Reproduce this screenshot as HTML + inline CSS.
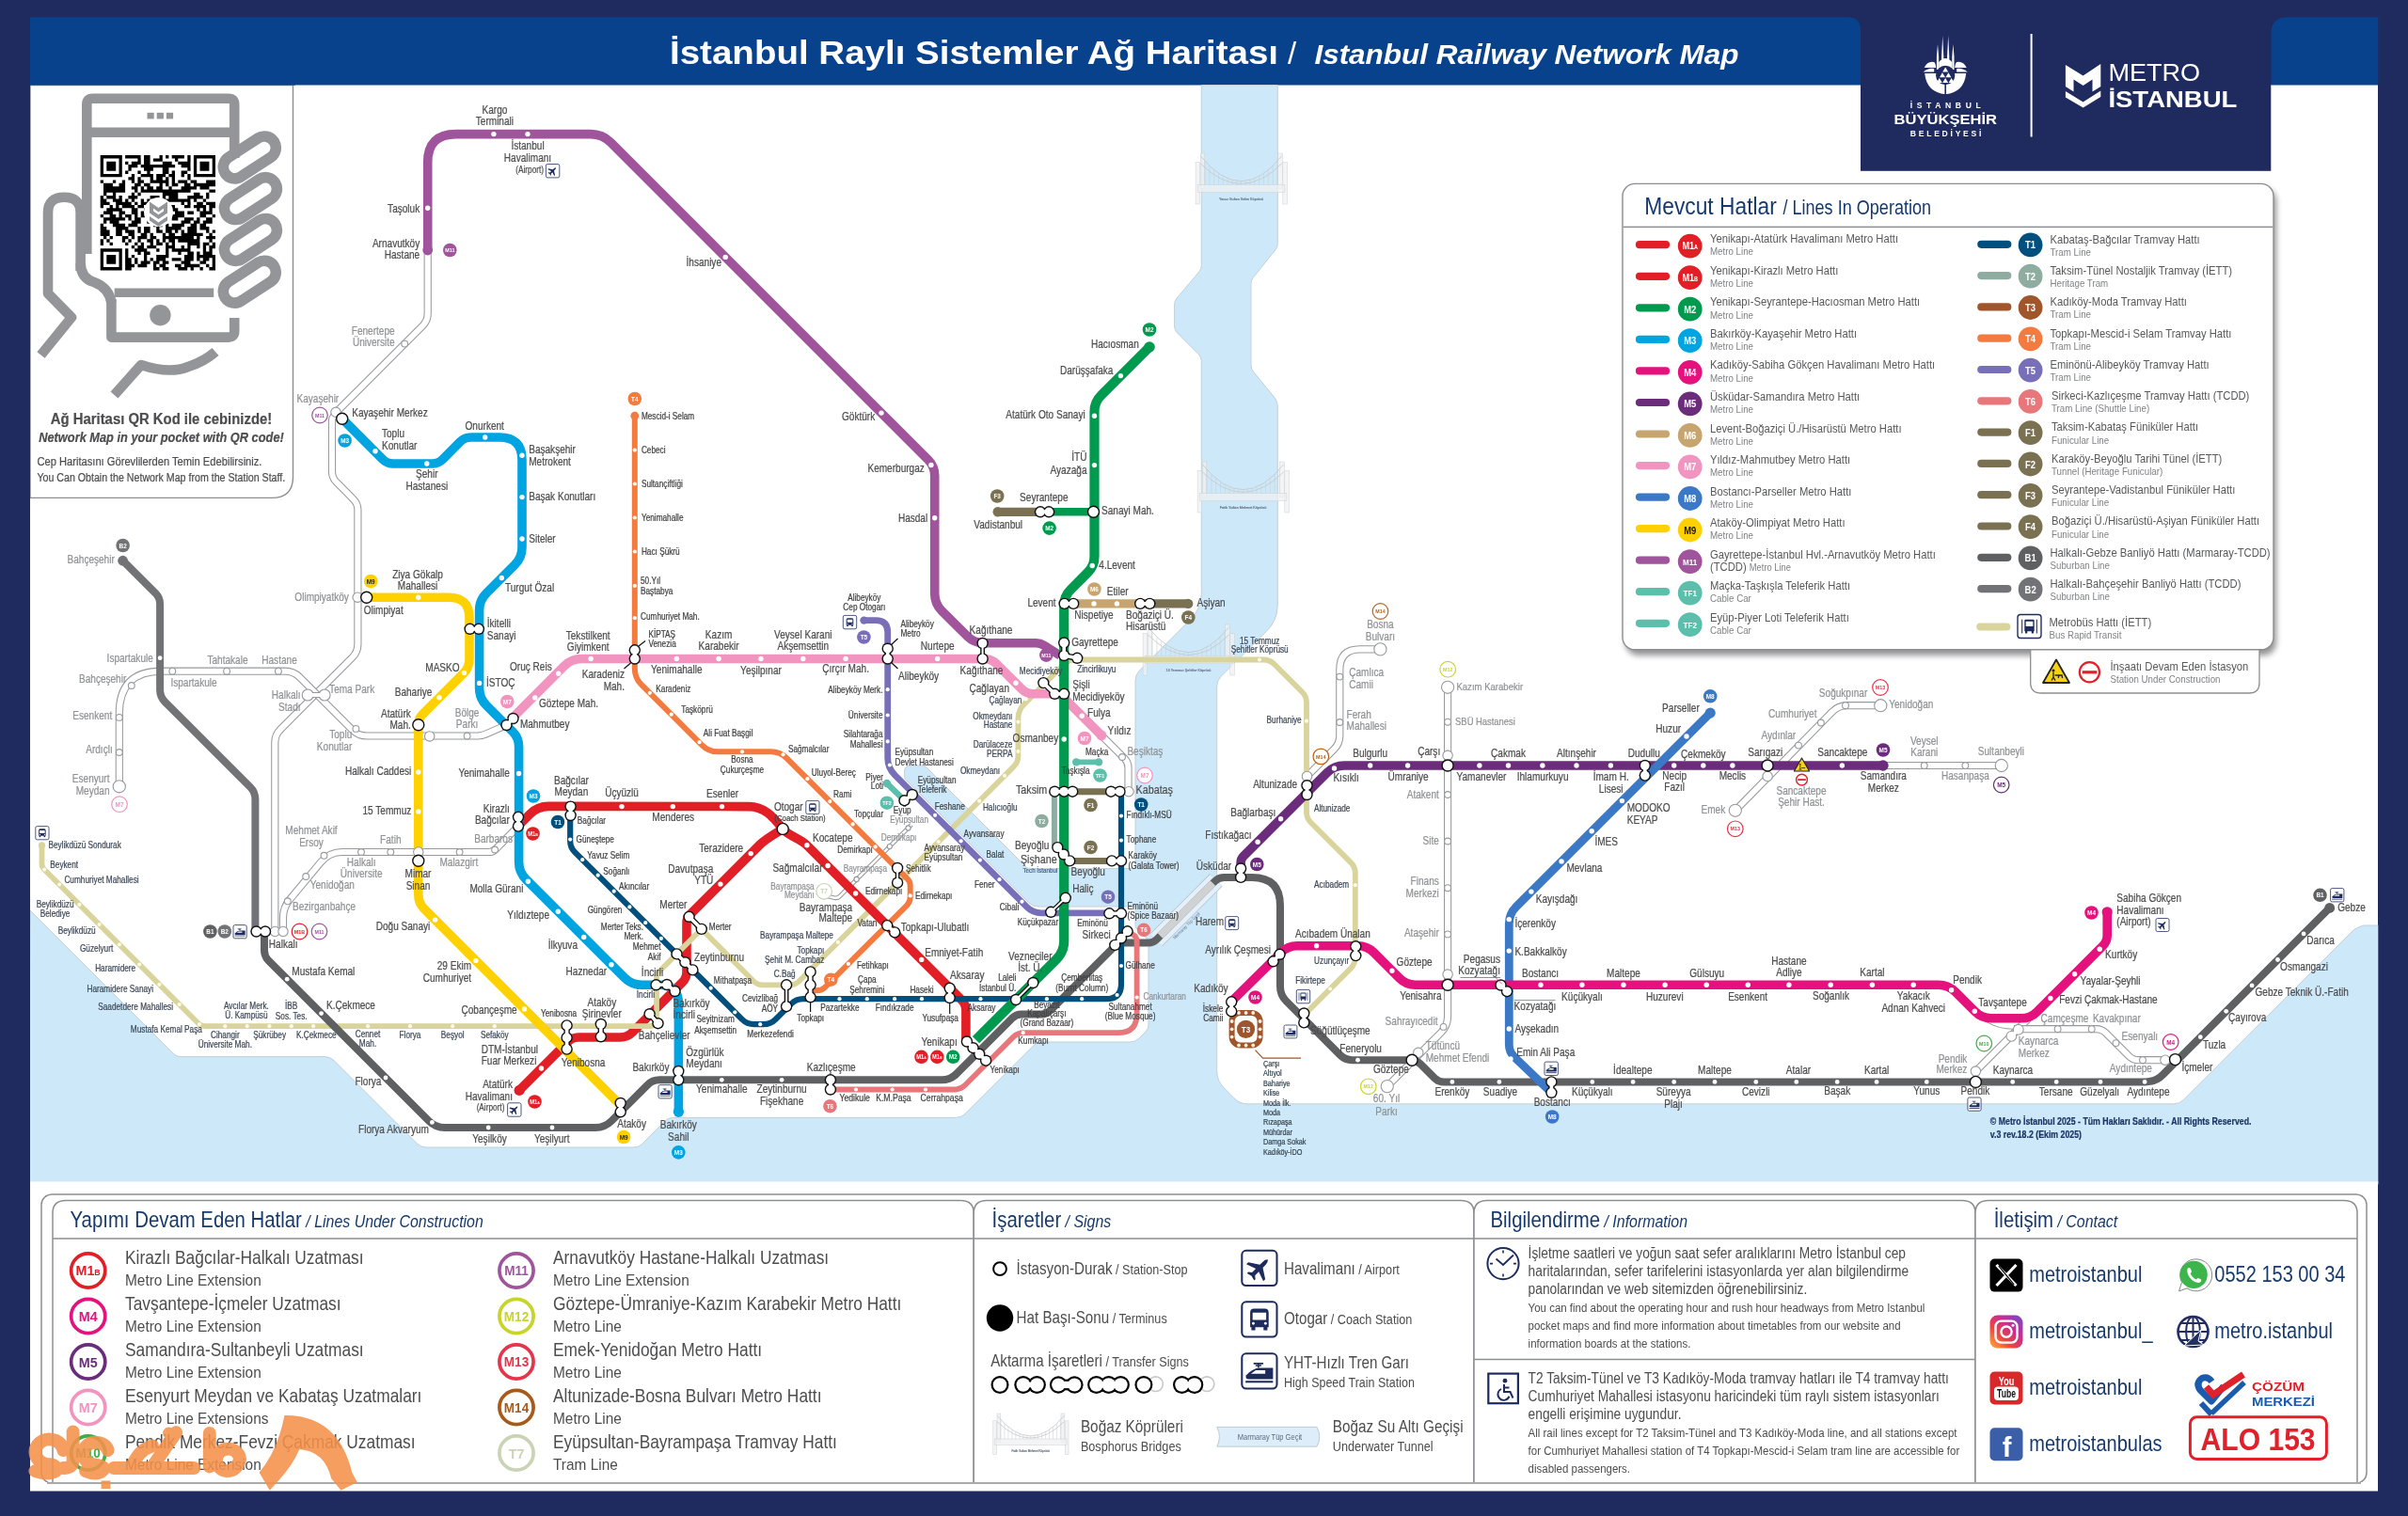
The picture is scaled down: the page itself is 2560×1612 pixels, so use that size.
<!DOCTYPE html>
<html><head><meta charset="utf-8"><title>Istanbul Railway Network Map</title>
<style>html,body{margin:0;padding:0;background:#1f2a5e}svg{display:block}text{font-family:"Liberation Sans",sans-serif}</style>
</head><body>
<svg width="2560" height="1612" viewBox="0 0 2560 1612" style="opacity:0.9999">
<rect x="0" y="0" width="2560" height="1612" fill="#1f2a5e"/>
<rect x="32" y="90" width="2496" height="1495.5" fill="#fff"/>
<path d="M32 18.3 H1964 Q1978 18.3 1978 32 V90.5 H32 Z" fill="#08428c"/>
<path d="M2528.3 18.3 H2432 Q2414.3 18.3 2414.3 36 V90.5 H2528.3 Z" fill="#08428c"/>
<rect x="1978" y="0" width="436.3" height="181.8" fill="#1f2a5e"/>
<path d="M32.0 968.0 L180.9 1116.9 Q181.0 1117.0 181.1 1117.1 L185.1 1120.9 Q188.0 1123.6 192.0 1123.6 L345.2 1123.6 Q351.0 1123.6 355.1 1127.7 L443.4 1215.9 Q447.5 1220.0 453.3 1220.0 L674.0 1220.0 Q679.0 1220.0 682.5 1216.5 L707.0 1191.9 Q710.5 1188.4 715.5 1188.4 L1016.2 1188.4 Q1022.0 1188.4 1026.1 1184.3 L1099.0 1111.5 Q1102.5 1108.0 1107.5 1108.0 L1201.2 1108.0 Q1207.0 1108.0 1211.1 1103.9 L1218.1 1096.9 Q1221.0 1094.0 1221.0 1089.9 L1221.0 1002.5 Q1221.0 1000.0 1219.2 998.2 L1208.2 987.2 Q1207.0 986.0 1207.0 984.3 L1207.0 964.0 L1103.8 964.0 Q1098.0 964.0 1093.9 959.9 L962.4 828.4 Q961.5 827.5 961.5 826.3 L961.5 820.8 Q961.5 814.0 968.2 814.0 L980.5 814.0 Q983.0 814.0 984.8 815.8 L1090.3 921.3 Q1092.6 923.6 1095.9 923.6 L1207.0 923.6 L1207.0 723.6 Q1207.0 717.4 1211.4 713.0 L1265.6 658.7 Q1277.3 647.0 1277.3 630.4 L1277.3 383.8 Q1277.3 379.7 1274.4 376.8 L1251.5 353.9 Q1248.6 351.0 1248.6 346.9 L1248.6 323.7 Q1248.6 320.0 1251.0 317.2 L1274.9 288.8 Q1277.3 286.0 1277.3 282.3 L1277.3 90.5 L1358.3 90.5 L1358.3 259.3 Q1358.3 262.8 1356.1 265.5 L1332.2 295.3 Q1330.0 298.0 1330.0 301.5 L1330.0 388.5 Q1330.0 392.0 1332.2 394.8 L1355.2 423.1 Q1358.3 427.0 1358.3 432.0 L1358.3 642.9 Q1358.3 659.6 1346.5 671.3 L1298.1 719.3 Q1293.7 723.7 1293.7 729.9 L1293.7 1138.8 Q1293.7 1149.0 1300.8 1156.3 L1312.1 1167.8 Q1318.0 1173.8 1326.4 1173.8 L2311.2 1173.8 Q2317.0 1173.8 2321.1 1169.7 L2501.2 989.8 Q2503.0 988.0 2505.4 986.9 L2510.4 984.7 Q2512.0 984.0 2513.7 984.0 L2530.0 984.0 L2530.0 1257.5 L30.0 1257.5 Z" fill="#cde9f9" stroke="#c3cfd8" stroke-width="1"/>
<rect x="0" y="900" width="32" height="400" fill="#1f2a5e"/>
<rect x="2528.3" y="900" width="32" height="400" fill="#1f2a5e"/>
<rect x="32" y="1256.5" width="2496.3" height="3" fill="#fff"/>
<g stroke="#cdd0d4" stroke-width="0.5" fill="#eef0f1" fill-opacity="0.75">
<rect x="1271.1" y="172.7" width="4.6" height="44.3"/>
<rect x="1276.2" y="163.0" width="4.6" height="37.8"/>
<rect x="1363.8" y="172.7" width="4.6" height="44.3"/>
<rect x="1358.7" y="163.0" width="4.6" height="37.8"/>
<rect x="1273.2" y="196.5" width="92.7" height="8.1"/>
</g>
<path d="M1276.2 165.7 Q1319.5 219.7 1362.8 165.7" fill="none" stroke="#c4c6c9" stroke-width="0.8"/>
<path d="M1276.2 173.8 Q1319.5 217.0 1362.8 173.8" fill="none" stroke="#c4c6c9" stroke-width="0.8"/>
<path d="M1281.0 171.4 V196.5 M1285.9 176.4 V196.5 M1290.7 180.7 V196.5 M1295.5 184.4 V196.5 M1300.3 187.4 V196.5 M1305.1 189.7 V196.5 M1309.9 191.4 V196.5 M1314.7 192.4 V196.5 M1319.5 192.7 V196.5 M1324.3 192.4 V196.5 M1329.1 191.4 V196.5 M1333.9 189.7 V196.5 M1338.7 187.4 V196.5 M1343.5 184.4 V196.5 M1348.3 180.7 V196.5 M1353.1 176.4 V196.5 M1358.0 171.4 V196.5" stroke="#c9cbce" stroke-width="0.5" fill="none"/>
<text transform="translate(1319.5 213.2) scale(0.850 1)" font-size="4.4" text-anchor="middle" fill="#6d7b8f" stroke="#6d7b8f" stroke-width="0.22" >Yavuz Sultan Selim Köprüsü</text>
<g stroke="#cdd0d4" stroke-width="0.5" fill="#eef0f1" fill-opacity="0.75">
<rect x="1273.1" y="500.7" width="4.6" height="44.3"/>
<rect x="1278.2" y="491.0" width="4.6" height="37.8"/>
<rect x="1365.8" y="500.7" width="4.6" height="44.3"/>
<rect x="1360.7" y="491.0" width="4.6" height="37.8"/>
<rect x="1275.2" y="524.5" width="92.7" height="8.1"/>
</g>
<path d="M1278.2 493.7 Q1321.5 547.7 1364.8 493.7" fill="none" stroke="#c4c6c9" stroke-width="0.8"/>
<path d="M1278.2 501.8 Q1321.5 545.0 1364.8 501.8" fill="none" stroke="#c4c6c9" stroke-width="0.8"/>
<path d="M1283.0 499.4 V524.5 M1287.9 504.4 V524.5 M1292.7 508.7 V524.5 M1297.5 512.4 V524.5 M1302.3 515.4 V524.5 M1307.1 517.7 V524.5 M1311.9 519.4 V524.5 M1316.7 520.4 V524.5 M1321.5 520.7 V524.5 M1326.3 520.4 V524.5 M1331.1 519.4 V524.5 M1335.9 517.7 V524.5 M1340.7 515.4 V524.5 M1345.5 512.4 V524.5 M1350.3 508.7 V524.5 M1355.1 504.4 V524.5 M1360.0 499.4 V524.5" stroke="#c9cbce" stroke-width="0.5" fill="none"/>
<text transform="translate(1321.5 541.2) scale(0.850 1)" font-size="4.4" text-anchor="middle" fill="#6d7b8f" stroke="#6d7b8f" stroke-width="0.22" >Fatih Sultan Mehmet Köprüsü</text>
<path d="M454.7 266.0 L454.7 333.6 Q454.7 341.1 449.4 346.4 L360.3 435.5 Q360.0 435.8 359.8 436.1 L354.2 443.4 Q353.0 445.0 353.0 447.0 L353.0 501.4 Q353.0 508.0 357.7 512.7 L375.7 530.8 Q380.4 535.5 380.4 542.1 L380.4 685.0 Q380.4 693.3 374.5 699.2 L298.2 775.5 Q292.3 781.4 292.3 789.7 L292.3 990.5" fill="none" stroke="#97999c" stroke-width="8.2" stroke-linecap="butt" stroke-linejoin="round"/>
<path d="M454.7 266.0 L454.7 333.6 Q454.7 341.1 449.4 346.4 L360.3 435.5 Q360.0 435.8 359.8 436.1 L354.2 443.4 Q353.0 445.0 353.0 447.0 L353.0 501.4 Q353.0 508.0 357.7 512.7 L375.7 530.8 Q380.4 535.5 380.4 542.1 L380.4 685.0 Q380.4 693.3 374.5 699.2 L298.2 775.5 Q292.3 781.4 292.3 789.7 L292.3 990.5" fill="none" stroke="#fff" stroke-width="6.1" stroke-linecap="butt" stroke-linejoin="round"/>
<path d="M126.8 836.3 L126.8 758.7 Q126.8 713.7 171.8 713.7 L303.1 713.7 Q312.2 713.7 318.6 720.1 L374.6 776.1 Q381.0 782.5 390.1 782.5 L506.8 782.5 Q512.0 782.5 516.8 780.4 L538.5 770.9" fill="none" stroke="#97999c" stroke-width="8.2" stroke-linecap="butt" stroke-linejoin="round"/>
<path d="M126.8 836.3 L126.8 758.7 Q126.8 713.7 171.8 713.7 L303.1 713.7 Q312.2 713.7 318.6 720.1 L374.6 776.1 Q381.0 782.5 390.1 782.5 L506.8 782.5 Q512.0 782.5 516.8 780.4 L538.5 770.9" fill="none" stroke="#fff" stroke-width="6.1" stroke-linecap="butt" stroke-linejoin="round"/>
<path d="M551.0 878.6 L526.9 903.0 Q524.0 906.0 519.8 906.0 L364.1 906.0 Q350.0 906.0 341.0 916.8 L307.9 956.7 Q301.0 965.0 301.0 975.8 L301.0 990.5" fill="none" stroke="#97999c" stroke-width="8.2" stroke-linecap="butt" stroke-linejoin="round"/>
<path d="M551.0 878.6 L526.9 903.0 Q524.0 906.0 519.8 906.0 L364.1 906.0 Q350.0 906.0 341.0 916.8 L307.9 956.7 Q301.0 965.0 301.0 975.8 L301.0 990.5" fill="none" stroke="#fff" stroke-width="6.1" stroke-linecap="butt" stroke-linejoin="round"/>
<path d="M1171.0 782.0 L1195.4 806.4 Q1199.5 810.5 1199.5 816.3 L1199.5 841.7" fill="none" stroke="#97999c" stroke-width="8.2" stroke-linecap="butt" stroke-linejoin="round"/>
<path d="M1171.0 782.0 L1195.4 806.4 Q1199.5 810.5 1199.5 816.3 L1199.5 841.7" fill="none" stroke="#fff" stroke-width="6.1" stroke-linecap="butt" stroke-linejoin="round"/>
<path d="M1467.4 690.4 L1445.8 690.4 Q1424.3 690.4 1424.3 712.0 L1424.3 782.3 Q1424.3 790.6 1418.4 796.5 L1389.5 825.4" fill="none" stroke="#97999c" stroke-width="8.2" stroke-linecap="butt" stroke-linejoin="round"/>
<path d="M1467.4 690.4 L1445.8 690.4 Q1424.3 690.4 1424.3 712.0 L1424.3 782.3 Q1424.3 790.6 1418.4 796.5 L1389.5 825.4" fill="none" stroke="#fff" stroke-width="6.1" stroke-linecap="butt" stroke-linejoin="round"/>
<path d="M1539.1 730.8 L1539.1 1080.4 Q1539.1 1090.8 1531.8 1098.1 L1474.8 1155.1" fill="none" stroke="#97999c" stroke-width="8.2" stroke-linecap="butt" stroke-linejoin="round"/>
<path d="M1539.1 730.8 L1539.1 1080.4 Q1539.1 1090.8 1531.8 1098.1 L1474.8 1155.1" fill="none" stroke="#fff" stroke-width="6.1" stroke-linecap="butt" stroke-linejoin="round"/>
<path d="M1844.8 861.8 L1947.9 756.8 Q1954.4 750.2 1963.6 750.2 L1999.3 750.2" fill="none" stroke="#97999c" stroke-width="8.2" stroke-linecap="butt" stroke-linejoin="round"/>
<path d="M1844.8 861.8 L1947.9 756.8 Q1954.4 750.2 1963.6 750.2 L1999.3 750.2" fill="none" stroke="#fff" stroke-width="6.1" stroke-linecap="butt" stroke-linejoin="round"/>
<path d="M2002.0 814.0 L2127.8 814.0" fill="none" stroke="#97999c" stroke-width="8.2" stroke-linecap="butt" stroke-linejoin="round"/>
<path d="M2002.0 814.0 L2127.8 814.0" fill="none" stroke="#fff" stroke-width="6.1" stroke-linecap="butt" stroke-linejoin="round"/>
<path d="M2100.4 1139.1 L2156.0 1083.5" fill="none" stroke="#97999c" stroke-width="8.2" stroke-linecap="butt" stroke-linejoin="round"/>
<path d="M2100.4 1139.1 L2156.0 1083.5" fill="none" stroke="#fff" stroke-width="6.1" stroke-linecap="butt" stroke-linejoin="round"/>
<path d="M2093 1069 Q2112 1094.2 2140 1094.2" fill="none" stroke="#97999c" stroke-width="1.1"/>
<path d="M2141.0 1094.2 L2228.4 1094.2 Q2234.6 1094.2 2239.0 1098.6 L2263.2 1122.8 Q2267.6 1127.2 2273.8 1127.2 L2301.9 1127.2" fill="none" stroke="#97999c" stroke-width="8.2" stroke-linecap="butt" stroke-linejoin="round"/>
<path d="M2141.0 1094.2 L2228.4 1094.2 Q2234.6 1094.2 2239.0 1098.6 L2263.2 1122.8 Q2267.6 1127.2 2273.8 1127.2 L2301.9 1127.2" fill="none" stroke="#fff" stroke-width="6.1" stroke-linecap="butt" stroke-linejoin="round"/>
<path d="M880.0 953.0 L887.2 954.7 Q890.4 955.4 892.8 953.0 L969.0 876.8" fill="none" stroke="#97999c" stroke-width="4.6" stroke-linecap="butt" stroke-linejoin="round"/>
<path d="M880.0 953.0 L887.2 954.7 Q890.4 955.4 892.8 953.0 L969.0 876.8" fill="none" stroke="#fff" stroke-width="2.5" stroke-linecap="butt" stroke-linejoin="round"/>
<path d="M832.2 881.4 C822 887.6 813.7 892.3 808 898  L733.5 972.5 Q730.0 976.0 730.0 981.0 L730.0 1033.4 Q730.0 1040.0 725.3 1044.7 L672.3 1097.7 Q667.0 1103.0 659.5 1103.0 L615.1 1103.0 Q608.5 1103.0 603.8 1107.7 L552.1 1159.4" fill="none" stroke="#e21f26" stroke-width="9.6" stroke-linejoin="round"/>
<g stroke="#cdd0d4" stroke-width="0.5" fill="#eef0f1" fill-opacity="0.75">
<rect x="1215.1" y="673.7" width="4.6" height="44.3"/>
<rect x="1220.2" y="664.0" width="4.6" height="37.8"/>
<rect x="1307.8" y="673.7" width="4.6" height="44.3"/>
<rect x="1302.7" y="664.0" width="4.6" height="37.8"/>
<rect x="1217.2" y="697.5" width="92.7" height="8.1"/>
</g>
<path d="M1220.2 666.7 Q1263.5 720.7 1306.8 666.7" fill="none" stroke="#c4c6c9" stroke-width="0.8"/>
<path d="M1220.2 674.8 Q1263.5 718.0 1306.8 674.8" fill="none" stroke="#c4c6c9" stroke-width="0.8"/>
<path d="M1225.0 672.4 V697.5 M1229.9 677.4 V697.5 M1234.7 681.7 V697.5 M1239.5 685.4 V697.5 M1244.3 688.4 V697.5 M1249.1 690.7 V697.5 M1253.9 692.4 V697.5 M1258.7 693.4 V697.5 M1263.5 693.7 V697.5 M1268.3 693.4 V697.5 M1273.1 692.4 V697.5 M1277.9 690.7 V697.5 M1282.7 688.4 V697.5 M1287.5 685.4 V697.5 M1292.3 681.7 V697.5 M1297.1 677.4 V697.5 M1302.0 672.4 V697.5" stroke="#c9cbce" stroke-width="0.5" fill="none"/>
<text transform="translate(1263.5 714.2) scale(0.850 1)" font-size="4.4" text-anchor="middle" fill="#6d7b8f" stroke="#6d7b8f" stroke-width="0.22" >15 Temmuz Şehitler Köprüsü</text>
<path d="M44.5 898.8 L44.5 918.6 Q44.5 921.9 46.8 924.2 L210.9 1088.3 Q213.8 1091.2 217.9 1091.2 L690.0 1091.2 Q698.0 1091.2 698.0 1083.2 L698.0 1038.3 Q698.0 1035.8 699.8 1034.0 L745.7 988.0 Q745.8 987.9 745.9 988.0 L801.1 1043.2 Q805.2 1047.3 811.0 1047.3 L839.7 1047.3 Q845.5 1047.3 849.6 1043.2 L1077.7 815.1 Q1082.4 810.4 1082.4 803.8 L1082.4 764.1 Q1082.4 755.0 1088.9 748.6 L1132.5 705.0 Q1136.0 701.5 1141.0 701.5 L1343.4 701.5 Q1350.0 701.5 1354.7 706.2 L1384.3 735.8 Q1389.0 740.5 1389.0 747.1 L1389.0 863.4 Q1389.0 870.0 1393.7 874.7 L1436.1 917.1 Q1440.8 921.8 1440.8 928.4 L1440.8 1018.3 Q1440.8 1024.9 1436.1 1029.6 L1386.3 1079.4" fill="none" stroke="#d8d49c" stroke-width="5.8" stroke-linecap="round" stroke-linejoin="round" />
<path d="M1229 999.6 L1292.8 935.8" stroke="#b4c0c9" stroke-width="19" fill="none"/>
<path d="M1229 999.6 L1292.8 935.8" stroke="#e3f0f9" stroke-width="17.4" fill="none"/>
<path d="M130.6 596.2 L165.4 630.9 Q170.1 635.6 170.1 642.2 L170.1 733.5 Q170.1 741.0 175.4 746.3 L266.1 837.0 Q271.4 842.3 271.4 849.8 L271.4 990.5" fill="none" stroke="#727376" stroke-width="8.0" stroke-linecap="butt" stroke-linejoin="round" />
<path d="M281.0 990.5 L281.0 1010.4 Q281.0 1017.0 285.7 1021.7 L456.0 1192.0 Q463.0 1199.0 472.9 1199.0 L633.1 1199.0 Q643.0 1199.0 650.0 1192.0 L688.4 1153.6 Q693.7 1148.3 701.2 1148.3 L1001.3 1148.3 Q1010.4 1148.3 1016.8 1141.9 L1076.1 1082.6 Q1080.2 1078.5 1086.0 1078.5 L1106.9 1078.5 Q1112.7 1078.5 1116.8 1074.4 L1186.4 1004.8 Q1188.7 1002.5 1192.0 1002.5 L1221.1 1002.5 Q1226.1 1002.5 1229.6 999.0 L1291.6 937.0 Q1295.7 932.9 1301.5 932.9 L1331.0 932.9 Q1361.0 932.9 1361.0 962.9 L1361.0 1049.0 Q1361.0 1058.1 1367.4 1064.5 L1424.8 1121.9 Q1430.1 1127.2 1437.6 1127.2 L1500.2 1127.2 Q1506.0 1127.2 1510.1 1131.3 L1525.1 1146.3 Q1529.2 1150.4 1535.0 1150.4 L2280.9 1150.4 Q2291.7 1150.4 2299.3 1142.8 L2476.7 965.4" fill="none" stroke="#5e6062" stroke-width="8.0" stroke-linecap="butt" stroke-linejoin="round" />
<path d="M1233.5 995.1 L1289.5 939.1" stroke="#cfd1d3" stroke-width="8.2" fill="none"/>
<text transform="translate(1262.5 985.5) rotate(-45) scale(0.85 1)" font-size="5" fill="#6d7b8f" text-anchor="middle">Marmaray Tüp Geçit</text>
<path d="M882.9 1158.5 L1014.8 1158.5 Q1021.4 1158.5 1026.1 1153.8 L1077.0 1102.9 Q1081.7 1098.2 1088.3 1098.2 L1188.6 1098.2 Q1208.6 1098.2 1208.6 1078.2 L1208.6 1000.6 Q1208.6 996.0 1204.6 993.7 L1198.6 990.3" fill="none" stroke="#e8777c" stroke-width="5.8" stroke-linecap="butt" stroke-linejoin="round" />
<path d="M549.0 880.0 L563.4 865.6 Q571.6 857.4 583.2 857.4 L796.0 857.6 C814 857.6 823.2 870.6 832.2 881.4 C838.6 889.1 850.8 891.7 857.9 898.8  L1022.2 1063.1 Q1026.9 1067.8 1026.9 1074.4 L1026.9 1107.5" fill="none" stroke="#e21f26" stroke-width="9.6" stroke-linejoin="round"/>
<path d="M389.7 635.2 L477.0 635.2 Q499.0 635.2 499.0 657.2 L499.0 700.7 Q499.0 709.8 492.6 716.2 L448.9 759.9 Q444.8 764.0 444.8 769.8 L444.8 951.2 Q444.8 960.3 451.2 966.7 L659.7 1175.2" fill="none" stroke="#ffd100" stroke-width="9.6" stroke-linecap="butt" stroke-linejoin="round" />
<path d="M363.7 445.2 L406.8 488.3 Q411.5 493.0 418.1 493.0 L459.4 493.0 Q466.0 493.0 470.7 488.3 L489.3 469.7 Q494.0 465.0 500.6 465.0 L531.0 465.0 Q555.0 465.0 555.0 489.0 L555.0 582.0 Q555.0 592.8 547.4 600.4 L517.2 630.6 Q509.6 638.2 509.6 649.0 L509.6 731.8 Q509.6 742.6 517.2 750.2 L545.2 778.2 Q551.6 784.6 551.6 793.7 L551.6 916.6 Q551.6 927.4 559.2 935.0 L663.9 1039.7 Q671.5 1047.3 682.3 1047.3 L701.4 1047.3 Q721.4 1047.3 721.4 1067.3 L721.4 1182.3" fill="none" stroke="#00a4e0" stroke-width="9.6" stroke-linecap="butt" stroke-linejoin="round" />
<path d="M544.3 763.9 L599.9 708.1 Q607.5 700.5 618.3 700.5 L1046.5 700.5 Q1054.0 700.5 1059.3 705.8 L1086.0 732.5 Q1091.3 737.8 1098.8 737.8 L1120.1 737.8 Q1126.7 737.8 1131.4 742.5 L1171.0 782.0" fill="none" stroke="#f294c0" stroke-width="9.6" stroke-linecap="butt" stroke-linejoin="round" />
<path d="M674.8 442.2 L674.8 710.9 Q674.8 720.8 681.8 727.8 L746.3 792.3 Q753.3 799.3 763.2 799.3 L819.6 799.3 Q829.5 799.3 836.5 806.3 L964.8 934.6 Q967.7 937.5 967.7 941.6 L967.7 954.1 Q967.7 959.1 964.2 962.6 L877.0 1049.8 Q873.5 1053.3 868.5 1053.3 L862.0 1053.3" fill="none" stroke="#f47b3f" stroke-width="6.0" stroke-linecap="butt" stroke-linejoin="round" />
<path d="M918.5 659.6 L931.1 659.6 Q943.7 659.6 943.7 672.2 L943.7 805.8 Q943.7 816.6 951.3 824.2 L1091.6 964.4 Q1098.0 970.8 1107.1 970.8 L1179.4 970.8" fill="none" stroke="#776fb7" stroke-width="6.8" stroke-linecap="butt" stroke-linejoin="round" />
<path d="M606.2 867.0 L606.2 894.6 Q606.2 901.2 610.9 905.9 L788.9 1083.9 Q794.2 1089.2 801.7 1089.2 L811.7 1089.2 Q819.1 1089.2 824.4 1084.0 L841.1 1067.4 Q846.4 1062.2 853.8 1062.2 L1176.0 1062.2 Q1192.0 1062.2 1192.0 1046.2 L1192.0 841.7" fill="none" stroke="#00507f" stroke-width="6.2" stroke-linecap="butt" stroke-linejoin="round" />
<path d="M1120.9 841.7 L1120.9 899.0" fill="none" stroke="#8eaca0" stroke-width="6.0" stroke-linecap="butt" stroke-linejoin="round" />
<path d="M454.7 266.0 L454.7 172.6 Q454.7 142.6 484.7 142.6 L628.0 142.6 Q640.4 142.6 649.2 151.4 L986.7 488.8 Q993.7 495.8 993.7 505.7 L993.7 631.2 Q993.7 642.0 1001.3 649.6 L1028.5 676.7 Q1035.5 683.7 1045.4 683.7 L1101.4 683.7 Q1106.0 683.7 1109.9 686.2 L1127.0 697.0" fill="none" stroke="#a0549c" stroke-width="9.6" stroke-linecap="butt" stroke-linejoin="round" />
<path d="M1163.5 544.3 L1115.0 544.3" fill="none" stroke="#009a4e" stroke-width="8.6" stroke-linecap="butt" stroke-linejoin="round" />
<path d="M1222.0 369.0 L1170.5 420.5 Q1163.5 427.5 1163.5 437.4 L1163.5 591.7 Q1163.5 601.6 1156.5 608.6 L1138.2 627.0 Q1131.2 634.0 1131.2 643.9 L1131.2 1000.4 Q1131.2 1012.0 1123.0 1020.2 L1037.5 1105.7" fill="none" stroke="#009a4e" stroke-width="10.2" stroke-linecap="butt" stroke-linejoin="round" />
<path d="M1141.0 641.9 L1222.0 641.9" fill="none" stroke="#c7a571" stroke-width="9.3" stroke-linecap="butt" stroke-linejoin="round" />
<path d="M1222.0 641.9 L1263.2 641.9" fill="none" stroke="#7a7052" stroke-width="9.3" stroke-linecap="butt" stroke-linejoin="round" />
<path d="M1060.7 544.3 L1106.0 544.3" fill="none" stroke="#7a7052" stroke-width="9.3" stroke-linecap="butt" stroke-linejoin="round" />
<path d="M1140.0 841.7 L1181.0 841.7" fill="none" stroke="#7a7052" stroke-width="7.0" stroke-linecap="butt" stroke-linejoin="round" />
<path d="M1137.0 915.4 L1182.0 915.4" fill="none" stroke="#7a7052" stroke-width="7.0" stroke-linecap="butt" stroke-linejoin="round" />
<path d="M1144.2 810.4 L1168.1 810.4" fill="none" stroke="#5cbfab" stroke-width="5.6" stroke-linecap="round" stroke-linejoin="round" />
<circle cx="1144.2" cy="810.4" r="4.2" fill="#5cbfab"/>
<circle cx="1168.1" cy="810.4" r="4.2" fill="#5cbfab"/>
<path d="M942.9 833.0 L961.8 851.3" fill="none" stroke="#5cbfab" stroke-width="6.4" stroke-linecap="round" stroke-linejoin="round" />
<circle cx="942.9" cy="833.0" r="4.2" fill="#5cbfab"/>
<path d="M1319.1 926.0 L1319.1 917.4 Q1319.1 913.3 1322.0 910.4 L1410.8 821.6 Q1418.4 814.0 1429.2 814.0 L2001.9 814.0" fill="none" stroke="#6b2c7b" stroke-width="9.6" stroke-linecap="butt" stroke-linejoin="round" />
<path d="M1818.2 758.1 L1611.9 964.1 Q1604.3 971.7 1604.3 982.5 L1604.3 1110.8 Q1604.3 1118.5 1609.8 1123.8 L1649.4 1161.8" fill="none" stroke="#3b79c7" stroke-width="8.8" stroke-linecap="butt" stroke-linejoin="round" />
<path d="M1309.2 1064.8 L1362.2 1012.7 Q1369.2 1005.8 1379.0 1005.8 L1443.6 1005.8 Q1453.6 1005.8 1460.6 1012.9 L1487.8 1040.1 Q1494.8 1047.2 1504.8 1047.2 L2060.6 1047.2 Q2071.4 1047.2 2079.0 1054.9 L2099.8 1075.7 Q2106.8 1082.8 2116.8 1082.8 L2148.7 1082.8 Q2158.6 1082.8 2165.6 1075.8 L2235.5 1005.9 Q2240.2 1001.2 2240.2 994.6 L2240.2 969.8" fill="none" stroke="#e5127d" stroke-width="9.6" stroke-linecap="butt" stroke-linejoin="round" />
<rect x="1309.6" y="1077" width="30" height="34.5" rx="9" fill="none" stroke="#a0562a" stroke-width="6"/>
<path d="M1334.5 1116.6 L1342.5 1125.1 H1383.1" fill="none" stroke="#a0562a" stroke-width="1.2"/>
<circle cx="454.7" cy="266.0" r="5.4" fill="#a0549c"/>
<circle cx="130.6" cy="596.2" r="5.4" fill="#727376"/>
<circle cx="1222.0" cy="369.0" r="5.8" fill="#009a4e"/>
<circle cx="1060.7" cy="544.3" r="5.2" fill="#7a7052"/>
<circle cx="1263.2" cy="641.9" r="5.2" fill="#7a7052"/>
<circle cx="918.5" cy="659.6" r="4.2" fill="#776fb7"/>
<circle cx="674.8" cy="442.2" r="4.4" fill="#f47b3f"/>
<circle cx="552.1" cy="1159.4" r="5.6" fill="#e21f26"/>
<circle cx="721.4" cy="1182.3" r="5.6" fill="#00a4e0"/>
<circle cx="1171.0" cy="782.0" r="5.4" fill="#f294c0"/>
<circle cx="1818.2" cy="758.1" r="5.6" fill="#3b79c7"/>
<circle cx="2001.9" cy="814.0" r="5.8" fill="#6b2c7b"/>
<circle cx="2240.2" cy="969.8" r="5.6" fill="#e5127d"/>
<circle cx="2476.7" cy="965.4" r="5.4" fill="#5e6062"/>
<circle cx="44.5" cy="898.8" r="3.6" fill="#d8d49c"/>
<circle cx="430.2" cy="365.6" r="3.4" fill="#fff" stroke="#97999c" stroke-width="1.1"/>
<circle cx="139.8" cy="729.0" r="3.4" fill="#fff" stroke="#97999c" stroke-width="1.1"/>
<circle cx="126.8" cy="762.9" r="3.4" fill="#fff" stroke="#97999c" stroke-width="1.1"/>
<circle cx="126.8" cy="800.0" r="3.4" fill="#fff" stroke="#97999c" stroke-width="1.1"/>
<circle cx="183.3" cy="713.7" r="3.4" fill="#fff" stroke="#97999c" stroke-width="1.1"/>
<circle cx="241.1" cy="713.7" r="3.4" fill="#fff" stroke="#97999c" stroke-width="1.1"/>
<circle cx="295.9" cy="713.7" r="3.4" fill="#fff" stroke="#97999c" stroke-width="1.1"/>
<circle cx="378.4" cy="774.9" r="3.4" fill="#fff" stroke="#97999c" stroke-width="1.1"/>
<circle cx="496.6" cy="782.5" r="3.4" fill="#fff" stroke="#97999c" stroke-width="1.1"/>
<circle cx="526.1" cy="903.5" r="3.4" fill="#fff" stroke="#97999c" stroke-width="1.1"/>
<circle cx="488.6" cy="906.0" r="3.4" fill="#fff" stroke="#97999c" stroke-width="1.1"/>
<circle cx="415.3" cy="906.0" r="3.4" fill="#fff" stroke="#97999c" stroke-width="1.1"/>
<circle cx="384.0" cy="906.0" r="3.4" fill="#fff" stroke="#97999c" stroke-width="1.1"/>
<circle cx="344.5" cy="909.8" r="3.4" fill="#fff" stroke="#97999c" stroke-width="1.1"/>
<circle cx="325.2" cy="932.0" r="3.4" fill="#fff" stroke="#97999c" stroke-width="1.1"/>
<circle cx="305.8" cy="958.3" r="3.4" fill="#fff" stroke="#97999c" stroke-width="1.1"/>
<circle cx="1193.0" cy="805.0" r="3.4" fill="#fff" stroke="#97999c" stroke-width="1.1"/>
<circle cx="1424.3" cy="719.6" r="3.4" fill="#fff" stroke="#97999c" stroke-width="1.1"/>
<circle cx="1424.3" cy="768.0" r="3.4" fill="#fff" stroke="#97999c" stroke-width="1.1"/>
<circle cx="1539.1" cy="767.7" r="3.4" fill="#fff" stroke="#97999c" stroke-width="1.1"/>
<circle cx="1539.1" cy="845.0" r="3.4" fill="#fff" stroke="#97999c" stroke-width="1.1"/>
<circle cx="1539.1" cy="894.5" r="3.4" fill="#fff" stroke="#97999c" stroke-width="1.1"/>
<circle cx="1539.1" cy="944.2" r="3.4" fill="#fff" stroke="#97999c" stroke-width="1.1"/>
<circle cx="1539.1" cy="993.4" r="3.4" fill="#fff" stroke="#97999c" stroke-width="1.1"/>
<circle cx="1534.6" cy="1091.9" r="3.4" fill="#fff" stroke="#97999c" stroke-width="1.1"/>
<circle cx="1912.0" cy="792.6" r="3.4" fill="#fff" stroke="#97999c" stroke-width="1.1"/>
<circle cx="1935.9" cy="768.5" r="3.4" fill="#fff" stroke="#97999c" stroke-width="1.1"/>
<circle cx="1962.0" cy="750.2" r="3.4" fill="#fff" stroke="#97999c" stroke-width="1.1"/>
<circle cx="2045.7" cy="814.0" r="3.4" fill="#fff" stroke="#97999c" stroke-width="1.1"/>
<circle cx="2089.4" cy="814.0" r="3.4" fill="#fff" stroke="#97999c" stroke-width="1.1"/>
<circle cx="2187.6" cy="1094.2" r="3.4" fill="#fff" stroke="#97999c" stroke-width="1.1"/>
<circle cx="2223.7" cy="1094.2" r="3.4" fill="#fff" stroke="#97999c" stroke-width="1.1"/>
<circle cx="2249.5" cy="1109.1" r="3.4" fill="#fff" stroke="#97999c" stroke-width="1.1"/>
<circle cx="2278.0" cy="1127.2" r="3.4" fill="#fff" stroke="#97999c" stroke-width="1.1"/>
<circle cx="910.6" cy="935.0" r="2.6" fill="#fff" stroke="#97999c" stroke-width="1.1"/>
<circle cx="945.8" cy="900.1" r="2.6" fill="#fff" stroke="#97999c" stroke-width="1.1"/>
<circle cx="965.5" cy="880.5" r="2.6" fill="#fff" stroke="#97999c" stroke-width="1.1"/>
<circle cx="126.8" cy="836.3" r="6.6" fill="#fff" stroke="#97999c" stroke-width="1.1"/>
<circle cx="1467.4" cy="690.4" r="6.6" fill="#fff" stroke="#97999c" stroke-width="1.1"/>
<circle cx="1539.1" cy="730.8" r="6.6" fill="#fff" stroke="#97999c" stroke-width="1.1"/>
<circle cx="1474.8" cy="1155.1" r="6.6" fill="#fff" stroke="#97999c" stroke-width="1.1"/>
<circle cx="1844.8" cy="861.8" r="6.6" fill="#fff" stroke="#97999c" stroke-width="1.1"/>
<circle cx="1999.3" cy="750.2" r="6.6" fill="#fff" stroke="#97999c" stroke-width="1.1"/>
<circle cx="2127.8" cy="814.0" r="6.6" fill="#fff" stroke="#97999c" stroke-width="1.1"/>
<circle cx="357.0" cy="438.3" r="5.2" fill="#fff" stroke="#97999c" stroke-width="1.1"/>
<circle cx="380.2" cy="635.2" r="5.2" fill="#fff" stroke="#97999c" stroke-width="1.1"/>
<circle cx="456.7" cy="782.9" r="5.2" fill="#fff" stroke="#97999c" stroke-width="1.1"/>
<circle cx="444.8" cy="906.0" r="5.2" fill="#fff" stroke="#97999c" stroke-width="1.1"/>
<circle cx="292.3" cy="990.5" r="5.2" fill="#fff" stroke="#97999c" stroke-width="1.1"/>
<circle cx="301.0" cy="990.5" r="5.2" fill="#fff" stroke="#97999c" stroke-width="1.1"/>
<circle cx="1200.0" cy="841.7" r="5.2" fill="#fff" stroke="#97999c" stroke-width="1.1"/>
<circle cx="1389.5" cy="825.4" r="5.2" fill="#fff" stroke="#97999c" stroke-width="1.1"/>
<circle cx="1539.1" cy="803.3" r="5.2" fill="#fff" stroke="#97999c" stroke-width="1.1"/>
<circle cx="1879.1" cy="825.5" r="5.2" fill="#fff" stroke="#97999c" stroke-width="1.1"/>
<circle cx="1539.1" cy="1036.1" r="5.2" fill="#fff" stroke="#97999c" stroke-width="1.1"/>
<circle cx="1507.8" cy="1119.3" r="5.2" fill="#fff" stroke="#97999c" stroke-width="1.1"/>
<circle cx="2100.4" cy="1139.1" r="5.2" fill="#fff" stroke="#97999c" stroke-width="1.1"/>
<circle cx="2301.9" cy="1127.2" r="5.2" fill="#fff" stroke="#97999c" stroke-width="1.1"/>
<line x1="327.2" y1="739" x2="345.1" y2="739" stroke="#97999c" stroke-width="6.2"/>
<circle cx="327.2" cy="739.0" r="6.0" fill="#fff" stroke="#97999c" stroke-width="1.1"/>
<circle cx="345.1" cy="739.0" r="6.0" fill="#fff" stroke="#97999c" stroke-width="1.1"/>
<line x1="327.2" y1="739" x2="345.1" y2="739" stroke="#fff" stroke-width="4"/>
<line x1="2145.8" y1="1094.8" x2="2138.4" y2="1101.9" stroke="#97999c" stroke-width="6.2"/>
<circle cx="2145.8" cy="1094.8" r="5.4" fill="#fff" stroke="#97999c" stroke-width="1.1"/>
<circle cx="2138.4" cy="1101.9" r="5.4" fill="#fff" stroke="#97999c" stroke-width="1.1"/>
<line x1="2145.8" y1="1094.8" x2="2138.4" y2="1101.9" stroke="#fff" stroke-width="4"/>
<circle cx="524.9" cy="142.6" r="2.7" fill="#fff"/>
<circle cx="561.0" cy="142.6" r="2.7" fill="#fff"/>
<circle cx="454.7" cy="221.3" r="2.7" fill="#fff"/>
<circle cx="771.2" cy="273.4" r="2.7" fill="#fff"/>
<circle cx="937.0" cy="439.1" r="2.7" fill="#fff"/>
<circle cx="989.9" cy="494.5" r="2.7" fill="#fff"/>
<circle cx="993.7" cy="550.7" r="2.7" fill="#fff"/>
<circle cx="399.0" cy="479.8" r="2.7" fill="#fff"/>
<circle cx="453.8" cy="493.0" r="2.7" fill="#fff"/>
<circle cx="515.7" cy="465.0" r="2.7" fill="#fff"/>
<circle cx="555.0" cy="484.3" r="2.7" fill="#fff"/>
<circle cx="555.0" cy="528.6" r="2.7" fill="#fff"/>
<circle cx="555.0" cy="573.0" r="2.7" fill="#fff"/>
<circle cx="533.3" cy="614.5" r="2.7" fill="#fff"/>
<circle cx="509.6" cy="726.4" r="2.7" fill="#fff"/>
<circle cx="551.6" cy="822.5" r="2.7" fill="#fff"/>
<circle cx="561.4" cy="937.2" r="2.7" fill="#fff"/>
<circle cx="593.3" cy="969.3" r="2.7" fill="#fff"/>
<circle cx="620.7" cy="996.5" r="2.7" fill="#fff"/>
<circle cx="650.0" cy="1025.8" r="2.7" fill="#fff"/>
<circle cx="444.8" cy="635.2" r="2.7" fill="#fff"/>
<circle cx="493.4" cy="715.5" r="2.7" fill="#fff"/>
<circle cx="467.0" cy="741.8" r="2.7" fill="#fff"/>
<circle cx="444.8" cy="821.0" r="2.7" fill="#fff"/>
<circle cx="444.8" cy="863.0" r="2.7" fill="#fff"/>
<circle cx="462.6" cy="978.1" r="2.7" fill="#fff"/>
<circle cx="505.9" cy="1021.4" r="2.7" fill="#fff"/>
<circle cx="557.5" cy="1073.0" r="2.7" fill="#fff"/>
<circle cx="568.8" cy="741.9" r="2.7" fill="#fff"/>
<circle cx="593.7" cy="716.2" r="2.7" fill="#fff"/>
<circle cx="628.2" cy="700.5" r="2.7" fill="#fff"/>
<circle cx="719.3" cy="700.5" r="2.7" fill="#fff"/>
<circle cx="764.1" cy="700.5" r="2.7" fill="#fff"/>
<circle cx="809.0" cy="700.5" r="2.7" fill="#fff"/>
<circle cx="853.8" cy="700.5" r="2.7" fill="#fff"/>
<circle cx="899.1" cy="700.5" r="2.7" fill="#fff"/>
<circle cx="996.7" cy="700.5" r="2.7" fill="#fff"/>
<circle cx="1080.0" cy="726.3" r="2.7" fill="#fff"/>
<circle cx="1150.2" cy="761.2" r="2.7" fill="#fff"/>
<circle cx="1191.4" cy="399.6" r="2.7" fill="#fff"/>
<circle cx="1163.5" cy="442.2" r="2.7" fill="#fff"/>
<circle cx="1163.5" cy="494.6" r="2.7" fill="#fff"/>
<circle cx="1161.2" cy="601.5" r="2.7" fill="#fff"/>
<circle cx="1131.2" cy="786.0" r="2.7" fill="#fff"/>
<circle cx="1163.0" cy="641.9" r="2.7" fill="#fff"/>
<circle cx="1187.4" cy="641.9" r="2.7" fill="#fff"/>
<circle cx="661.0" cy="857.6" r="2.7" fill="#fff"/>
<circle cx="715.3" cy="857.6" r="2.7" fill="#fff"/>
<circle cx="767.5" cy="857.6" r="2.7" fill="#fff"/>
<circle cx="857.9" cy="898.8" r="2.7" fill="#fff"/>
<circle cx="880.1" cy="920.5" r="2.7" fill="#fff"/>
<circle cx="909.6" cy="950.0" r="2.7" fill="#fff"/>
<circle cx="979.7" cy="1020.4" r="2.7" fill="#fff"/>
<circle cx="798.2" cy="907.6" r="2.7" fill="#fff"/>
<circle cx="765.9" cy="940.1" r="2.7" fill="#fff"/>
<circle cx="575.5" cy="1136.0" r="2.7" fill="#fff"/>
<circle cx="1337.1" cy="895.3" r="2.7" fill="#fff"/>
<circle cx="1361.6" cy="870.8" r="2.7" fill="#fff"/>
<circle cx="1418.5" cy="817.0" r="2.7" fill="#fff"/>
<circle cx="1456.7" cy="814.0" r="2.7" fill="#fff"/>
<circle cx="1496.6" cy="814.0" r="2.7" fill="#fff"/>
<circle cx="1572.9" cy="814.0" r="2.7" fill="#fff"/>
<circle cx="1603.5" cy="814.0" r="2.7" fill="#fff"/>
<circle cx="1639.9" cy="814.0" r="2.7" fill="#fff"/>
<circle cx="1676.0" cy="814.0" r="2.7" fill="#fff"/>
<circle cx="1712.4" cy="814.0" r="2.7" fill="#fff"/>
<circle cx="1779.7" cy="814.0" r="2.7" fill="#fff"/>
<circle cx="1810.8" cy="814.0" r="2.7" fill="#fff"/>
<circle cx="1841.9" cy="814.0" r="2.7" fill="#fff"/>
<circle cx="1958.4" cy="814.0" r="2.7" fill="#fff"/>
<circle cx="1793.0" cy="783.0" r="2.7" fill="#fff"/>
<circle cx="1724.4" cy="851.6" r="2.7" fill="#fff"/>
<circle cx="1692.2" cy="883.8" r="2.7" fill="#fff"/>
<circle cx="1660.1" cy="915.9" r="2.7" fill="#fff"/>
<circle cx="1627.9" cy="948.1" r="2.7" fill="#fff"/>
<circle cx="1604.3" cy="977.6" r="2.7" fill="#fff"/>
<circle cx="1604.3" cy="1011.1" r="2.7" fill="#fff"/>
<circle cx="1604.3" cy="1094.0" r="2.7" fill="#fff"/>
<circle cx="1606.0" cy="1125.9" r="2.7" fill="#fff"/>
<circle cx="1399.6" cy="1005.8" r="2.7" fill="#fff"/>
<circle cx="1479.9" cy="1032.2" r="2.7" fill="#fff"/>
<circle cx="1638.0" cy="1047.2" r="2.7" fill="#fff"/>
<circle cx="1681.9" cy="1047.2" r="2.7" fill="#fff"/>
<circle cx="1726.0" cy="1047.2" r="2.7" fill="#fff"/>
<circle cx="1770.1" cy="1047.2" r="2.7" fill="#fff"/>
<circle cx="1814.2" cy="1047.2" r="2.7" fill="#fff"/>
<circle cx="1858.3" cy="1047.2" r="2.7" fill="#fff"/>
<circle cx="1901.9" cy="1047.2" r="2.7" fill="#fff"/>
<circle cx="1946.2" cy="1047.2" r="2.7" fill="#fff"/>
<circle cx="1990.4" cy="1047.2" r="2.7" fill="#fff"/>
<circle cx="2034.2" cy="1047.2" r="2.7" fill="#fff"/>
<circle cx="2074.6" cy="1052.8" r="2.7" fill="#fff"/>
<circle cx="2099.3" cy="1075.3" r="2.7" fill="#fff"/>
<circle cx="2179.9" cy="1061.5" r="2.7" fill="#fff"/>
<circle cx="2205.6" cy="1035.8" r="2.7" fill="#fff"/>
<circle cx="2232.2" cy="1009.2" r="2.7" fill="#fff"/>
<circle cx="170.1" cy="699.7" r="2.4" fill="#fff"/>
<circle cx="305.2" cy="1041.2" r="2.4" fill="#fff"/>
<circle cx="341.6" cy="1077.6" r="2.4" fill="#fff"/>
<circle cx="410.0" cy="1146.0" r="2.4" fill="#fff"/>
<circle cx="459.4" cy="1193.4" r="2.4" fill="#fff"/>
<circle cx="519.2" cy="1199.0" r="2.4" fill="#fff"/>
<circle cx="587.0" cy="1199.0" r="2.4" fill="#fff"/>
<circle cx="767.3" cy="1148.3" r="2.4" fill="#fff"/>
<circle cx="831.1" cy="1148.3" r="2.4" fill="#fff"/>
<circle cx="1443.5" cy="1127.2" r="2.4" fill="#fff"/>
<circle cx="1543.9" cy="1150.4" r="2.4" fill="#fff"/>
<circle cx="1593.9" cy="1150.4" r="2.4" fill="#fff"/>
<circle cx="1692.8" cy="1150.4" r="2.4" fill="#fff"/>
<circle cx="1736.1" cy="1150.4" r="2.4" fill="#fff"/>
<circle cx="1779.7" cy="1150.4" r="2.4" fill="#fff"/>
<circle cx="1823.0" cy="1150.4" r="2.4" fill="#fff"/>
<circle cx="1866.8" cy="1150.4" r="2.4" fill="#fff"/>
<circle cx="1909.8" cy="1150.4" r="2.4" fill="#fff"/>
<circle cx="1953.2" cy="1150.4" r="2.4" fill="#fff"/>
<circle cx="1995.1" cy="1150.4" r="2.4" fill="#fff"/>
<circle cx="2048.3" cy="1150.4" r="2.4" fill="#fff"/>
<circle cx="2139.7" cy="1150.4" r="2.4" fill="#fff"/>
<circle cx="2186.2" cy="1150.4" r="2.4" fill="#fff"/>
<circle cx="2233.0" cy="1150.4" r="2.4" fill="#fff"/>
<circle cx="2280.1" cy="1150.4" r="2.4" fill="#fff"/>
<circle cx="2339.3" cy="1102.7" r="2.4" fill="#fff"/>
<circle cx="2366.7" cy="1075.3" r="2.4" fill="#fff"/>
<circle cx="2394.1" cy="1047.9" r="2.4" fill="#fff"/>
<circle cx="2421.5" cy="1020.5" r="2.4" fill="#fff"/>
<circle cx="2449.1" cy="992.9" r="2.4" fill="#fff"/>
<circle cx="674.8" cy="478.6" r="2.1" fill="#fff"/>
<circle cx="674.8" cy="514.5" r="2.1" fill="#fff"/>
<circle cx="674.8" cy="550.5" r="2.1" fill="#fff"/>
<circle cx="674.8" cy="586.5" r="2.1" fill="#fff"/>
<circle cx="674.8" cy="622.9" r="2.1" fill="#fff"/>
<circle cx="674.8" cy="657.2" r="2.1" fill="#fff"/>
<circle cx="690.8" cy="736.8" r="2.1" fill="#fff"/>
<circle cx="713.7" cy="759.7" r="2.1" fill="#fff"/>
<circle cx="743.6" cy="789.2" r="2.1" fill="#fff"/>
<circle cx="789.0" cy="799.3" r="2.1" fill="#fff"/>
<circle cx="832.5" cy="802.3" r="2.1" fill="#fff"/>
<circle cx="858.4" cy="828.2" r="2.1" fill="#fff"/>
<circle cx="882.3" cy="852.1" r="2.1" fill="#fff"/>
<circle cx="906.6" cy="876.4" r="2.1" fill="#fff"/>
<circle cx="930.6" cy="900.4" r="2.1" fill="#fff"/>
<circle cx="967.7" cy="952.4" r="2.1" fill="#fff"/>
<circle cx="901.9" cy="1024.9" r="2.1" fill="#fff"/>
<circle cx="606.2" cy="892.6" r="2.1" fill="#fff"/>
<circle cx="619.2" cy="914.2" r="2.1" fill="#fff"/>
<circle cx="635.7" cy="930.7" r="2.1" fill="#fff"/>
<circle cx="652.7" cy="947.7" r="2.1" fill="#fff"/>
<circle cx="669.4" cy="964.4" r="2.1" fill="#fff"/>
<circle cx="686.2" cy="981.2" r="2.1" fill="#fff"/>
<circle cx="702.9" cy="997.9" r="2.1" fill="#fff"/>
<circle cx="755.7" cy="1050.7" r="2.1" fill="#fff"/>
<circle cx="781.3" cy="1076.3" r="2.1" fill="#fff"/>
<circle cx="808.2" cy="1089.2" r="2.1" fill="#fff"/>
<circle cx="892.5" cy="1062.2" r="2.1" fill="#fff"/>
<circle cx="921.8" cy="1062.2" r="2.1" fill="#fff"/>
<circle cx="951.1" cy="1062.2" r="2.1" fill="#fff"/>
<circle cx="980.0" cy="1062.2" r="2.1" fill="#fff"/>
<circle cx="1042.5" cy="1062.2" r="2.1" fill="#fff"/>
<circle cx="1112.9" cy="1062.2" r="2.1" fill="#fff"/>
<circle cx="1150.2" cy="1062.2" r="2.1" fill="#fff"/>
<circle cx="1187.6" cy="1058.0" r="2.1" fill="#fff"/>
<circle cx="1192.0" cy="1027.0" r="2.1" fill="#fff"/>
<circle cx="1192.0" cy="893.6" r="2.1" fill="#fff"/>
<circle cx="1192.0" cy="867.6" r="2.1" fill="#fff"/>
<circle cx="943.7" cy="733.2" r="2.1" fill="#fff"/>
<circle cx="943.7" cy="760.5" r="2.1" fill="#fff"/>
<circle cx="943.7" cy="788.4" r="2.1" fill="#fff"/>
<circle cx="945.9" cy="813.5" r="2.1" fill="#fff"/>
<circle cx="994.1" cy="866.8" r="2.1" fill="#fff"/>
<circle cx="1021.6" cy="894.3" r="2.1" fill="#fff"/>
<circle cx="1041.9" cy="914.6" r="2.1" fill="#fff"/>
<circle cx="1062.5" cy="935.2" r="2.1" fill="#fff"/>
<circle cx="1086.5" cy="958.7" r="2.1" fill="#fff"/>
<circle cx="910.0" cy="1158.5" r="2.1" fill="#fff"/>
<circle cx="948.6" cy="1158.5" r="2.1" fill="#fff"/>
<circle cx="984.0" cy="1158.5" r="2.1" fill="#fff"/>
<circle cx="1087.7" cy="1098.2" r="2.1" fill="#fff"/>
<circle cx="1208.6" cy="1060.5" r="2.1" fill="#fff"/>
<circle cx="47.2" cy="924.6" r="2.1" fill="#fbfae9"/>
<circle cx="63.1" cy="940.5" r="2.1" fill="#fbfae9"/>
<circle cx="84.4" cy="961.8" r="2.1" fill="#fbfae9"/>
<circle cx="105.6" cy="983.0" r="2.1" fill="#fbfae9"/>
<circle cx="126.9" cy="1004.3" r="2.1" fill="#fbfae9"/>
<circle cx="148.1" cy="1025.5" r="2.1" fill="#fbfae9"/>
<circle cx="169.4" cy="1046.8" r="2.1" fill="#fbfae9"/>
<circle cx="190.7" cy="1068.1" r="2.1" fill="#fbfae9"/>
<circle cx="212.0" cy="1089.2" r="2.1" fill="#fbfae9"/>
<circle cx="239.3" cy="1091.2" r="2.1" fill="#fbfae9"/>
<circle cx="262.7" cy="1091.2" r="2.1" fill="#fbfae9"/>
<circle cx="286.4" cy="1091.2" r="2.1" fill="#fbfae9"/>
<circle cx="309.8" cy="1091.2" r="2.1" fill="#fbfae9"/>
<circle cx="333.1" cy="1091.2" r="2.1" fill="#fbfae9"/>
<circle cx="391.1" cy="1091.2" r="2.1" fill="#fbfae9"/>
<circle cx="436.0" cy="1091.2" r="2.1" fill="#fbfae9"/>
<circle cx="481.2" cy="1091.2" r="2.1" fill="#fbfae9"/>
<circle cx="525.8" cy="1091.2" r="2.1" fill="#fbfae9"/>
<circle cx="890.9" cy="1001.9" r="2.1" fill="#fbfae9"/>
<circle cx="997.7" cy="895.1" r="2.1" fill="#fbfae9"/>
<circle cx="1041.1" cy="851.7" r="2.1" fill="#fbfae9"/>
<circle cx="1068.0" cy="824.8" r="2.1" fill="#fbfae9"/>
<circle cx="1082.4" cy="798.9" r="2.1" fill="#fbfae9"/>
<circle cx="1082.4" cy="767.6" r="2.1" fill="#fbfae9"/>
<circle cx="1090.8" cy="743.5" r="2.1" fill="#fbfae9"/>
<circle cx="1339.0" cy="701.5" r="2.1" fill="#fbfae9"/>
<circle cx="1389.0" cy="766.7" r="2.1" fill="#fbfae9"/>
<circle cx="1440.8" cy="941.2" r="2.1" fill="#fbfae9"/>
<circle cx="1414.2" cy="1051.5" r="2.1" fill="#fbfae9"/>
<circle cx="1317.0" cy="1077.0" r="1.9" fill="#fbeee0"/>
<circle cx="1324.6" cy="1077.0" r="1.9" fill="#fbeee0"/>
<circle cx="1332.2" cy="1077.0" r="1.9" fill="#fbeee0"/>
<circle cx="1339.6" cy="1086.0" r="1.9" fill="#fbeee0"/>
<circle cx="1339.6" cy="1094.3" r="1.9" fill="#fbeee0"/>
<circle cx="1339.6" cy="1102.6" r="1.9" fill="#fbeee0"/>
<circle cx="1332.2" cy="1111.5" r="1.9" fill="#fbeee0"/>
<circle cx="1324.6" cy="1111.5" r="1.9" fill="#fbeee0"/>
<circle cx="1317.0" cy="1111.5" r="1.9" fill="#fbeee0"/>
<circle cx="1309.6" cy="1102.6" r="1.9" fill="#fbeee0"/>
<circle cx="1309.6" cy="1094.3" r="1.9" fill="#fbeee0"/>
<circle cx="1309.6" cy="1086.0" r="1.9" fill="#fbeee0"/>
<circle cx="363.7" cy="445.2" r="6.0" fill="#fff" stroke="#111" stroke-width="1.4"/>
<circle cx="389.7" cy="635.2" r="6.0" fill="#fff" stroke="#111" stroke-width="1.4"/>
<circle cx="444.8" cy="770.8" r="6.0" fill="#fff" stroke="#111" stroke-width="1.4"/>
<circle cx="444.8" cy="915.3" r="6.0" fill="#fff" stroke="#111" stroke-width="1.4"/>
<circle cx="832.2" cy="881.4" r="6.0" fill="#fff" stroke="#111" stroke-width="1.4"/>
<circle cx="1162.5" cy="544.3" r="6.0" fill="#fff" stroke="#111" stroke-width="1.4"/>
<circle cx="1539.1" cy="814.0" r="6.0" fill="#fff" stroke="#111" stroke-width="1.4"/>
<circle cx="1879.1" cy="814.0" r="6.0" fill="#fff" stroke="#111" stroke-width="1.4"/>
<circle cx="1539.1" cy="1047.2" r="6.0" fill="#fff" stroke="#111" stroke-width="1.4"/>
<circle cx="1501.1" cy="1127.2" r="6.0" fill="#fff" stroke="#111" stroke-width="1.4"/>
<circle cx="2100.4" cy="1150.4" r="6.0" fill="#fff" stroke="#111" stroke-width="1.4"/>
<circle cx="2312.5" cy="1126.6" r="6.0" fill="#fff" stroke="#111" stroke-width="1.4"/>
<circle cx="499.6" cy="668.8" r="6.2" fill="#111"/>
<circle cx="508.9" cy="668.8" r="6.2" fill="#111"/>
<line x1="499.6" y1="668.8" x2="508.9" y2="668.8" stroke="#111" stroke-width="6.3"/>
<circle cx="499.6" cy="668.8" r="4.8" fill="#fff"/>
<circle cx="508.9" cy="668.8" r="4.8" fill="#fff"/>
<line x1="499.6" y1="668.8" x2="508.9" y2="668.8" stroke="#fff" stroke-width="3.6"/>
<circle cx="538.5" cy="771.0" r="6.2" fill="#111"/>
<circle cx="545.5" cy="764.0" r="6.2" fill="#111"/>
<line x1="538.5" y1="771.0" x2="545.5" y2="764.0" stroke="#111" stroke-width="6.3"/>
<circle cx="538.5" cy="771.0" r="4.8" fill="#fff"/>
<circle cx="545.5" cy="764.0" r="4.8" fill="#fff"/>
<line x1="538.5" y1="771.0" x2="545.5" y2="764.0" stroke="#fff" stroke-width="3.6"/>
<circle cx="551.0" cy="868.8" r="6.2" fill="#111"/>
<circle cx="551.0" cy="878.6" r="6.2" fill="#111"/>
<line x1="551.0" y1="868.8" x2="551.0" y2="878.6" stroke="#111" stroke-width="6.3"/>
<circle cx="551.0" cy="868.8" r="4.8" fill="#fff"/>
<circle cx="551.0" cy="878.6" r="4.8" fill="#fff"/>
<line x1="551.0" y1="868.8" x2="551.0" y2="878.6" stroke="#fff" stroke-width="3.6"/>
<circle cx="606.6" cy="857.6" r="6.2" fill="#111"/>
<circle cx="606.6" cy="867.0" r="6.2" fill="#111"/>
<line x1="606.6" y1="857.6" x2="606.6" y2="867.0" stroke="#111" stroke-width="6.3"/>
<circle cx="606.6" cy="857.6" r="4.8" fill="#fff"/>
<circle cx="606.6" cy="867.0" r="4.8" fill="#fff"/>
<line x1="606.6" y1="857.6" x2="606.6" y2="867.0" stroke="#fff" stroke-width="3.6"/>
<circle cx="272.5" cy="990.5" r="6.2" fill="#111"/>
<circle cx="282.0" cy="990.5" r="6.2" fill="#111"/>
<line x1="272.5" y1="990.5" x2="282.0" y2="990.5" stroke="#111" stroke-width="6.3"/>
<circle cx="272.5" cy="990.5" r="4.8" fill="#fff"/>
<circle cx="282.0" cy="990.5" r="4.8" fill="#fff"/>
<line x1="272.5" y1="990.5" x2="282.0" y2="990.5" stroke="#fff" stroke-width="3.6"/>
<circle cx="602.6" cy="1090.4" r="6.2" fill="#111"/>
<circle cx="602.6" cy="1103.4" r="6.2" fill="#111"/>
<circle cx="602.6" cy="1115.6" r="6.2" fill="#111"/>
<line x1="602.6" y1="1090.4" x2="602.6" y2="1103.4" stroke="#111" stroke-width="6.3"/>
<line x1="602.6" y1="1103.4" x2="602.6" y2="1115.6" stroke="#111" stroke-width="6.3"/>
<circle cx="602.6" cy="1090.4" r="4.8" fill="#fff"/>
<circle cx="602.6" cy="1103.4" r="4.8" fill="#fff"/>
<circle cx="602.6" cy="1115.6" r="4.8" fill="#fff"/>
<line x1="602.6" y1="1090.4" x2="602.6" y2="1103.4" stroke="#fff" stroke-width="3.6"/>
<line x1="602.6" y1="1103.4" x2="602.6" y2="1115.6" stroke="#fff" stroke-width="3.6"/>
<circle cx="638.8" cy="1089.0" r="6.2" fill="#111"/>
<circle cx="638.8" cy="1102.3" r="6.2" fill="#111"/>
<line x1="638.8" y1="1089.0" x2="638.8" y2="1102.3" stroke="#111" stroke-width="6.3"/>
<circle cx="638.8" cy="1089.0" r="4.8" fill="#fff"/>
<circle cx="638.8" cy="1102.3" r="4.8" fill="#fff"/>
<line x1="638.8" y1="1089.0" x2="638.8" y2="1102.3" stroke="#fff" stroke-width="3.6"/>
<circle cx="659.7" cy="1173.0" r="6.2" fill="#111"/>
<circle cx="659.7" cy="1182.3" r="6.2" fill="#111"/>
<line x1="659.7" y1="1173.0" x2="659.7" y2="1182.3" stroke="#111" stroke-width="6.3"/>
<circle cx="659.7" cy="1173.0" r="4.8" fill="#fff"/>
<circle cx="659.7" cy="1182.3" r="4.8" fill="#fff"/>
<line x1="659.7" y1="1173.0" x2="659.7" y2="1182.3" stroke="#fff" stroke-width="3.6"/>
<circle cx="721.3" cy="1139.0" r="6.2" fill="#111"/>
<circle cx="721.3" cy="1148.3" r="6.2" fill="#111"/>
<line x1="721.3" y1="1139.0" x2="721.3" y2="1148.3" stroke="#111" stroke-width="6.3"/>
<circle cx="721.3" cy="1139.0" r="4.8" fill="#fff"/>
<circle cx="721.3" cy="1148.3" r="4.8" fill="#fff"/>
<line x1="721.3" y1="1139.0" x2="721.3" y2="1148.3" stroke="#fff" stroke-width="3.6"/>
<circle cx="882.9" cy="1148.3" r="6.2" fill="#111"/>
<circle cx="882.9" cy="1158.5" r="6.2" fill="#111"/>
<line x1="882.9" y1="1148.3" x2="882.9" y2="1158.5" stroke="#111" stroke-width="6.3"/>
<circle cx="882.9" cy="1148.3" r="4.8" fill="#fff"/>
<circle cx="882.9" cy="1158.5" r="4.8" fill="#fff"/>
<line x1="882.9" y1="1148.3" x2="882.9" y2="1158.5" stroke="#fff" stroke-width="3.6"/>
<circle cx="697.5" cy="1047.3" r="6.2" fill="#111"/>
<circle cx="709.0" cy="1047.0" r="6.2" fill="#111"/>
<circle cx="717.5" cy="1054.0" r="6.2" fill="#111"/>
<line x1="697.5" y1="1047.3" x2="709.0" y2="1047.0" stroke="#111" stroke-width="6.3"/>
<line x1="709.0" y1="1047.0" x2="717.5" y2="1054.0" stroke="#111" stroke-width="6.3"/>
<circle cx="697.5" cy="1047.3" r="4.8" fill="#fff"/>
<circle cx="709.0" cy="1047.0" r="4.8" fill="#fff"/>
<circle cx="717.5" cy="1054.0" r="4.8" fill="#fff"/>
<line x1="697.5" y1="1047.3" x2="709.0" y2="1047.0" stroke="#fff" stroke-width="3.6"/>
<line x1="709.0" y1="1047.0" x2="717.5" y2="1054.0" stroke="#fff" stroke-width="3.6"/>
<circle cx="690.6" cy="1078.2" r="6.2" fill="#111"/>
<circle cx="699.5" cy="1088.2" r="6.2" fill="#111"/>
<line x1="690.6" y1="1078.2" x2="699.5" y2="1088.2" stroke="#111" stroke-width="6.3"/>
<circle cx="690.6" cy="1078.2" r="4.8" fill="#fff"/>
<circle cx="699.5" cy="1088.2" r="4.8" fill="#fff"/>
<line x1="690.6" y1="1078.2" x2="699.5" y2="1088.2" stroke="#fff" stroke-width="3.6"/>
<circle cx="719.5" cy="1014.4" r="6.2" fill="#111"/>
<circle cx="728.4" cy="1023.2" r="6.2" fill="#111"/>
<circle cx="736.4" cy="1031.4" r="6.2" fill="#111"/>
<line x1="719.5" y1="1014.4" x2="728.4" y2="1023.2" stroke="#111" stroke-width="6.3"/>
<line x1="728.4" y1="1023.2" x2="736.4" y2="1031.4" stroke="#111" stroke-width="6.3"/>
<circle cx="719.5" cy="1014.4" r="4.8" fill="#fff"/>
<circle cx="728.4" cy="1023.2" r="4.8" fill="#fff"/>
<circle cx="736.4" cy="1031.4" r="4.8" fill="#fff"/>
<line x1="719.5" y1="1014.4" x2="728.4" y2="1023.2" stroke="#fff" stroke-width="3.6"/>
<line x1="728.4" y1="1023.2" x2="736.4" y2="1031.4" stroke="#fff" stroke-width="3.6"/>
<circle cx="732.6" cy="974.8" r="6.2" fill="#111"/>
<circle cx="745.8" cy="987.9" r="6.2" fill="#111"/>
<line x1="732.6" y1="974.8" x2="745.8" y2="987.9" stroke="#111" stroke-width="6.3"/>
<circle cx="732.6" cy="974.8" r="4.8" fill="#fff"/>
<circle cx="745.8" cy="987.9" r="4.8" fill="#fff"/>
<line x1="732.6" y1="974.8" x2="745.8" y2="987.9" stroke="#fff" stroke-width="3.6"/>
<circle cx="674.8" cy="691.3" r="6.2" fill="#111"/>
<circle cx="674.8" cy="700.5" r="6.2" fill="#111"/>
<line x1="674.8" y1="691.3" x2="674.8" y2="700.5" stroke="#111" stroke-width="6.3"/>
<circle cx="674.8" cy="691.3" r="4.8" fill="#fff"/>
<circle cx="674.8" cy="700.5" r="4.8" fill="#fff"/>
<line x1="674.8" y1="691.3" x2="674.8" y2="700.5" stroke="#fff" stroke-width="3.6"/>
<circle cx="943.7" cy="689.7" r="6.2" fill="#111"/>
<circle cx="943.7" cy="700.5" r="6.2" fill="#111"/>
<line x1="943.7" y1="689.7" x2="943.7" y2="700.5" stroke="#111" stroke-width="6.3"/>
<circle cx="943.7" cy="689.7" r="4.8" fill="#fff"/>
<circle cx="943.7" cy="700.5" r="4.8" fill="#fff"/>
<line x1="943.7" y1="689.7" x2="943.7" y2="700.5" stroke="#fff" stroke-width="3.6"/>
<circle cx="1044.6" cy="684.0" r="6.2" fill="#111"/>
<circle cx="1044.6" cy="700.5" r="6.2" fill="#111"/>
<line x1="1044.6" y1="684.0" x2="1044.6" y2="700.5" stroke="#111" stroke-width="4.8"/>
<circle cx="1044.6" cy="684.0" r="4.8" fill="#fff"/>
<circle cx="1044.6" cy="700.5" r="4.8" fill="#fff"/>
<line x1="1044.6" y1="684.0" x2="1044.6" y2="700.5" stroke="#fff" stroke-width="2.0"/>
<circle cx="1131.2" cy="683.5" r="6.2" fill="#111"/>
<circle cx="1131.2" cy="697.0" r="6.2" fill="#111"/>
<circle cx="1145.2" cy="699.8" r="6.2" fill="#111"/>
<line x1="1131.2" y1="683.5" x2="1131.2" y2="697.0" stroke="#111" stroke-width="6.3"/>
<line x1="1131.2" y1="697.0" x2="1145.2" y2="699.8" stroke="#111" stroke-width="6.3"/>
<circle cx="1131.2" cy="683.5" r="4.8" fill="#fff"/>
<circle cx="1131.2" cy="697.0" r="4.8" fill="#fff"/>
<circle cx="1145.2" cy="699.8" r="4.8" fill="#fff"/>
<line x1="1131.2" y1="683.5" x2="1131.2" y2="697.0" stroke="#fff" stroke-width="3.6"/>
<line x1="1131.2" y1="697.0" x2="1145.2" y2="699.8" stroke="#fff" stroke-width="3.6"/>
<circle cx="1109.3" cy="726.1" r="6.2" fill="#111"/>
<circle cx="1121.3" cy="737.8" r="6.2" fill="#111"/>
<circle cx="1131.2" cy="737.8" r="6.2" fill="#111"/>
<line x1="1109.3" y1="726.1" x2="1121.3" y2="737.8" stroke="#111" stroke-width="6.3"/>
<line x1="1121.3" y1="737.8" x2="1131.2" y2="737.8" stroke="#111" stroke-width="6.3"/>
<circle cx="1109.3" cy="726.1" r="4.8" fill="#fff"/>
<circle cx="1121.3" cy="737.8" r="4.8" fill="#fff"/>
<circle cx="1131.2" cy="737.8" r="4.8" fill="#fff"/>
<line x1="1109.3" y1="726.1" x2="1121.3" y2="737.8" stroke="#fff" stroke-width="3.6"/>
<line x1="1121.3" y1="737.8" x2="1131.2" y2="737.8" stroke="#fff" stroke-width="3.6"/>
<circle cx="1106.0" cy="544.3" r="6.2" fill="#111"/>
<circle cx="1115.1" cy="544.3" r="6.2" fill="#111"/>
<line x1="1106.0" y1="544.3" x2="1115.1" y2="544.3" stroke="#111" stroke-width="6.3"/>
<circle cx="1106.0" cy="544.3" r="4.8" fill="#fff"/>
<circle cx="1115.1" cy="544.3" r="4.8" fill="#fff"/>
<line x1="1106.0" y1="544.3" x2="1115.1" y2="544.3" stroke="#fff" stroke-width="3.6"/>
<circle cx="1131.6" cy="641.9" r="6.2" fill="#111"/>
<circle cx="1141.2" cy="641.9" r="6.2" fill="#111"/>
<line x1="1131.6" y1="641.9" x2="1141.2" y2="641.9" stroke="#111" stroke-width="6.3"/>
<circle cx="1131.6" cy="641.9" r="4.8" fill="#fff"/>
<circle cx="1141.2" cy="641.9" r="4.8" fill="#fff"/>
<line x1="1131.6" y1="641.9" x2="1141.2" y2="641.9" stroke="#fff" stroke-width="3.6"/>
<circle cx="1212.2" cy="641.9" r="6.2" fill="#111"/>
<circle cx="1222.3" cy="641.9" r="6.2" fill="#111"/>
<line x1="1212.2" y1="641.9" x2="1222.3" y2="641.9" stroke="#111" stroke-width="6.3"/>
<circle cx="1212.2" cy="641.9" r="4.8" fill="#fff"/>
<circle cx="1222.3" cy="641.9" r="4.8" fill="#fff"/>
<line x1="1212.2" y1="641.9" x2="1222.3" y2="641.9" stroke="#fff" stroke-width="3.6"/>
<circle cx="1121.3" cy="841.7" r="6.2" fill="#111"/>
<circle cx="1131.2" cy="841.7" r="6.2" fill="#111"/>
<circle cx="1140.2" cy="841.7" r="6.2" fill="#111"/>
<line x1="1121.3" y1="841.7" x2="1131.2" y2="841.7" stroke="#111" stroke-width="6.3"/>
<line x1="1131.2" y1="841.7" x2="1140.2" y2="841.7" stroke="#111" stroke-width="6.3"/>
<circle cx="1121.3" cy="841.7" r="4.8" fill="#fff"/>
<circle cx="1131.2" cy="841.7" r="4.8" fill="#fff"/>
<circle cx="1140.2" cy="841.7" r="4.8" fill="#fff"/>
<line x1="1121.3" y1="841.7" x2="1131.2" y2="841.7" stroke="#fff" stroke-width="3.6"/>
<line x1="1131.2" y1="841.7" x2="1140.2" y2="841.7" stroke="#fff" stroke-width="3.6"/>
<circle cx="1181.1" cy="841.7" r="6.2" fill="#111"/>
<circle cx="1190.5" cy="841.7" r="6.2" fill="#111"/>
<line x1="1181.1" y1="841.7" x2="1190.5" y2="841.7" stroke="#111" stroke-width="6.3"/>
<circle cx="1181.1" cy="841.7" r="4.8" fill="#fff"/>
<circle cx="1190.5" cy="841.7" r="4.8" fill="#fff"/>
<line x1="1181.1" y1="841.7" x2="1190.5" y2="841.7" stroke="#fff" stroke-width="3.6"/>
<circle cx="1124.3" cy="901.1" r="6.2" fill="#111"/>
<circle cx="1130.8" cy="908.5" r="6.2" fill="#111"/>
<circle cx="1137.2" cy="915.4" r="6.2" fill="#111"/>
<line x1="1124.3" y1="901.1" x2="1130.8" y2="908.5" stroke="#111" stroke-width="6.3"/>
<line x1="1130.8" y1="908.5" x2="1137.2" y2="915.4" stroke="#111" stroke-width="6.3"/>
<circle cx="1124.3" cy="901.1" r="4.8" fill="#fff"/>
<circle cx="1130.8" cy="908.5" r="4.8" fill="#fff"/>
<circle cx="1137.2" cy="915.4" r="4.8" fill="#fff"/>
<line x1="1124.3" y1="901.1" x2="1130.8" y2="908.5" stroke="#fff" stroke-width="3.6"/>
<line x1="1130.8" y1="908.5" x2="1137.2" y2="915.4" stroke="#fff" stroke-width="3.6"/>
<circle cx="1182.0" cy="915.4" r="6.2" fill="#111"/>
<circle cx="1192.0" cy="915.4" r="6.2" fill="#111"/>
<line x1="1182.0" y1="915.4" x2="1192.0" y2="915.4" stroke="#111" stroke-width="6.3"/>
<circle cx="1182.0" cy="915.4" r="4.8" fill="#fff"/>
<circle cx="1192.0" cy="915.4" r="4.8" fill="#fff"/>
<line x1="1182.0" y1="915.4" x2="1192.0" y2="915.4" stroke="#fff" stroke-width="3.6"/>
<circle cx="1132.8" cy="954.8" r="6.2" fill="#111"/>
<circle cx="1117.2" cy="969.8" r="6.2" fill="#111"/>
<line x1="1132.8" y1="954.8" x2="1117.2" y2="969.8" stroke="#111" stroke-width="4.6"/>
<circle cx="1132.8" cy="954.8" r="4.8" fill="#fff"/>
<circle cx="1117.2" cy="969.8" r="4.8" fill="#fff"/>
<line x1="1132.8" y1="954.8" x2="1117.2" y2="969.8" stroke="#fff" stroke-width="1.9"/>
<circle cx="1179.4" cy="971.3" r="6.2" fill="#111"/>
<circle cx="1192.0" cy="971.3" r="6.2" fill="#111"/>
<line x1="1179.4" y1="971.3" x2="1192.0" y2="971.3" stroke="#111" stroke-width="6.3"/>
<circle cx="1179.4" cy="971.3" r="4.8" fill="#fff"/>
<circle cx="1192.0" cy="971.3" r="4.8" fill="#fff"/>
<line x1="1179.4" y1="971.3" x2="1192.0" y2="971.3" stroke="#fff" stroke-width="3.6"/>
<circle cx="1198.6" cy="990.3" r="6.2" fill="#111"/>
<circle cx="1192.0" cy="997.5" r="6.2" fill="#111"/>
<circle cx="1185.3" cy="1004.9" r="6.2" fill="#111"/>
<line x1="1198.6" y1="990.3" x2="1192.0" y2="997.5" stroke="#111" stroke-width="6.3"/>
<line x1="1192.0" y1="997.5" x2="1185.3" y2="1004.9" stroke="#111" stroke-width="6.3"/>
<circle cx="1198.6" cy="990.3" r="4.8" fill="#fff"/>
<circle cx="1192.0" cy="997.5" r="4.8" fill="#fff"/>
<circle cx="1185.3" cy="1004.9" r="4.8" fill="#fff"/>
<line x1="1198.6" y1="990.3" x2="1192.0" y2="997.5" stroke="#fff" stroke-width="3.6"/>
<line x1="1192.0" y1="997.5" x2="1185.3" y2="1004.9" stroke="#fff" stroke-width="3.6"/>
<circle cx="1098.3" cy="1045.0" r="6.2" fill="#111"/>
<circle cx="1080.1" cy="1063.0" r="6.2" fill="#111"/>
<line x1="1098.3" y1="1045.0" x2="1080.1" y2="1063.0" stroke="#111" stroke-width="4.6"/>
<circle cx="1098.3" cy="1045.0" r="4.8" fill="#fff"/>
<circle cx="1080.1" cy="1063.0" r="4.8" fill="#fff"/>
<line x1="1098.3" y1="1045.0" x2="1080.1" y2="1063.0" stroke="#fff" stroke-width="1.9"/>
<line x1="1009.7" y1="1061" x2="1009.7" y2="1078" stroke="#111" stroke-width="1.2"/>
<circle cx="1009.7" cy="1050.8" r="6.2" fill="#111"/>
<circle cx="1009.7" cy="1061.0" r="6.2" fill="#111"/>
<line x1="1009.7" y1="1050.8" x2="1009.7" y2="1061.0" stroke="#111" stroke-width="6.3"/>
<circle cx="1009.7" cy="1050.8" r="4.8" fill="#fff"/>
<circle cx="1009.7" cy="1061.0" r="4.8" fill="#fff"/>
<line x1="1009.7" y1="1050.8" x2="1009.7" y2="1061.0" stroke="#fff" stroke-width="3.6"/>
<circle cx="1027.9" cy="1107.5" r="6.2" fill="#111"/>
<circle cx="1034.5" cy="1114.2" r="6.2" fill="#111"/>
<circle cx="1041.2" cy="1120.8" r="6.2" fill="#111"/>
<circle cx="1048.1" cy="1127.7" r="6.2" fill="#111"/>
<line x1="1027.9" y1="1107.5" x2="1034.5" y2="1114.2" stroke="#111" stroke-width="6.3"/>
<line x1="1034.5" y1="1114.2" x2="1041.2" y2="1120.8" stroke="#111" stroke-width="6.3"/>
<line x1="1041.2" y1="1120.8" x2="1048.1" y2="1127.7" stroke="#111" stroke-width="6.3"/>
<circle cx="1027.9" cy="1107.5" r="4.8" fill="#fff"/>
<circle cx="1034.5" cy="1114.2" r="4.8" fill="#fff"/>
<circle cx="1041.2" cy="1120.8" r="4.8" fill="#fff"/>
<circle cx="1048.1" cy="1127.7" r="4.8" fill="#fff"/>
<line x1="1027.9" y1="1107.5" x2="1034.5" y2="1114.2" stroke="#fff" stroke-width="3.6"/>
<line x1="1034.5" y1="1114.2" x2="1041.2" y2="1120.8" stroke="#fff" stroke-width="3.6"/>
<line x1="1041.2" y1="1120.8" x2="1048.1" y2="1127.7" stroke="#fff" stroke-width="3.6"/>
<circle cx="943.2" cy="984.1" r="6.2" fill="#111"/>
<circle cx="951.2" cy="991.4" r="6.2" fill="#111"/>
<line x1="943.2" y1="984.1" x2="951.2" y2="991.4" stroke="#111" stroke-width="6.3"/>
<circle cx="943.2" cy="984.1" r="4.8" fill="#fff"/>
<circle cx="951.2" cy="991.4" r="4.8" fill="#fff"/>
<line x1="943.2" y1="984.1" x2="951.2" y2="991.4" stroke="#fff" stroke-width="3.6"/>
<circle cx="954.1" cy="923.0" r="6.2" fill="#111"/>
<circle cx="954.1" cy="938.7" r="6.2" fill="#111"/>
<line x1="954.1" y1="923.0" x2="954.1" y2="938.7" stroke="#111" stroke-width="4.8"/>
<circle cx="954.1" cy="923.0" r="4.8" fill="#fff"/>
<circle cx="954.1" cy="938.7" r="4.8" fill="#fff"/>
<line x1="954.1" y1="923.0" x2="954.1" y2="938.7" stroke="#fff" stroke-width="2.0"/>
<circle cx="961.5" cy="851.2" r="6.2" fill="#111"/>
<circle cx="969.8" cy="845.0" r="6.2" fill="#111"/>
<line x1="961.5" y1="851.2" x2="969.8" y2="845.0" stroke="#111" stroke-width="6.3"/>
<circle cx="961.5" cy="851.2" r="4.8" fill="#fff"/>
<circle cx="969.8" cy="845.0" r="4.8" fill="#fff"/>
<line x1="961.5" y1="851.2" x2="969.8" y2="845.0" stroke="#fff" stroke-width="3.6"/>
<line x1="861.6" y1="1060" x2="861.6" y2="1076" stroke="#111" stroke-width="1.2"/>
<circle cx="861.6" cy="1033.4" r="6.2" fill="#111"/>
<circle cx="861.6" cy="1047.3" r="6.2" fill="#111"/>
<circle cx="861.6" cy="1060.3" r="6.2" fill="#111"/>
<line x1="861.6" y1="1033.4" x2="861.6" y2="1047.3" stroke="#111" stroke-width="6.3"/>
<line x1="861.6" y1="1047.3" x2="861.6" y2="1060.3" stroke="#111" stroke-width="6.3"/>
<circle cx="861.6" cy="1033.4" r="4.8" fill="#fff"/>
<circle cx="861.6" cy="1047.3" r="4.8" fill="#fff"/>
<circle cx="861.6" cy="1060.3" r="4.8" fill="#fff"/>
<line x1="861.6" y1="1033.4" x2="861.6" y2="1047.3" stroke="#fff" stroke-width="3.6"/>
<line x1="861.6" y1="1047.3" x2="861.6" y2="1060.3" stroke="#fff" stroke-width="3.6"/>
<circle cx="836.1" cy="1047.3" r="6.2" fill="#111"/>
<circle cx="836.1" cy="1070.2" r="6.2" fill="#111"/>
<line x1="836.1" y1="1047.3" x2="836.1" y2="1070.2" stroke="#111" stroke-width="4.8"/>
<circle cx="836.1" cy="1047.3" r="4.8" fill="#fff"/>
<circle cx="836.1" cy="1070.2" r="4.8" fill="#fff"/>
<line x1="836.1" y1="1047.3" x2="836.1" y2="1070.2" stroke="#fff" stroke-width="2.0"/>
<circle cx="1319.1" cy="923.5" r="6.2" fill="#111"/>
<circle cx="1319.1" cy="932.9" r="6.2" fill="#111"/>
<line x1="1319.1" y1="923.5" x2="1319.1" y2="932.9" stroke="#111" stroke-width="6.3"/>
<circle cx="1319.1" cy="923.5" r="4.8" fill="#fff"/>
<circle cx="1319.1" cy="932.9" r="4.8" fill="#fff"/>
<line x1="1319.1" y1="923.5" x2="1319.1" y2="932.9" stroke="#fff" stroke-width="3.6"/>
<circle cx="1389.5" cy="835.2" r="6.2" fill="#111"/>
<circle cx="1389.5" cy="845.0" r="6.2" fill="#111"/>
<line x1="1389.5" y1="835.2" x2="1389.5" y2="845.0" stroke="#111" stroke-width="6.3"/>
<circle cx="1389.5" cy="835.2" r="4.8" fill="#fff"/>
<circle cx="1389.5" cy="845.0" r="4.8" fill="#fff"/>
<line x1="1389.5" y1="835.2" x2="1389.5" y2="845.0" stroke="#fff" stroke-width="3.6"/>
<circle cx="1748.8" cy="814.0" r="6.2" fill="#111"/>
<circle cx="1748.8" cy="824.6" r="6.2" fill="#111"/>
<line x1="1748.8" y1="814.0" x2="1748.8" y2="824.6" stroke="#111" stroke-width="6.3"/>
<circle cx="1748.8" cy="814.0" r="4.8" fill="#fff"/>
<circle cx="1748.8" cy="824.6" r="4.8" fill="#fff"/>
<line x1="1748.8" y1="814.0" x2="1748.8" y2="824.6" stroke="#fff" stroke-width="3.6"/>
<circle cx="1360.5" cy="1014.8" r="6.2" fill="#111"/>
<circle cx="1353.6" cy="1022.3" r="6.2" fill="#111"/>
<line x1="1360.5" y1="1014.8" x2="1353.6" y2="1022.3" stroke="#111" stroke-width="6.3"/>
<circle cx="1360.5" cy="1014.8" r="4.8" fill="#fff"/>
<circle cx="1353.6" cy="1022.3" r="4.8" fill="#fff"/>
<line x1="1360.5" y1="1014.8" x2="1353.6" y2="1022.3" stroke="#fff" stroke-width="3.6"/>
<circle cx="1309.2" cy="1065.3" r="6.2" fill="#111"/>
<circle cx="1309.2" cy="1075.4" r="6.2" fill="#111"/>
<line x1="1309.2" y1="1065.3" x2="1309.2" y2="1075.4" stroke="#111" stroke-width="6.3"/>
<circle cx="1309.2" cy="1065.3" r="4.8" fill="#fff"/>
<circle cx="1309.2" cy="1075.4" r="4.8" fill="#fff"/>
<line x1="1309.2" y1="1065.3" x2="1309.2" y2="1075.4" stroke="#fff" stroke-width="3.6"/>
<circle cx="1441.3" cy="1006.3" r="6.2" fill="#111"/>
<circle cx="1441.3" cy="1016.1" r="6.2" fill="#111"/>
<line x1="1441.3" y1="1006.3" x2="1441.3" y2="1016.1" stroke="#111" stroke-width="6.3"/>
<circle cx="1441.3" cy="1006.3" r="4.8" fill="#fff"/>
<circle cx="1441.3" cy="1016.1" r="4.8" fill="#fff"/>
<line x1="1441.3" y1="1006.3" x2="1441.3" y2="1016.1" stroke="#fff" stroke-width="3.6"/>
<circle cx="1386.3" cy="1077.5" r="6.2" fill="#111"/>
<circle cx="1386.3" cy="1087.4" r="6.2" fill="#111"/>
<line x1="1386.3" y1="1077.5" x2="1386.3" y2="1087.4" stroke="#111" stroke-width="6.3"/>
<circle cx="1386.3" cy="1077.5" r="4.8" fill="#fff"/>
<circle cx="1386.3" cy="1087.4" r="4.8" fill="#fff"/>
<line x1="1386.3" y1="1077.5" x2="1386.3" y2="1087.4" stroke="#fff" stroke-width="3.6"/>
<circle cx="1595.5" cy="1047.5" r="6.2" fill="#111"/>
<circle cx="1602.1" cy="1054.2" r="6.2" fill="#111"/>
<line x1="1595.5" y1="1047.5" x2="1602.1" y2="1054.2" stroke="#111" stroke-width="6.3"/>
<circle cx="1595.5" cy="1047.5" r="4.8" fill="#fff"/>
<circle cx="1602.1" cy="1054.2" r="4.8" fill="#fff"/>
<line x1="1595.5" y1="1047.5" x2="1602.1" y2="1054.2" stroke="#fff" stroke-width="3.6"/>
<circle cx="1649.4" cy="1150.4" r="6.2" fill="#111"/>
<circle cx="1649.4" cy="1161.8" r="6.2" fill="#111"/>
<line x1="1649.4" y1="1150.4" x2="1649.4" y2="1161.8" stroke="#111" stroke-width="6.3"/>
<circle cx="1649.4" cy="1150.4" r="4.8" fill="#fff"/>
<circle cx="1649.4" cy="1161.8" r="4.8" fill="#fff"/>
<line x1="1649.4" y1="1150.4" x2="1649.4" y2="1161.8" stroke="#fff" stroke-width="3.6"/>
<line x1="679.0" y1="687.0" x2="686.0" y2="681.5" stroke="#111" stroke-width="1.2"/>
<line x1="670.5" y1="705.0" x2="663.5" y2="711.0" stroke="#111" stroke-width="1.2"/>
<line x1="947.5" y1="685.5" x2="954.5" y2="679.0" stroke="#111" stroke-width="1.2"/>
<line x1="947.5" y1="704.5" x2="954.5" y2="711.0" stroke="#111" stroke-width="1.2"/>
<circle cx="478.3" cy="266.0" r="7.3" fill="#a0549c"/>
<text transform="translate(478.3 268.1) scale(0.92 1)" font-size="5.8" text-anchor="middle" fill="#fff" font-weight="bold">M11</text>
<circle cx="130.6" cy="580.0" r="7.3" fill="#727376"/>
<text transform="translate(130.6 582.5) scale(0.92 1)" font-size="7.0" text-anchor="middle" fill="#fff" font-weight="bold">B2</text>
<circle cx="1222.0" cy="350.5" r="7.3" fill="#009a4e"/>
<text transform="translate(1222.0 353.0) scale(0.92 1)" font-size="7.0" text-anchor="middle" fill="#fff" font-weight="bold">M2</text>
<circle cx="1115.6" cy="561.6" r="7.3" fill="#009a4e"/>
<text transform="translate(1115.6 564.1) scale(0.92 1)" font-size="7.0" text-anchor="middle" fill="#fff" font-weight="bold">M2</text>
<circle cx="1060.2" cy="527.5" r="7.3" fill="#7a7052"/>
<text transform="translate(1060.2 530.0) scale(0.92 1)" font-size="7.0" text-anchor="middle" fill="#fff" font-weight="bold">F3</text>
<circle cx="1263.3" cy="656.5" r="7.3" fill="#7a7052"/>
<text transform="translate(1263.3 659.0) scale(0.92 1)" font-size="7.0" text-anchor="middle" fill="#fff" font-weight="bold">F4</text>
<circle cx="1163.4" cy="626.5" r="7.3" fill="#c7a571"/>
<text transform="translate(1163.4 629.0) scale(0.92 1)" font-size="7.0" text-anchor="middle" fill="#fff" font-weight="bold">M6</text>
<circle cx="366.6" cy="468.5" r="7.3" fill="#00a4e0"/>
<text transform="translate(366.6 471.0) scale(0.92 1)" font-size="7.0" text-anchor="middle" fill="#fff" font-weight="bold">M3</text>
<circle cx="394.2" cy="618.0" r="7.3" fill="#ffd100"/>
<text transform="translate(394.2 620.5) scale(0.92 1)" font-size="7.0" text-anchor="middle" fill="#222" font-weight="bold">M9</text>
<circle cx="674.8" cy="424.0" r="7.3" fill="#f47b3f"/>
<text transform="translate(674.8 426.5) scale(0.92 1)" font-size="7.0" text-anchor="middle" fill="#fff" font-weight="bold">T4</text>
<circle cx="918.4" cy="677.5" r="7.3" fill="#776fb7"/>
<text transform="translate(918.4 680.0) scale(0.92 1)" font-size="7.0" text-anchor="middle" fill="#fff" font-weight="bold">T5</text>
<circle cx="539.3" cy="746.0" r="7.3" fill="#f294c0"/>
<text transform="translate(539.3 748.5) scale(0.92 1)" font-size="7.0" text-anchor="middle" fill="#fff" font-weight="bold">M7</text>
<circle cx="1112.3" cy="696.6" r="7.3" fill="#a0549c"/>
<text transform="translate(1112.3 698.7) scale(0.92 1)" font-size="5.8" text-anchor="middle" fill="#fff" font-weight="bold">M11</text>
<circle cx="1153.0" cy="785.0" r="7.3" fill="#f294c0"/>
<text transform="translate(1153.0 787.5) scale(0.92 1)" font-size="7.0" text-anchor="middle" fill="#fff" font-weight="bold">M7</text>
<circle cx="567.0" cy="846.5" r="7.3" fill="#00a4e0"/>
<text transform="translate(567.0 849.0) scale(0.92 1)" font-size="7.0" text-anchor="middle" fill="#fff" font-weight="bold">M3</text>
<circle cx="593.0" cy="874.0" r="7.3" fill="#00507f"/>
<text transform="translate(593.0 876.5) scale(0.92 1)" font-size="7.0" text-anchor="middle" fill="#fff" font-weight="bold">T1</text>
<circle cx="566.5" cy="886.5" r="7.3" fill="#e21f26"/>
<text transform="translate(566.5 888.8) scale(0.9 1)" font-size="6.4" text-anchor="middle" fill="#fff" font-weight="bold">M1<tspan font-size="4">B</tspan></text>
<circle cx="223.4" cy="990.5" r="7.3" fill="#5e6062"/>
<text transform="translate(223.4 993.0) scale(0.92 1)" font-size="7.0" text-anchor="middle" fill="#fff" font-weight="bold">B1</text>
<circle cx="238.8" cy="990.5" r="7.3" fill="#727376"/>
<text transform="translate(238.8 993.0) scale(0.92 1)" font-size="7.0" text-anchor="middle" fill="#fff" font-weight="bold">B2</text>
<circle cx="568.5" cy="1171.5" r="7.3" fill="#e21f26"/>
<text transform="translate(568.5 1173.8) scale(0.9 1)" font-size="6.4" text-anchor="middle" fill="#fff" font-weight="bold">M1<tspan font-size="4">A</tspan></text>
<circle cx="663.1" cy="1209.0" r="7.3" fill="#ffd100"/>
<text transform="translate(663.1 1211.5) scale(0.92 1)" font-size="7.0" text-anchor="middle" fill="#222" font-weight="bold">M9</text>
<circle cx="721.3" cy="1225.4" r="7.3" fill="#00a4e0"/>
<text transform="translate(721.3 1227.9) scale(0.92 1)" font-size="7.0" text-anchor="middle" fill="#fff" font-weight="bold">M3</text>
<circle cx="882.4" cy="1176.2" r="7.3" fill="#e8777c"/>
<text transform="translate(882.4 1178.7) scale(0.92 1)" font-size="7.0" text-anchor="middle" fill="#fff" font-weight="bold">T6</text>
<circle cx="979.5" cy="1123.8" r="7.3" fill="#e21f26"/>
<text transform="translate(979.5 1126.1) scale(0.9 1)" font-size="6.4" text-anchor="middle" fill="#fff" font-weight="bold">M1<tspan font-size="4">A</tspan></text>
<circle cx="996.3" cy="1123.8" r="7.3" fill="#e21f26"/>
<text transform="translate(996.3 1126.1) scale(0.9 1)" font-size="6.4" text-anchor="middle" fill="#fff" font-weight="bold">M1<tspan font-size="4">B</tspan></text>
<circle cx="1013.2" cy="1123.8" r="7.3" fill="#009a4e"/>
<text transform="translate(1013.2 1126.3) scale(0.92 1)" font-size="7.0" text-anchor="middle" fill="#fff" font-weight="bold">M2</text>
<circle cx="883.3" cy="1041.7" r="7.3" fill="#f47b3f"/>
<text transform="translate(883.3 1044.2) scale(0.92 1)" font-size="7.0" text-anchor="middle" fill="#fff" font-weight="bold">T4</text>
<circle cx="942.9" cy="853.7" r="7.3" fill="#5cbfab"/>
<text transform="translate(942.9 855.8) scale(0.92 1)" font-size="5.8" text-anchor="middle" fill="#fff" font-weight="bold">TF2</text>
<circle cx="1169.5" cy="824.5" r="7.3" fill="#5cbfab"/>
<text transform="translate(1169.5 826.6) scale(0.92 1)" font-size="5.8" text-anchor="middle" fill="#fff" font-weight="bold">TF1</text>
<circle cx="1107.5" cy="873.0" r="7.3" fill="#8eaca0"/>
<text transform="translate(1107.5 875.5) scale(0.92 1)" font-size="7.0" text-anchor="middle" fill="#fff" font-weight="bold">T2</text>
<circle cx="1159.5" cy="856.0" r="7.3" fill="#7a7052"/>
<text transform="translate(1159.5 858.5) scale(0.92 1)" font-size="7.0" text-anchor="middle" fill="#fff" font-weight="bold">F1</text>
<circle cx="1159.5" cy="901.0" r="7.3" fill="#7a7052"/>
<text transform="translate(1159.5 903.5) scale(0.92 1)" font-size="7.0" text-anchor="middle" fill="#fff" font-weight="bold">F2</text>
<circle cx="1213.2" cy="855.5" r="7.3" fill="#00507f"/>
<text transform="translate(1213.2 858.0) scale(0.92 1)" font-size="7.0" text-anchor="middle" fill="#fff" font-weight="bold">T1</text>
<circle cx="1178.0" cy="953.7" r="7.3" fill="#776fb7"/>
<text transform="translate(1178.0 956.2) scale(0.92 1)" font-size="7.0" text-anchor="middle" fill="#fff" font-weight="bold">T5</text>
<circle cx="1216.0" cy="988.8" r="7.3" fill="#e8777c"/>
<text transform="translate(1216.0 991.3) scale(0.92 1)" font-size="7.0" text-anchor="middle" fill="#fff" font-weight="bold">T6</text>
<circle cx="1336.3" cy="919.0" r="7.3" fill="#6b2c7b"/>
<text transform="translate(1336.3 921.5) scale(0.92 1)" font-size="7.0" text-anchor="middle" fill="#fff" font-weight="bold">M5</text>
<circle cx="1334.5" cy="1060.5" r="7.3" fill="#e5127d"/>
<text transform="translate(1334.5 1063.0) scale(0.92 1)" font-size="7.0" text-anchor="middle" fill="#fff" font-weight="bold">M4</text>
<circle cx="1818.2" cy="740.3" r="7.3" fill="#3b79c7"/>
<text transform="translate(1818.2 742.8) scale(0.92 1)" font-size="7.0" text-anchor="middle" fill="#fff" font-weight="bold">M8</text>
<circle cx="2002.0" cy="797.5" r="7.3" fill="#6b2c7b"/>
<text transform="translate(2002.0 800.0) scale(0.92 1)" font-size="7.0" text-anchor="middle" fill="#fff" font-weight="bold">M5</text>
<circle cx="1650.2" cy="1187.5" r="7.3" fill="#3b79c7"/>
<text transform="translate(1650.2 1190.0) scale(0.92 1)" font-size="7.0" text-anchor="middle" fill="#fff" font-weight="bold">M8</text>
<circle cx="2223.5" cy="970.5" r="7.3" fill="#e5127d"/>
<text transform="translate(2223.5 973.0) scale(0.92 1)" font-size="7.0" text-anchor="middle" fill="#fff" font-weight="bold">M4</text>
<circle cx="2466.5" cy="951.8" r="7.3" fill="#5e6062"/>
<text transform="translate(2466.5 954.3) scale(0.92 1)" font-size="7.0" text-anchor="middle" fill="#fff" font-weight="bold">B1</text>
<circle cx="340.0" cy="441.5" r="8.3" fill="#fff" stroke="#a0549c" stroke-width="1.2"/>
<text transform="translate(340.0 443.6) scale(0.92 1)" font-size="5.8" text-anchor="middle" fill="#a0549c" font-weight="bold">M11</text>
<circle cx="127.0" cy="855.2" r="8.3" fill="#fff" stroke="#f294c0" stroke-width="1.2"/>
<text transform="translate(127.0 857.7) scale(0.92 1)" font-size="7.0" text-anchor="middle" fill="#f294c0" font-weight="bold">M7</text>
<circle cx="318.5" cy="990.5" r="8.3" fill="#fff" stroke="#e21f26" stroke-width="1.2"/>
<text transform="translate(318.5 992.6) scale(0.92 1)" font-size="5.8" text-anchor="middle" fill="#e21f26" font-weight="bold">M1B</text>
<circle cx="339.5" cy="990.5" r="8.3" fill="#fff" stroke="#a0549c" stroke-width="1.2"/>
<text transform="translate(339.5 992.6) scale(0.92 1)" font-size="5.8" text-anchor="middle" fill="#a0549c" font-weight="bold">M11</text>
<circle cx="1217.0" cy="824.5" r="8.3" fill="#fff" stroke="#f294c0" stroke-width="1.2"/>
<text transform="translate(1217.0 827.0) scale(0.92 1)" font-size="7.0" text-anchor="middle" fill="#f294c0" font-weight="bold">M7</text>
<circle cx="1467.5" cy="650.0" r="8.3" fill="#fff" stroke="#b5651d" stroke-width="1.2"/>
<text transform="translate(1467.5 652.1) scale(0.92 1)" font-size="5.8" text-anchor="middle" fill="#b5651d" font-weight="bold">M14</text>
<circle cx="1404.3" cy="804.4" r="8.3" fill="#fff" stroke="#b5651d" stroke-width="1.2"/>
<text transform="translate(1404.3 806.5) scale(0.92 1)" font-size="5.8" text-anchor="middle" fill="#b5651d" font-weight="bold">M14</text>
<circle cx="1539.2" cy="711.7" r="8.3" fill="#fff" stroke="#c8d42a" stroke-width="1.2"/>
<text transform="translate(1539.2 713.8) scale(0.92 1)" font-size="5.8" text-anchor="middle" fill="#c8d42a" font-weight="bold">M12</text>
<circle cx="1454.8" cy="1155.3" r="8.3" fill="#fff" stroke="#c8d42a" stroke-width="1.2"/>
<text transform="translate(1454.8 1157.4) scale(0.92 1)" font-size="5.8" text-anchor="middle" fill="#c8d42a" font-weight="bold">M12</text>
<circle cx="1999.0" cy="731.0" r="8.3" fill="#fff" stroke="#e5344c" stroke-width="1.2"/>
<text transform="translate(1999.0 733.1) scale(0.92 1)" font-size="5.8" text-anchor="middle" fill="#e5344c" font-weight="bold">M13</text>
<circle cx="1844.8" cy="881.3" r="8.3" fill="#fff" stroke="#e5344c" stroke-width="1.2"/>
<text transform="translate(1844.8 883.4) scale(0.92 1)" font-size="5.8" text-anchor="middle" fill="#e5344c" font-weight="bold">M13</text>
<circle cx="2127.7" cy="834.5" r="8.3" fill="#fff" stroke="#6b2c7b" stroke-width="1.2"/>
<text transform="translate(2127.7 837.0) scale(0.92 1)" font-size="7.0" text-anchor="middle" fill="#6b2c7b" font-weight="bold">M5</text>
<circle cx="2109.3" cy="1109.5" r="8.3" fill="#fff" stroke="#3fae49" stroke-width="1.2"/>
<text transform="translate(2109.3 1111.6) scale(0.92 1)" font-size="5.8" text-anchor="middle" fill="#3fae49" font-weight="bold">M10</text>
<circle cx="2307.7" cy="1108.0" r="8.3" fill="#fff" stroke="#e5127d" stroke-width="1.2"/>
<text transform="translate(2307.7 1110.5) scale(0.92 1)" font-size="7.0" text-anchor="middle" fill="#e5127d" font-weight="bold">M4</text>
<circle cx="876.1" cy="947.8" r="8.3" fill="#fff" stroke="#c5d1b0" stroke-width="1.2"/>
<text transform="translate(876.1 950.3) scale(0.92 1)" font-size="7.0" text-anchor="middle" fill="#c5d1b0" font-weight="bold">T7</text>
<circle cx="1324.5" cy="1094.4" r="9.6" fill="#a0562a"/>
<text transform="translate(1324.5 1097.6) scale(0.9 1)" font-size="9" text-anchor="middle" fill="#fff" font-weight="bold">T3</text>
<text transform="translate(525.9 120.6) scale(0.825 1)" font-size="12.2" text-anchor="middle" fill="#4d4d4f" stroke="#4d4d4f" stroke-width="0.22" >Kargo</text>
<text transform="translate(525.9 133.2) scale(0.825 1)" font-size="12.2" text-anchor="middle" fill="#4d4d4f" stroke="#4d4d4f" stroke-width="0.22" >Terminali</text>
<text transform="translate(561.0 159.1) scale(0.825 1)" font-size="12.2" text-anchor="middle" fill="#4d4d4f" stroke="#4d4d4f" stroke-width="0.22" >İstanbul</text>
<text transform="translate(561.0 171.7) scale(0.825 1)" font-size="12.2" text-anchor="middle" fill="#4d4d4f" stroke="#4d4d4f" stroke-width="0.22" >Havalimanı</text>
<text transform="translate(578.0 184.3) scale(0.825 1)" font-size="10.0" text-anchor="end" fill="#4d4d4f" stroke="#4d4d4f" stroke-width="0.22" >(Airport)</text>
<rect x="580.4" y="174.5" width="14.4" height="14.4" rx="1.7" fill="#fff" stroke="#1d2c5c" stroke-width="0.79"/>
<g transform="translate(580.4 174.5) scale(1.000)" fill="#1d2c5c"><path transform="translate(7.2 7.2) rotate(45) scale(0.95)" d="M0 -5.2 Q0.9 -4.4 0.9 -3 V-1.2 L5.2 1.6 V2.8 L0.9 1.3 V3.6 L2.2 4.6 V5.4 L0 4.8 L-2.2 5.4 V4.6 L-0.9 3.6 V1.3 L-5.2 2.8 V1.6 L-0.9 -1.2 V-3 Q-0.9 -4.4 0 -5.2 Z"/></g>
<text transform="translate(446.2 226.0) scale(0.825 1)" font-size="12.2" text-anchor="end" fill="#4d4d4f" stroke="#4d4d4f" stroke-width="0.22" >Taşoluk</text>
<text transform="translate(446.2 262.8) scale(0.825 1)" font-size="12.2" text-anchor="end" fill="#4d4d4f" stroke="#4d4d4f" stroke-width="0.22" >Arnavutköy</text>
<text transform="translate(446.2 275.4) scale(0.825 1)" font-size="12.2" text-anchor="end" fill="#4d4d4f" stroke="#4d4d4f" stroke-width="0.22" >Hastane</text>
<text transform="translate(767.0 283.2) scale(0.825 1)" font-size="12.2" text-anchor="end" fill="#4d4d4f" stroke="#4d4d4f" stroke-width="0.22" >İhsaniye</text>
<text transform="translate(419.6 355.8) scale(0.825 1)" font-size="12.2" text-anchor="end" fill="#909295" stroke="#909295" stroke-width="0.22" >Fenertepe</text>
<text transform="translate(419.6 368.4) scale(0.825 1)" font-size="12.2" text-anchor="end" fill="#909295" stroke="#909295" stroke-width="0.22" >Üniversite</text>
<text transform="translate(315.5 428.4) scale(0.825 1)" font-size="12.2" text-anchor="start" fill="#909295" stroke="#909295" stroke-width="0.22" >Kayaşehir</text>
<text transform="translate(374.2 443.1) scale(0.825 1)" font-size="12.2" text-anchor="start" fill="#4d4d4f" stroke="#4d4d4f" stroke-width="0.22" >Kayaşehir Merkez</text>
<text transform="translate(930.2 447.4) scale(0.825 1)" font-size="12.2" text-anchor="end" fill="#4d4d4f" stroke="#4d4d4f" stroke-width="0.22" >Göktürk</text>
<text transform="translate(515.2 457.0) scale(0.825 1)" font-size="12.2" text-anchor="middle" fill="#4d4d4f" stroke="#4d4d4f" stroke-width="0.22" >Onurkent</text>
<text transform="translate(406.0 465.0) scale(0.825 1)" font-size="12.2" text-anchor="start" fill="#4d4d4f" stroke="#4d4d4f" stroke-width="0.22" >Toplu</text>
<text transform="translate(406.0 477.6) scale(0.825 1)" font-size="12.2" text-anchor="start" fill="#4d4d4f" stroke="#4d4d4f" stroke-width="0.22" >Konutlar</text>
<text transform="translate(562.2 481.9) scale(0.825 1)" font-size="12.2" text-anchor="start" fill="#4d4d4f" stroke="#4d4d4f" stroke-width="0.22" >Başakşehir</text>
<text transform="translate(562.2 494.5) scale(0.825 1)" font-size="12.2" text-anchor="start" fill="#4d4d4f" stroke="#4d4d4f" stroke-width="0.22" >Metrokent</text>
<text transform="translate(562.2 532.4) scale(0.825 1)" font-size="12.2" text-anchor="start" fill="#4d4d4f" stroke="#4d4d4f" stroke-width="0.22" >Başak Konutları</text>
<text transform="translate(562.2 577.0) scale(0.825 1)" font-size="12.2" text-anchor="start" fill="#4d4d4f" stroke="#4d4d4f" stroke-width="0.22" >Siteler</text>
<text transform="translate(537.0 628.6) scale(0.825 1)" font-size="12.2" text-anchor="start" fill="#4d4d4f" stroke="#4d4d4f" stroke-width="0.22" >Turgut Özal</text>
<text transform="translate(453.8 508.4) scale(0.825 1)" font-size="12.2" text-anchor="middle" fill="#4d4d4f" stroke="#4d4d4f" stroke-width="0.22" >Şehir</text>
<text transform="translate(453.8 521.0) scale(0.825 1)" font-size="12.2" text-anchor="middle" fill="#4d4d4f" stroke="#4d4d4f" stroke-width="0.22" >Hastanesi</text>
<text transform="translate(444.0 614.8) scale(0.825 1)" font-size="12.2" text-anchor="middle" fill="#4d4d4f" stroke="#4d4d4f" stroke-width="0.22" >Ziya Gökalp</text>
<text transform="translate(444.0 627.4) scale(0.825 1)" font-size="12.2" text-anchor="middle" fill="#4d4d4f" stroke="#4d4d4f" stroke-width="0.22" >Mahallesi</text>
<text transform="translate(370.9 638.7) scale(0.825 1)" font-size="12.2" text-anchor="end" fill="#909295" stroke="#909295" stroke-width="0.22" >Olimpiyatköy</text>
<text transform="translate(386.8 653.3) scale(0.825 1)" font-size="12.2" text-anchor="start" fill="#4d4d4f" stroke="#4d4d4f" stroke-width="0.22" >Olimpiyat</text>
<text transform="translate(517.8 666.6) scale(0.825 1)" font-size="12.2" text-anchor="start" fill="#4d4d4f" stroke="#4d4d4f" stroke-width="0.22" >İkitelli</text>
<text transform="translate(517.8 679.6) scale(0.825 1)" font-size="12.2" text-anchor="start" fill="#4d4d4f" stroke="#4d4d4f" stroke-width="0.22" >Sanayi</text>
<text transform="translate(625.2 679.6) scale(0.825 1)" font-size="12.2" text-anchor="middle" fill="#4d4d4f" stroke="#4d4d4f" stroke-width="0.22" >Tekstilkent</text>
<text transform="translate(625.2 691.8) scale(0.825 1)" font-size="12.2" text-anchor="middle" fill="#4d4d4f" stroke="#4d4d4f" stroke-width="0.22" >Giyimkent</text>
<text transform="translate(488.6 713.6) scale(0.825 1)" font-size="12.2" text-anchor="end" fill="#4d4d4f" stroke="#4d4d4f" stroke-width="0.22" >MASKO</text>
<text transform="translate(586.7 712.8) scale(0.825 1)" font-size="12.2" text-anchor="end" fill="#4d4d4f" stroke="#4d4d4f" stroke-width="0.22" >Oruç Reis</text>
<text transform="translate(664.0 720.8) scale(0.825 1)" font-size="12.2" text-anchor="end" fill="#4d4d4f" stroke="#4d4d4f" stroke-width="0.22" >Karadeniz</text>
<text transform="translate(664.0 733.6) scale(0.825 1)" font-size="12.2" text-anchor="end" fill="#4d4d4f" stroke="#4d4d4f" stroke-width="0.22" >Mah.</text>
<text transform="translate(459.4 739.7) scale(0.825 1)" font-size="12.2" text-anchor="end" fill="#4d4d4f" stroke="#4d4d4f" stroke-width="0.22" >Bahariye</text>
<text transform="translate(517.0 729.6) scale(0.825 1)" font-size="12.2" text-anchor="start" fill="#4d4d4f" stroke="#4d4d4f" stroke-width="0.22" >İSTOÇ</text>
<text transform="translate(572.9 751.6) scale(0.825 1)" font-size="12.2" text-anchor="start" fill="#4d4d4f" stroke="#4d4d4f" stroke-width="0.22" >Göztepe Mah.</text>
<text transform="translate(552.9 774.0) scale(0.825 1)" font-size="12.2" text-anchor="start" fill="#4d4d4f" stroke="#4d4d4f" stroke-width="0.22" >Mahmutbey</text>
<text transform="translate(436.8 763.3) scale(0.825 1)" font-size="12.2" text-anchor="end" fill="#4d4d4f" stroke="#4d4d4f" stroke-width="0.22" >Atatürk</text>
<text transform="translate(436.8 774.9) scale(0.825 1)" font-size="12.2" text-anchor="end" fill="#4d4d4f" stroke="#4d4d4f" stroke-width="0.22" >Mah.</text>
<text transform="translate(496.6 761.5) scale(0.825 1)" font-size="12.2" text-anchor="middle" fill="#909295" stroke="#909295" stroke-width="0.22" >Bölge</text>
<text transform="translate(496.6 773.5) scale(0.825 1)" font-size="12.2" text-anchor="middle" fill="#909295" stroke="#909295" stroke-width="0.22" >Parkı</text>
<text transform="translate(350.1 737.0) scale(0.825 1)" font-size="12.2" text-anchor="start" fill="#909295" stroke="#909295" stroke-width="0.22" >Tema Park</text>
<text transform="translate(319.6 742.9) scale(0.825 1)" font-size="12.2" text-anchor="end" fill="#909295" stroke="#909295" stroke-width="0.22" >Halkalı</text>
<text transform="translate(319.6 755.5) scale(0.825 1)" font-size="12.2" text-anchor="end" fill="#909295" stroke="#909295" stroke-width="0.22" >Stadı</text>
<text transform="translate(374.3 784.9) scale(0.825 1)" font-size="12.2" text-anchor="end" fill="#909295" stroke="#909295" stroke-width="0.22" >Toplu</text>
<text transform="translate(374.3 797.5) scale(0.825 1)" font-size="12.2" text-anchor="end" fill="#909295" stroke="#909295" stroke-width="0.22" >Konutlar</text>
<text transform="translate(162.8 703.8) scale(0.825 1)" font-size="12.2" text-anchor="end" fill="#909295" stroke="#909295" stroke-width="0.22" >Ispartakule</text>
<text transform="translate(121.8 599.3) scale(0.825 1)" font-size="12.2" text-anchor="end" fill="#909295" stroke="#909295" stroke-width="0.22" >Bahçeşehir</text>
<text transform="translate(242.0 705.6) scale(0.825 1)" font-size="12.2" text-anchor="middle" fill="#909295" stroke="#909295" stroke-width="0.22" >Tahtakale</text>
<text transform="translate(297.0 705.6) scale(0.825 1)" font-size="12.2" text-anchor="middle" fill="#909295" stroke="#909295" stroke-width="0.22" >Hastane</text>
<text transform="translate(181.4 730.4) scale(0.825 1)" font-size="12.2" text-anchor="start" fill="#909295" stroke="#909295" stroke-width="0.22" >Ispartakule</text>
<text transform="translate(134.3 726.4) scale(0.825 1)" font-size="12.2" text-anchor="end" fill="#909295" stroke="#909295" stroke-width="0.22" >Bahçeşehir</text>
<text transform="translate(119.2 764.9) scale(0.825 1)" font-size="12.2" text-anchor="end" fill="#909295" stroke="#909295" stroke-width="0.22" >Esenkent</text>
<text transform="translate(119.7 801.3) scale(0.825 1)" font-size="12.2" text-anchor="end" fill="#909295" stroke="#909295" stroke-width="0.22" >Ardıçlı</text>
<text transform="translate(116.5 832.4) scale(0.825 1)" font-size="12.2" text-anchor="end" fill="#909295" stroke="#909295" stroke-width="0.22" >Esenyurt</text>
<text transform="translate(116.5 845.0) scale(0.825 1)" font-size="12.2" text-anchor="end" fill="#909295" stroke="#909295" stroke-width="0.22" >Meydan</text>
<text transform="translate(437.3 824.4) scale(0.825 1)" font-size="12.2" text-anchor="end" fill="#4d4d4f" stroke="#4d4d4f" stroke-width="0.22" >Halkalı Caddesi</text>
<text transform="translate(437.3 865.6) scale(0.825 1)" font-size="12.2" text-anchor="end" fill="#4d4d4f" stroke="#4d4d4f" stroke-width="0.22" >15 Temmuz</text>
<text transform="translate(541.8 825.7) scale(0.825 1)" font-size="12.2" text-anchor="end" fill="#4d4d4f" stroke="#4d4d4f" stroke-width="0.22" >Yenimahalle</text>
<text transform="translate(541.8 863.5) scale(0.825 1)" font-size="12.2" text-anchor="end" fill="#4d4d4f" stroke="#4d4d4f" stroke-width="0.22" >Kirazlı</text>
<text transform="translate(541.8 876.3) scale(0.825 1)" font-size="12.2" text-anchor="end" fill="#4d4d4f" stroke="#4d4d4f" stroke-width="0.22" >Bağcılar</text>
<text transform="translate(607.4 833.7) scale(0.825 1)" font-size="12.2" text-anchor="middle" fill="#4d4d4f" stroke="#4d4d4f" stroke-width="0.22" >Bağcılar</text>
<text transform="translate(607.4 846.3) scale(0.825 1)" font-size="12.2" text-anchor="middle" fill="#4d4d4f" stroke="#4d4d4f" stroke-width="0.22" >Meydan</text>
<text transform="translate(661.0 847.0) scale(0.825 1)" font-size="12.2" text-anchor="middle" fill="#4d4d4f" stroke="#4d4d4f" stroke-width="0.22" >Üçyüzlü</text>
<text transform="translate(331.0 887.4) scale(0.825 1)" font-size="12.2" text-anchor="middle" fill="#909295" stroke="#909295" stroke-width="0.22" >Mehmet Akif</text>
<text transform="translate(331.0 900.2) scale(0.825 1)" font-size="12.2" text-anchor="middle" fill="#909295" stroke="#909295" stroke-width="0.22" >Ersoy</text>
<text transform="translate(415.3 896.7) scale(0.825 1)" font-size="12.2" text-anchor="middle" fill="#909295" stroke="#909295" stroke-width="0.22" >Fatih</text>
<text transform="translate(545.0 896.1) scale(0.825 1)" font-size="12.2" text-anchor="end" fill="#909295" stroke="#909295" stroke-width="0.22" >Barbaros</text>
<text transform="translate(487.8 921.4) scale(0.825 1)" font-size="12.2" text-anchor="middle" fill="#909295" stroke="#909295" stroke-width="0.22" >Malazgirt</text>
<text transform="translate(384.2 921.4) scale(0.825 1)" font-size="12.2" text-anchor="middle" fill="#909295" stroke="#909295" stroke-width="0.22" >Halkalı</text>
<text transform="translate(384.2 933.4) scale(0.825 1)" font-size="12.2" text-anchor="middle" fill="#909295" stroke="#909295" stroke-width="0.22" >Üniversite</text>
<text transform="translate(444.5 933.4) scale(0.825 1)" font-size="12.2" text-anchor="middle" fill="#4d4d4f" stroke="#4d4d4f" stroke-width="0.22" >Mimar</text>
<text transform="translate(444.5 946.0) scale(0.825 1)" font-size="12.2" text-anchor="middle" fill="#4d4d4f" stroke="#4d4d4f" stroke-width="0.22" >Sinan</text>
<text transform="translate(329.7 944.5) scale(0.825 1)" font-size="12.2" text-anchor="start" fill="#909295" stroke="#909295" stroke-width="0.22" >Yenidoğan</text>
<text transform="translate(311.0 967.9) scale(0.825 1)" font-size="12.2" text-anchor="start" fill="#909295" stroke="#909295" stroke-width="0.22" >Bezirganbahçe</text>
<text transform="translate(556.4 948.5) scale(0.825 1)" font-size="12.2" text-anchor="end" fill="#4d4d4f" stroke="#4d4d4f" stroke-width="0.22" >Molla Gürani</text>
<text transform="translate(584.0 977.2) scale(0.825 1)" font-size="12.2" text-anchor="end" fill="#4d4d4f" stroke="#4d4d4f" stroke-width="0.22" >Yıldıztepe</text>
<text transform="translate(614.0 1009.1) scale(0.825 1)" font-size="12.2" text-anchor="end" fill="#4d4d4f" stroke="#4d4d4f" stroke-width="0.22" >İlkyuva</text>
<text transform="translate(645.2 1037.0) scale(0.825 1)" font-size="12.2" text-anchor="end" fill="#4d4d4f" stroke="#4d4d4f" stroke-width="0.22" >Haznedar</text>
<text transform="translate(457.3 988.9) scale(0.825 1)" font-size="12.2" text-anchor="end" fill="#4d4d4f" stroke="#4d4d4f" stroke-width="0.22" >Doğu Sanayi</text>
<text transform="translate(501.1 1031.4) scale(0.825 1)" font-size="12.2" text-anchor="end" fill="#4d4d4f" stroke="#4d4d4f" stroke-width="0.22" >29 Ekim</text>
<text transform="translate(501.1 1044.2) scale(0.825 1)" font-size="12.2" text-anchor="end" fill="#4d4d4f" stroke="#4d4d4f" stroke-width="0.22" >Cumhuriyet</text>
<text transform="translate(549.7 1078.2) scale(0.825 1)" font-size="12.2" text-anchor="end" fill="#4d4d4f" stroke="#4d4d4f" stroke-width="0.22" >Çobançeşme</text>
<text transform="translate(301.2 1008.3) scale(0.825 1)" font-size="12.2" text-anchor="middle" fill="#4d4d4f" stroke="#4d4d4f" stroke-width="0.22" >Halkalı</text>
<text transform="translate(310.3 1036.7) scale(0.825 1)" font-size="12.2" text-anchor="start" fill="#4d4d4f" stroke="#4d4d4f" stroke-width="0.22" >Mustafa Kemal</text>
<text transform="translate(347.0 1073.4) scale(0.825 1)" font-size="12.2" text-anchor="start" fill="#4d4d4f" stroke="#4d4d4f" stroke-width="0.22" >K.Çekmece</text>
<rect x="248.0" y="983.6" width="14.2" height="14.2" rx="1.7" fill="#fff" stroke="#1d2c5c" stroke-width="0.78"/>
<g transform="translate(248.0 983.6) scale(0.986)" fill="#1d2c5c"><path d="M12.8 5.9 H7.4 Q4.4 6 1.7 9 Q1.3 10.5 2.8 10.5 H12.8 Z"/><path d="M3.7 8.3 L5.7 6.9 H9.6 V8.3 Z" fill="#fff"/><rect x="1.5" y="11.2" width="11.3" height="0.8"/><path d="M4.8 4.1 H8.8 M6.8 4.1 V5.9 M5.6 4.9 H8" stroke="#1d2c5c" stroke-width="0.6" fill="none"/></g>
<rect x="37.8" y="878.6" width="14.2" height="14.2" rx="1.7" fill="#fff" stroke="#1d2c5c" stroke-width="0.78"/>
<g transform="translate(37.8 878.6) scale(0.986)" fill="#1d2c5c"><path d="M3.4 4.4 Q3.4 2.8 5 2.8 H9.4 Q11 2.8 11 4.4 V10.4 H3.4 Z M4.4 4.4 V7.4 H10 V4.4 Z" fill-rule="evenodd"/><rect x="3.9" y="10.2" width="1.6" height="1.5"/><rect x="8.9" y="10.2" width="1.6" height="1.5"/><circle cx="4.7" cy="8.9" r="0.55" fill="#fff"/><circle cx="9.7" cy="8.9" r="0.55" fill="#fff"/></g>
<text transform="translate(51.4 902.0) scale(0.825 1)" font-size="10.0" text-anchor="start" fill="#3d4756" stroke="#3d4756" stroke-width="0.22" >Beylikdüzü Sondurak</text>
<text transform="translate(53.3 922.7) scale(0.825 1)" font-size="10.0" text-anchor="start" fill="#3d4756" stroke="#3d4756" stroke-width="0.22" >Beykent</text>
<text transform="translate(68.4 939.2) scale(0.825 1)" font-size="10.0" text-anchor="start" fill="#3d4756" stroke="#3d4756" stroke-width="0.22" >Cumhuriyet Mahallesi</text>
<text transform="translate(58.6 965.0) scale(0.825 1)" font-size="10.0" text-anchor="middle" fill="#3d4756" stroke="#3d4756" stroke-width="0.22" >Beylikdüzü</text>
<text transform="translate(58.6 975.3) scale(0.825 1)" font-size="10.0" text-anchor="middle" fill="#3d4756" stroke="#3d4756" stroke-width="0.22" >Belediye</text>
<text transform="translate(101.6 993.2) scale(0.825 1)" font-size="10.0" text-anchor="end" fill="#3d4756" stroke="#3d4756" stroke-width="0.22" >Beylikdüzü</text>
<text transform="translate(120.2 1011.5) scale(0.825 1)" font-size="10.0" text-anchor="end" fill="#3d4756" stroke="#3d4756" stroke-width="0.22" >Güzelyurt</text>
<text transform="translate(144.2 1033.0) scale(0.825 1)" font-size="10.0" text-anchor="end" fill="#3d4756" stroke="#3d4756" stroke-width="0.22" >Haramidere</text>
<text transform="translate(163.0 1054.8) scale(0.825 1)" font-size="10.0" text-anchor="end" fill="#3d4756" stroke="#3d4756" stroke-width="0.22" >Haramidere Sanayi</text>
<text transform="translate(184.0 1074.2) scale(0.825 1)" font-size="10.0" text-anchor="end" fill="#3d4756" stroke="#3d4756" stroke-width="0.22" >Saadetdere Mahallesi</text>
<text transform="translate(214.9 1097.9) scale(0.825 1)" font-size="10.0" text-anchor="end" fill="#3d4756" stroke="#3d4756" stroke-width="0.22" >Mustafa Kemal Paşa</text>
<text transform="translate(261.9 1072.9) scale(0.825 1)" font-size="10.0" text-anchor="middle" fill="#3d4756" stroke="#3d4756" stroke-width="0.22" >Avcılar Merk.</text>
<text transform="translate(261.9 1083.2) scale(0.825 1)" font-size="10.0" text-anchor="middle" fill="#3d4756" stroke="#3d4756" stroke-width="0.22" >Ü. Kampüsü</text>
<text transform="translate(309.7 1073.4) scale(0.825 1)" font-size="10.0" text-anchor="middle" fill="#3d4756" stroke="#3d4756" stroke-width="0.22" >İBB</text>
<text transform="translate(309.7 1083.7) scale(0.825 1)" font-size="10.0" text-anchor="middle" fill="#3d4756" stroke="#3d4756" stroke-width="0.22" >Sos. Tes.</text>
<text transform="translate(239.3 1104.2) scale(0.825 1)" font-size="10.0" text-anchor="middle" fill="#3d4756" stroke="#3d4756" stroke-width="0.22" >Cihangir</text>
<text transform="translate(239.3 1113.8) scale(0.825 1)" font-size="10.0" text-anchor="middle" fill="#3d4756" stroke="#3d4756" stroke-width="0.22" >Üniversite Mah.</text>
<text transform="translate(286.6 1104.2) scale(0.825 1)" font-size="10.0" text-anchor="middle" fill="#3d4756" stroke="#3d4756" stroke-width="0.22" >Şükrübey</text>
<text transform="translate(336.3 1104.2) scale(0.825 1)" font-size="10.0" text-anchor="middle" fill="#3d4756" stroke="#3d4756" stroke-width="0.22" >K.Çekmece</text>
<text transform="translate(391.0 1103.1) scale(0.825 1)" font-size="10.0" text-anchor="middle" fill="#3d4756" stroke="#3d4756" stroke-width="0.22" >Cennet</text>
<text transform="translate(391.0 1112.5) scale(0.825 1)" font-size="10.0" text-anchor="middle" fill="#3d4756" stroke="#3d4756" stroke-width="0.22" >Mah.</text>
<text transform="translate(436.0 1104.2) scale(0.825 1)" font-size="10.0" text-anchor="middle" fill="#3d4756" stroke="#3d4756" stroke-width="0.22" >Florya</text>
<text transform="translate(481.2 1104.2) scale(0.825 1)" font-size="10.0" text-anchor="middle" fill="#3d4756" stroke="#3d4756" stroke-width="0.22" >Beşyol</text>
<text transform="translate(525.8 1104.2) scale(0.825 1)" font-size="10.0" text-anchor="middle" fill="#3d4756" stroke="#3d4756" stroke-width="0.22" >Sefaköy</text>
<text transform="translate(511.7 1119.6) scale(0.825 1)" font-size="12.2" text-anchor="start" fill="#4d4d4f" stroke="#4d4d4f" stroke-width="0.22" >DTM-İstanbul</text>
<text transform="translate(511.7 1132.4) scale(0.825 1)" font-size="12.2" text-anchor="start" fill="#4d4d4f" stroke="#4d4d4f" stroke-width="0.22" >Fuar Merkezi</text>
<text transform="translate(594.1 1080.5) scale(0.825 1)" font-size="10.0" text-anchor="middle" fill="#414143" stroke="#414143" stroke-width="0.22" >Yenibosna</text>
<text transform="translate(596.8 1134.2) scale(0.825 1)" font-size="12.2" text-anchor="start" fill="#4d4d4f" stroke="#4d4d4f" stroke-width="0.22" >Yenibosna</text>
<text transform="translate(639.8 1069.6) scale(0.825 1)" font-size="12.2" text-anchor="middle" fill="#4d4d4f" stroke="#4d4d4f" stroke-width="0.22" >Ataköy</text>
<text transform="translate(639.8 1081.6) scale(0.825 1)" font-size="12.2" text-anchor="middle" fill="#4d4d4f" stroke="#4d4d4f" stroke-width="0.22" >Şirinevler</text>
<text transform="translate(405.4 1154.2) scale(0.825 1)" font-size="12.2" text-anchor="end" fill="#4d4d4f" stroke="#4d4d4f" stroke-width="0.22" >Florya</text>
<text transform="translate(455.9 1204.7) scale(0.825 1)" font-size="12.2" text-anchor="end" fill="#4d4d4f" stroke="#4d4d4f" stroke-width="0.22" >Florya Akvaryum</text>
<text transform="translate(520.5 1215.3) scale(0.825 1)" font-size="12.2" text-anchor="middle" fill="#4d4d4f" stroke="#4d4d4f" stroke-width="0.22" >Yeşilköy</text>
<text transform="translate(586.7 1215.3) scale(0.825 1)" font-size="12.2" text-anchor="middle" fill="#4d4d4f" stroke="#4d4d4f" stroke-width="0.22" >Yeşilyurt</text>
<text transform="translate(545.0 1157.3) scale(0.825 1)" font-size="12.2" text-anchor="end" fill="#4d4d4f" stroke="#4d4d4f" stroke-width="0.22" >Atatürk</text>
<text transform="translate(545.0 1170.1) scale(0.825 1)" font-size="12.2" text-anchor="end" fill="#4d4d4f" stroke="#4d4d4f" stroke-width="0.22" >Havalimanı</text>
<text transform="translate(536.4 1180.7) scale(0.825 1)" font-size="10.0" text-anchor="end" fill="#4d4d4f" stroke="#4d4d4f" stroke-width="0.22" >(Airport)</text>
<rect x="539.6" y="1172.8" width="14.4" height="14.4" rx="1.7" fill="#fff" stroke="#1d2c5c" stroke-width="0.79"/>
<g transform="translate(539.6 1172.8) scale(1.000)" fill="#1d2c5c"><path transform="translate(7.2 7.2) rotate(45) scale(0.95)" d="M0 -5.2 Q0.9 -4.4 0.9 -3 V-1.2 L5.2 1.6 V2.8 L0.9 1.3 V3.6 L2.2 4.6 V5.4 L0 4.8 L-2.2 5.4 V4.6 L-0.9 3.6 V1.3 L-5.2 2.8 V1.6 L-0.9 -1.2 V-3 Q-0.9 -4.4 0 -5.2 Z"/></g>
<text transform="translate(711.5 1138.5) scale(0.825 1)" font-size="12.2" text-anchor="end" fill="#4d4d4f" stroke="#4d4d4f" stroke-width="0.22" >Bakırköy</text>
<text transform="translate(729.3 1123.0) scale(0.825 1)" font-size="12.2" text-anchor="start" fill="#4d4d4f" stroke="#4d4d4f" stroke-width="0.22" >Özgürlük</text>
<text transform="translate(729.3 1134.8) scale(0.825 1)" font-size="12.2" text-anchor="start" fill="#4d4d4f" stroke="#4d4d4f" stroke-width="0.22" >Meydanı</text>
<text transform="translate(767.3 1162.4) scale(0.825 1)" font-size="12.2" text-anchor="middle" fill="#4d4d4f" stroke="#4d4d4f" stroke-width="0.22" >Yenimahalle</text>
<text transform="translate(831.1 1162.4) scale(0.825 1)" font-size="12.2" text-anchor="middle" fill="#4d4d4f" stroke="#4d4d4f" stroke-width="0.22" >Zeytinburnu</text>
<text transform="translate(831.1 1175.2) scale(0.825 1)" font-size="12.2" text-anchor="middle" fill="#4d4d4f" stroke="#4d4d4f" stroke-width="0.22" >Fişekhane</text>
<text transform="translate(883.7 1138.5) scale(0.825 1)" font-size="12.2" text-anchor="middle" fill="#4d4d4f" stroke="#4d4d4f" stroke-width="0.22" >Kazlıçeşme</text>
<text transform="translate(908.7 1170.9) scale(0.825 1)" font-size="10.5" text-anchor="middle" fill="#414143" stroke="#414143" stroke-width="0.22" >Yedikule</text>
<text transform="translate(949.9 1170.9) scale(0.825 1)" font-size="10.5" text-anchor="middle" fill="#414143" stroke="#414143" stroke-width="0.22" >K.M.Paşa</text>
<text transform="translate(1001.2 1170.9) scale(0.825 1)" font-size="10.5" text-anchor="middle" fill="#414143" stroke="#414143" stroke-width="0.22" >Cerrahpaşa</text>
<text transform="translate(656.2 1198.8) scale(0.825 1)" font-size="12.2" text-anchor="start" fill="#4d4d4f" stroke="#4d4d4f" stroke-width="0.22" >Ataköy</text>
<text transform="translate(721.3 1200.1) scale(0.825 1)" font-size="12.2" text-anchor="middle" fill="#4d4d4f" stroke="#4d4d4f" stroke-width="0.22" >Bakırköy</text>
<text transform="translate(721.3 1212.9) scale(0.825 1)" font-size="12.2" text-anchor="middle" fill="#4d4d4f" stroke="#4d4d4f" stroke-width="0.22" >Sahil</text>
<text transform="translate(1017.7 1111.9) scale(0.825 1)" font-size="12.2" text-anchor="end" fill="#4d4d4f" stroke="#4d4d4f" stroke-width="0.22" >Yenikapı</text>
<text transform="translate(1052.5 1140.6) scale(0.825 1)" font-size="10.0" text-anchor="start" fill="#414143" stroke="#414143" stroke-width="0.22" >Yenikapı</text>
<text transform="translate(1082.3 1109.8) scale(0.825 1)" font-size="10.0" text-anchor="start" fill="#414143" stroke="#414143" stroke-width="0.22" >Kumkapı</text>
<text transform="translate(819.1 1102.6) scale(0.825 1)" font-size="10.0" text-anchor="middle" fill="#414143" stroke="#414143" stroke-width="0.22" >Merkezefendi</text>
<text transform="translate(760.7 1087.4) scale(0.825 1)" font-size="10.0" text-anchor="middle" fill="#414143" stroke="#414143" stroke-width="0.22" >Seyitnizam</text>
<text transform="translate(760.7 1098.6) scale(0.825 1)" font-size="10.0" text-anchor="middle" fill="#414143" stroke="#414143" stroke-width="0.22" >Akşemsettin</text>
<text transform="translate(861.7 1086.4) scale(0.825 1)" font-size="10.0" text-anchor="middle" fill="#414143" stroke="#414143" stroke-width="0.22" >Topkapı</text>
<text transform="translate(999.7 1086.0) scale(0.825 1)" font-size="10.0" text-anchor="middle" fill="#414143" stroke="#414143" stroke-width="0.22" >Yusufpaşa</text>
<text transform="translate(678.8 1105.2) scale(0.825 1)" font-size="12.2" text-anchor="start" fill="#4d4d4f" stroke="#4d4d4f" stroke-width="0.22" >Bahçelievler</text>
<rect x="700.0" y="1153.7" width="14.2" height="14.2" rx="1.7" fill="#fff" stroke="#1d2c5c" stroke-width="0.78"/>
<g transform="translate(700.0 1153.7) scale(0.986)" fill="#1d2c5c"><path d="M12.8 5.9 H7.4 Q4.4 6 1.7 9 Q1.3 10.5 2.8 10.5 H12.8 Z"/><path d="M3.7 8.3 L5.7 6.9 H9.6 V8.3 Z" fill="#fff"/><rect x="1.5" y="11.2" width="11.3" height="0.8"/><path d="M4.8 4.1 H8.8 M6.8 4.1 V5.9 M5.6 4.9 H8" stroke="#1d2c5c" stroke-width="0.6" fill="none"/></g>
<text transform="translate(681.9 445.6) scale(0.825 1)" font-size="10.0" text-anchor="start" fill="#414143" stroke="#414143" stroke-width="0.22" >Mescid-i Selam</text>
<text transform="translate(681.9 481.5) scale(0.825 1)" font-size="10.0" text-anchor="start" fill="#414143" stroke="#414143" stroke-width="0.22" >Cebeci</text>
<text transform="translate(681.9 517.6) scale(0.825 1)" font-size="10.0" text-anchor="start" fill="#414143" stroke="#414143" stroke-width="0.22" >Sultançiftliği</text>
<text transform="translate(681.9 553.6) scale(0.825 1)" font-size="10.0" text-anchor="start" fill="#414143" stroke="#414143" stroke-width="0.22" >Yenimahalle</text>
<text transform="translate(681.9 589.6) scale(0.825 1)" font-size="10.0" text-anchor="start" fill="#414143" stroke="#414143" stroke-width="0.22" >Hacı Şükrü</text>
<text transform="translate(681.0 620.9) scale(0.825 1)" font-size="10.0" text-anchor="start" fill="#414143" stroke="#414143" stroke-width="0.22" >50.Yıl</text>
<text transform="translate(681.0 631.9) scale(0.825 1)" font-size="10.0" text-anchor="start" fill="#414143" stroke="#414143" stroke-width="0.22" >Baştabya</text>
<text transform="translate(681.0 659.4) scale(0.825 1)" font-size="10.0" text-anchor="start" fill="#414143" stroke="#414143" stroke-width="0.22" >Cumhuriyet Mah.</text>
<text transform="translate(689.4 678.1) scale(0.825 1)" font-size="10.0" text-anchor="start" fill="#414143" stroke="#414143" stroke-width="0.22" >KİPTAŞ</text>
<text transform="translate(689.4 688.4) scale(0.825 1)" font-size="10.0" text-anchor="start" fill="#414143" stroke="#414143" stroke-width="0.22" >Venezia</text>
<text transform="translate(764.1 679.1) scale(0.825 1)" font-size="12.2" text-anchor="middle" fill="#4d4d4f" stroke="#4d4d4f" stroke-width="0.22" >Kazım</text>
<text transform="translate(764.1 690.7) scale(0.825 1)" font-size="12.2" text-anchor="middle" fill="#4d4d4f" stroke="#4d4d4f" stroke-width="0.22" >Karabekir</text>
<text transform="translate(853.8 679.1) scale(0.825 1)" font-size="12.2" text-anchor="middle" fill="#4d4d4f" stroke="#4d4d4f" stroke-width="0.22" >Veysel Karani</text>
<text transform="translate(853.8 690.7) scale(0.825 1)" font-size="12.2" text-anchor="middle" fill="#4d4d4f" stroke="#4d4d4f" stroke-width="0.22" >Akşemsettin</text>
<text transform="translate(719.3 715.6) scale(0.825 1)" font-size="12.2" text-anchor="middle" fill="#4d4d4f" stroke="#4d4d4f" stroke-width="0.22" >Yenimahalle</text>
<text transform="translate(809.0 717.2) scale(0.825 1)" font-size="12.2" text-anchor="middle" fill="#4d4d4f" stroke="#4d4d4f" stroke-width="0.22" >Yeşilpınar</text>
<text transform="translate(899.1 715.0) scale(0.825 1)" font-size="12.2" text-anchor="middle" fill="#4d4d4f" stroke="#4d4d4f" stroke-width="0.22" >Çırçır Mah.</text>
<text transform="translate(918.8 638.8) scale(0.825 1)" font-size="10.0" text-anchor="middle" fill="#414143" stroke="#414143" stroke-width="0.22" >Alibeyköy</text>
<text transform="translate(918.8 649.1) scale(0.825 1)" font-size="10.0" text-anchor="middle" fill="#414143" stroke="#414143" stroke-width="0.22" >Cep Otogarı</text>
<rect x="896.3" y="654.4" width="14.4" height="14.4" rx="1.7" fill="#fff" stroke="#1d2c5c" stroke-width="0.79"/>
<g transform="translate(896.3 654.4) scale(1.000)" fill="#1d2c5c"><path d="M3.4 4.4 Q3.4 2.8 5 2.8 H9.4 Q11 2.8 11 4.4 V10.4 H3.4 Z M4.4 4.4 V7.4 H10 V4.4 Z" fill-rule="evenodd"/><rect x="3.9" y="10.2" width="1.6" height="1.5"/><rect x="8.9" y="10.2" width="1.6" height="1.5"/><circle cx="4.7" cy="8.9" r="0.55" fill="#fff"/><circle cx="9.7" cy="8.9" r="0.55" fill="#fff"/></g>
<text transform="translate(957.5 666.8) scale(0.825 1)" font-size="10.0" text-anchor="start" fill="#414143" stroke="#414143" stroke-width="0.22" >Alibeyköy</text>
<text transform="translate(957.5 677.1) scale(0.825 1)" font-size="10.0" text-anchor="start" fill="#414143" stroke="#414143" stroke-width="0.22" >Metro</text>
<text transform="translate(955.1 722.6) scale(0.825 1)" font-size="12.2" text-anchor="start" fill="#4d4d4f" stroke="#4d4d4f" stroke-width="0.22" >Alibeyköy</text>
<text transform="translate(938.5 736.5) scale(0.825 1)" font-size="10.0" text-anchor="end" fill="#414143" stroke="#414143" stroke-width="0.22" >Alibeyköy Merk.</text>
<text transform="translate(938.5 763.5) scale(0.825 1)" font-size="10.0" text-anchor="end" fill="#414143" stroke="#414143" stroke-width="0.22" >Üniversite</text>
<text transform="translate(938.5 784.4) scale(0.825 1)" font-size="10.0" text-anchor="end" fill="#414143" stroke="#414143" stroke-width="0.22" >Silahtarağa</text>
<text transform="translate(938.5 795.0) scale(0.825 1)" font-size="10.0" text-anchor="end" fill="#414143" stroke="#414143" stroke-width="0.22" >Mahallesi</text>
<text transform="translate(951.5 803.3) scale(0.825 1)" font-size="10.0" text-anchor="start" fill="#414143" stroke="#414143" stroke-width="0.22" >Eyüpsultan</text>
<text transform="translate(951.5 813.7) scale(0.825 1)" font-size="10.0" text-anchor="start" fill="#414143" stroke="#414143" stroke-width="0.22" >Devlet Hastanesi</text>
<text transform="translate(697.3 735.5) scale(0.825 1)" font-size="10.0" text-anchor="start" fill="#414143" stroke="#414143" stroke-width="0.22" >Karadeniz</text>
<text transform="translate(724.3 758.1) scale(0.825 1)" font-size="10.0" text-anchor="start" fill="#414143" stroke="#414143" stroke-width="0.22" >Taşköprü</text>
<text transform="translate(747.8 783.0) scale(0.825 1)" font-size="10.0" text-anchor="start" fill="#414143" stroke="#414143" stroke-width="0.22" >Ali Fuat Başgil</text>
<text transform="translate(789.0 811.3) scale(0.825 1)" font-size="10.0" text-anchor="middle" fill="#414143" stroke="#414143" stroke-width="0.22" >Bosna</text>
<text transform="translate(789.0 822.3) scale(0.825 1)" font-size="10.0" text-anchor="middle" fill="#414143" stroke="#414143" stroke-width="0.22" >Çukurçeşme</text>
<text transform="translate(837.9 800.3) scale(0.825 1)" font-size="10.0" text-anchor="start" fill="#414143" stroke="#414143" stroke-width="0.22" >Sağmalcılar</text>
<text transform="translate(862.8 825.2) scale(0.825 1)" font-size="10.0" text-anchor="start" fill="#414143" stroke="#414143" stroke-width="0.22" >Uluyol-Bereç</text>
<text transform="translate(886.1 848.2) scale(0.825 1)" font-size="10.0" text-anchor="start" fill="#414143" stroke="#414143" stroke-width="0.22" >Rami</text>
<text transform="translate(908.0 869.3) scale(0.825 1)" font-size="10.0" text-anchor="start" fill="#414143" stroke="#414143" stroke-width="0.22" >Topçular</text>
<text transform="translate(939.1 829.6) scale(0.825 1)" font-size="10.0" text-anchor="end" fill="#414143" stroke="#414143" stroke-width="0.22" >Piyer</text>
<text transform="translate(939.1 839.2) scale(0.825 1)" font-size="10.0" text-anchor="end" fill="#414143" stroke="#414143" stroke-width="0.22" >Loti</text>
<text transform="translate(959.2 865.0) scale(0.825 1)" font-size="10.0" text-anchor="middle" fill="#414143" stroke="#414143" stroke-width="0.22" >Eyüp</text>
<text transform="translate(768.1 848.2) scale(0.825 1)" font-size="12.2" text-anchor="middle" fill="#4d4d4f" stroke="#4d4d4f" stroke-width="0.22" >Esenler</text>
<text transform="translate(715.7 873.1) scale(0.825 1)" font-size="12.2" text-anchor="middle" fill="#4d4d4f" stroke="#4d4d4f" stroke-width="0.22" >Menderes</text>
<text transform="translate(822.9 862.1) scale(0.825 1)" font-size="12.2" text-anchor="start" fill="#4d4d4f" stroke="#4d4d4f" stroke-width="0.22" >Otogar</text>
<text transform="translate(823.3 872.7) scale(0.825 1)" font-size="9.5" text-anchor="start" fill="#414143" stroke="#414143" stroke-width="0.22" >(Coach Station)</text>
<rect x="856.8" y="851.4" width="14.2" height="14.2" rx="1.7" fill="#fff" stroke="#1d2c5c" stroke-width="0.78"/>
<g transform="translate(856.8 851.4) scale(0.986)" fill="#1d2c5c"><path d="M3.4 4.4 Q3.4 2.8 5 2.8 H9.4 Q11 2.8 11 4.4 V10.4 H3.4 Z M4.4 4.4 V7.4 H10 V4.4 Z" fill-rule="evenodd"/><rect x="3.9" y="10.2" width="1.6" height="1.5"/><rect x="8.9" y="10.2" width="1.6" height="1.5"/><circle cx="4.7" cy="8.9" r="0.55" fill="#fff"/><circle cx="9.7" cy="8.9" r="0.55" fill="#fff"/></g>
<text transform="translate(864.0 894.9) scale(0.825 1)" font-size="12.2" text-anchor="start" fill="#4d4d4f" stroke="#4d4d4f" stroke-width="0.22" >Kocatepe</text>
<text transform="translate(613.8 875.6) scale(0.825 1)" font-size="10.0" text-anchor="start" fill="#414143" stroke="#414143" stroke-width="0.22" >Bağcılar</text>
<text transform="translate(612.6 896.0) scale(0.825 1)" font-size="10.0" text-anchor="start" fill="#414143" stroke="#414143" stroke-width="0.22" >Güneştepe</text>
<text transform="translate(624.2 912.7) scale(0.825 1)" font-size="10.0" text-anchor="start" fill="#414143" stroke="#414143" stroke-width="0.22" >Yavuz Selim</text>
<text transform="translate(641.3 929.6) scale(0.825 1)" font-size="10.0" text-anchor="start" fill="#414143" stroke="#414143" stroke-width="0.22" >Soğanlı</text>
<text transform="translate(658.1 946.2) scale(0.825 1)" font-size="10.0" text-anchor="start" fill="#414143" stroke="#414143" stroke-width="0.22" >Akıncılar</text>
<text transform="translate(661.3 970.6) scale(0.825 1)" font-size="10.0" text-anchor="end" fill="#414143" stroke="#414143" stroke-width="0.22" >Güngören</text>
<text transform="translate(684.0 988.5) scale(0.825 1)" font-size="10.0" text-anchor="end" fill="#414143" stroke="#414143" stroke-width="0.22" >Merter Teks.</text>
<text transform="translate(684.0 998.9) scale(0.825 1)" font-size="10.0" text-anchor="end" fill="#414143" stroke="#414143" stroke-width="0.22" >Merk.</text>
<text transform="translate(702.5 1010.4) scale(0.825 1)" font-size="10.0" text-anchor="end" fill="#414143" stroke="#414143" stroke-width="0.22" >Mehmet</text>
<text transform="translate(702.5 1020.7) scale(0.825 1)" font-size="10.0" text-anchor="end" fill="#414143" stroke="#414143" stroke-width="0.22" >Akif</text>
<text transform="translate(790.2 905.8) scale(0.825 1)" font-size="12.2" text-anchor="end" fill="#4d4d4f" stroke="#4d4d4f" stroke-width="0.22" >Terazidere</text>
<text transform="translate(758.3 927.7) scale(0.825 1)" font-size="12.2" text-anchor="end" fill="#4d4d4f" stroke="#4d4d4f" stroke-width="0.22" >Davutpaşa</text>
<text transform="translate(758.3 940.3) scale(0.825 1)" font-size="12.2" text-anchor="end" fill="#4d4d4f" stroke="#4d4d4f" stroke-width="0.22" >YTÜ</text>
<text transform="translate(730.4 965.6) scale(0.825 1)" font-size="12.2" text-anchor="end" fill="#4d4d4f" stroke="#4d4d4f" stroke-width="0.22" >Merter</text>
<text transform="translate(753.8 988.5) scale(0.825 1)" font-size="10.0" text-anchor="start" fill="#414143" stroke="#414143" stroke-width="0.22" >Merter</text>
<text transform="translate(738.0 1022.4) scale(0.825 1)" font-size="12.2" text-anchor="start" fill="#4d4d4f" stroke="#4d4d4f" stroke-width="0.22" >Zeytinburnu</text>
<text transform="translate(874.5 927.1) scale(0.825 1)" font-size="12.2" text-anchor="end" fill="#4d4d4f" stroke="#4d4d4f" stroke-width="0.22" >Sağmalcılar</text>
<text transform="translate(906.2 968.6) scale(0.825 1)" font-size="12.2" text-anchor="end" fill="#4d4d4f" stroke="#4d4d4f" stroke-width="0.22" >Bayrampaşa</text>
<text transform="translate(906.2 979.6) scale(0.825 1)" font-size="12.2" text-anchor="end" fill="#4d4d4f" stroke="#4d4d4f" stroke-width="0.22" >Maltepe</text>
<text transform="translate(957.7 989.5) scale(0.825 1)" font-size="12.2" text-anchor="start" fill="#4d4d4f" stroke="#4d4d4f" stroke-width="0.22" >Topkapı-Ulubatlı</text>
<text transform="translate(983.2 1016.8) scale(0.825 1)" font-size="12.2" text-anchor="start" fill="#4d4d4f" stroke="#4d4d4f" stroke-width="0.22" >Emniyet-Fatih</text>
<text transform="translate(1010.1 1041.3) scale(0.825 1)" font-size="12.2" text-anchor="start" fill="#4d4d4f" stroke="#4d4d4f" stroke-width="0.22" >Aksaray</text>
<text transform="translate(927.8 907.2) scale(0.825 1)" font-size="10.0" text-anchor="end" fill="#414143" stroke="#414143" stroke-width="0.22" >Demirkapı</text>
<text transform="translate(936.8 894.2) scale(0.825 1)" font-size="10.0" text-anchor="start" fill="#909295" stroke="#909295" stroke-width="0.22" >Demirkapı</text>
<text transform="translate(943.0 927.1) scale(0.825 1)" font-size="10.0" text-anchor="end" fill="#909295" stroke="#909295" stroke-width="0.22" >Bayrampaşa</text>
<text transform="translate(865.6 945.6) scale(0.825 1)" font-size="10.0" text-anchor="end" fill="#909295" stroke="#909295" stroke-width="0.22" >Bayrampaşa</text>
<text transform="translate(865.6 954.8) scale(0.825 1)" font-size="10.0" text-anchor="end" fill="#909295" stroke="#909295" stroke-width="0.22" >Meydanı</text>
<text transform="translate(963.0 926.8) scale(0.825 1)" font-size="10.0" text-anchor="start" fill="#414143" stroke="#414143" stroke-width="0.22" >Şehitlik</text>
<text transform="translate(959.3 951.0) scale(0.825 1)" font-size="10.0" text-anchor="end" fill="#414143" stroke="#414143" stroke-width="0.22" >Edirnekapı</text>
<text transform="translate(973.0 955.8) scale(0.825 1)" font-size="10.0" text-anchor="start" fill="#414143" stroke="#414143" stroke-width="0.22" >Edirnekapı</text>
<text transform="translate(982.6 905.4) scale(0.825 1)" font-size="10.0" text-anchor="start" fill="#414143" stroke="#414143" stroke-width="0.22" >Ayvansaray</text>
<text transform="translate(982.6 914.8) scale(0.825 1)" font-size="10.0" text-anchor="start" fill="#414143" stroke="#414143" stroke-width="0.22" >Eyüpsultan</text>
<text transform="translate(932.4 985.0) scale(0.825 1)" font-size="10.0" text-anchor="end" fill="#414143" stroke="#414143" stroke-width="0.22" >Vatan</text>
<text transform="translate(847.0 998.1) scale(0.825 1)" font-size="10.0" text-anchor="middle" fill="#3d4756" stroke="#3d4756" stroke-width="0.22" >Bayrampaşa Maltepe</text>
<text transform="translate(876.3 1014.4) scale(0.825 1)" font-size="10.0" text-anchor="end" fill="#3d4756" stroke="#3d4756" stroke-width="0.22" >Topkapı</text>
<text transform="translate(876.3 1023.8) scale(0.825 1)" font-size="10.0" text-anchor="end" fill="#3d4756" stroke="#3d4756" stroke-width="0.22" >Şehit M. Cambaz</text>
<text transform="translate(834.1 1038.7) scale(0.825 1)" font-size="10.0" text-anchor="middle" fill="#3d4756" stroke="#3d4756" stroke-width="0.22" >C.Bağ</text>
<text transform="translate(758.7 1045.7) scale(0.825 1)" font-size="10.0" text-anchor="start" fill="#414143" stroke="#414143" stroke-width="0.22" >Mithatpaşa</text>
<text transform="translate(827.1 1065.2) scale(0.825 1)" font-size="10.0" text-anchor="end" fill="#414143" stroke="#414143" stroke-width="0.22" >Cevizlibağ</text>
<text transform="translate(827.1 1075.8) scale(0.825 1)" font-size="10.0" text-anchor="end" fill="#414143" stroke="#414143" stroke-width="0.22" >AÖY</text>
<text transform="translate(910.9 1030.0) scale(0.825 1)" font-size="10.0" text-anchor="start" fill="#414143" stroke="#414143" stroke-width="0.22" >Fetihkapı</text>
<text transform="translate(921.8 1045.3) scale(0.825 1)" font-size="10.0" text-anchor="middle" fill="#414143" stroke="#414143" stroke-width="0.22" >Çapa</text>
<text transform="translate(921.8 1055.6) scale(0.825 1)" font-size="10.0" text-anchor="middle" fill="#414143" stroke="#414143" stroke-width="0.22" >Şehremini</text>
<text transform="translate(980.0 1055.9) scale(0.825 1)" font-size="10.0" text-anchor="middle" fill="#414143" stroke="#414143" stroke-width="0.22" >Haseki</text>
<text transform="translate(892.9 1075.2) scale(0.825 1)" font-size="10.0" text-anchor="middle" fill="#414143" stroke="#414143" stroke-width="0.22" >Pazartekke</text>
<text transform="translate(951.1 1075.2) scale(0.825 1)" font-size="10.0" text-anchor="middle" fill="#414143" stroke="#414143" stroke-width="0.22" >Fındıkzade</text>
<text transform="translate(693.6 1037.9) scale(0.825 1)" font-size="12.2" text-anchor="middle" fill="#4d4d4f" stroke="#4d4d4f" stroke-width="0.22" >İncirli</text>
<text transform="translate(696.0 1061.3) scale(0.825 1)" font-size="10.0" text-anchor="end" fill="#3d4756" stroke="#3d4756" stroke-width="0.22" >İncirli</text>
<text transform="translate(715.5 1070.8) scale(0.825 1)" font-size="12.2" text-anchor="start" fill="#4d4d4f" stroke="#4d4d4f" stroke-width="0.22" >Bakırköy</text>
<text transform="translate(715.5 1082.8) scale(0.825 1)" font-size="12.2" text-anchor="start" fill="#4d4d4f" stroke="#4d4d4f" stroke-width="0.22" >İncirli</text>
<text transform="translate(1210.8 369.9) scale(0.825 1)" font-size="12.2" text-anchor="end" fill="#4d4d4f" stroke="#4d4d4f" stroke-width="0.22" >Hacıosman</text>
<text transform="translate(1183.4 397.5) scale(0.825 1)" font-size="12.2" text-anchor="end" fill="#4d4d4f" stroke="#4d4d4f" stroke-width="0.22" >Darüşşafaka</text>
<text transform="translate(1153.7 445.2) scale(0.825 1)" font-size="12.2" text-anchor="end" fill="#4d4d4f" stroke="#4d4d4f" stroke-width="0.22" >Atatürk Oto Sanayi</text>
<text transform="translate(1155.5 490.4) scale(0.825 1)" font-size="12.2" text-anchor="end" fill="#4d4d4f" stroke="#4d4d4f" stroke-width="0.22" >İTÜ</text>
<text transform="translate(1155.5 503.7) scale(0.825 1)" font-size="12.2" text-anchor="end" fill="#4d4d4f" stroke="#4d4d4f" stroke-width="0.22" >Ayazağa</text>
<text transform="translate(982.8 501.5) scale(0.825 1)" font-size="12.2" text-anchor="end" fill="#4d4d4f" stroke="#4d4d4f" stroke-width="0.22" >Kemerburgaz</text>
<text transform="translate(986.2 554.7) scale(0.825 1)" font-size="12.2" text-anchor="end" fill="#4d4d4f" stroke="#4d4d4f" stroke-width="0.22" >Hasdal</text>
<text transform="translate(1171.0 547.0) scale(0.825 1)" font-size="12.2" text-anchor="start" fill="#4d4d4f" stroke="#4d4d4f" stroke-width="0.22" >Sanayi Mah.</text>
<text transform="translate(1109.8 532.9) scale(0.825 1)" font-size="12.2" text-anchor="middle" fill="#4d4d4f" stroke="#4d4d4f" stroke-width="0.22" >Seyrantepe</text>
<text transform="translate(1061.2 561.6) scale(0.825 1)" font-size="12.2" text-anchor="middle" fill="#4d4d4f" stroke="#4d4d4f" stroke-width="0.22" >Vadistanbul</text>
<text transform="translate(1168.3 604.6) scale(0.825 1)" font-size="12.2" text-anchor="start" fill="#4d4d4f" stroke="#4d4d4f" stroke-width="0.22" >4.Levent</text>
<text transform="translate(1122.6 645.3) scale(0.825 1)" font-size="12.2" text-anchor="end" fill="#4d4d4f" stroke="#4d4d4f" stroke-width="0.22" >Levent</text>
<text transform="translate(1163.0 657.8) scale(0.825 1)" font-size="12.2" text-anchor="middle" fill="#4d4d4f" stroke="#4d4d4f" stroke-width="0.22" >Nispetiye</text>
<text transform="translate(1188.2 633.4) scale(0.825 1)" font-size="12.2" text-anchor="middle" fill="#4d4d4f" stroke="#4d4d4f" stroke-width="0.22" >Etiler</text>
<text transform="translate(1197.0 658.3) scale(0.825 1)" font-size="12.2" text-anchor="start" fill="#4d4d4f" stroke="#4d4d4f" stroke-width="0.22" >Boğaziçi Ü.</text>
<text transform="translate(1197.0 670.3) scale(0.825 1)" font-size="12.2" text-anchor="start" fill="#4d4d4f" stroke="#4d4d4f" stroke-width="0.22" >Hisarüstü</text>
<text transform="translate(1272.5 644.5) scale(0.825 1)" font-size="12.2" text-anchor="start" fill="#4d4d4f" stroke="#4d4d4f" stroke-width="0.22" >Aşiyan</text>
<text transform="translate(1053.5 673.9) scale(0.825 1)" font-size="12.2" text-anchor="middle" fill="#4d4d4f" stroke="#4d4d4f" stroke-width="0.22" >Kağıthane</text>
<text transform="translate(1043.5 716.7) scale(0.825 1)" font-size="12.2" text-anchor="middle" fill="#4d4d4f" stroke="#4d4d4f" stroke-width="0.22" >Kağıthane</text>
<text transform="translate(996.7 690.8) scale(0.825 1)" font-size="12.2" text-anchor="middle" fill="#4d4d4f" stroke="#4d4d4f" stroke-width="0.22" >Nurtepe</text>
<text transform="translate(1139.2 686.8) scale(0.825 1)" font-size="12.2" text-anchor="start" fill="#4d4d4f" stroke="#4d4d4f" stroke-width="0.22" >Gayrettepe</text>
<text transform="translate(1145.2 714.8) scale(0.825 1)" font-size="10.0" text-anchor="start" fill="#3d4756" stroke="#3d4756" stroke-width="0.22" >Zincirlikuyu</text>
<text transform="translate(1129.2 716.7) scale(0.825 1)" font-size="10.0" text-anchor="end" fill="#3d4756" stroke="#3d4756" stroke-width="0.22" >Mecidiyeköy</text>
<text transform="translate(1140.2 731.7) scale(0.825 1)" font-size="12.2" text-anchor="start" fill="#4d4d4f" stroke="#4d4d4f" stroke-width="0.22" >Şişli</text>
<text transform="translate(1140.2 744.7) scale(0.825 1)" font-size="12.2" text-anchor="start" fill="#4d4d4f" stroke="#4d4d4f" stroke-width="0.22" >Mecidiyeköy</text>
<text transform="translate(1073.0 735.7) scale(0.825 1)" font-size="12.2" text-anchor="end" fill="#4d4d4f" stroke="#4d4d4f" stroke-width="0.22" >Çağlayan</text>
<text transform="translate(1086.4 747.6) scale(0.825 1)" font-size="10.0" text-anchor="end" fill="#3d4756" stroke="#3d4756" stroke-width="0.22" >Çağlayan</text>
<text transform="translate(1156.1 762.0) scale(0.825 1)" font-size="12.2" text-anchor="start" fill="#4d4d4f" stroke="#4d4d4f" stroke-width="0.22" >Fulya</text>
<text transform="translate(1177.5 781.1) scale(0.825 1)" font-size="12.2" text-anchor="start" fill="#4d4d4f" stroke="#4d4d4f" stroke-width="0.22" >Yıldız</text>
<text transform="translate(1125.2 788.5) scale(0.825 1)" font-size="12.2" text-anchor="end" fill="#4d4d4f" stroke="#4d4d4f" stroke-width="0.22" >Osmanbey</text>
<text transform="translate(1076.4 764.6) scale(0.825 1)" font-size="10.0" text-anchor="end" fill="#3d4756" stroke="#3d4756" stroke-width="0.22" >Okmeydanı</text>
<text transform="translate(1076.4 774.0) scale(0.825 1)" font-size="10.0" text-anchor="end" fill="#3d4756" stroke="#3d4756" stroke-width="0.22" >Hastane</text>
<text transform="translate(1076.4 795.1) scale(0.825 1)" font-size="10.0" text-anchor="end" fill="#3d4756" stroke="#3d4756" stroke-width="0.22" >Darülaceze</text>
<text transform="translate(1076.4 804.5) scale(0.825 1)" font-size="10.0" text-anchor="end" fill="#3d4756" stroke="#3d4756" stroke-width="0.22" >PERPA</text>
<text transform="translate(1063.1 822.8) scale(0.825 1)" font-size="10.0" text-anchor="end" fill="#3d4756" stroke="#3d4756" stroke-width="0.22" >Okmeydanı</text>
<text transform="translate(1044.9 861.9) scale(0.825 1)" font-size="10.0" text-anchor="start" fill="#3d4756" stroke="#3d4756" stroke-width="0.22" >Halıcıoğlu</text>
<text transform="translate(1166.1 803.1) scale(0.825 1)" font-size="10.0" text-anchor="middle" fill="#414143" stroke="#414143" stroke-width="0.22" >Maçka</text>
<text transform="translate(1143.6 823.4) scale(0.825 1)" font-size="10.0" text-anchor="middle" fill="#414143" stroke="#414143" stroke-width="0.22" >Taşkışla</text>
<text transform="translate(1198.4 802.9) scale(0.825 1)" font-size="12.2" text-anchor="start" fill="#909295" stroke="#909295" stroke-width="0.22" >Beşiktaş</text>
<text transform="translate(1113.3 844.3) scale(0.825 1)" font-size="13.0" text-anchor="end" fill="#4d4d4f" stroke="#4d4d4f" stroke-width="0.22" >Taksim</text>
<text transform="translate(1207.6 844.3) scale(0.825 1)" font-size="13.0" text-anchor="start" fill="#4d4d4f" stroke="#4d4d4f" stroke-width="0.22" >Kabataş</text>
<text transform="translate(1197.6 869.8) scale(0.825 1)" font-size="10.0" text-anchor="start" fill="#414143" stroke="#414143" stroke-width="0.22" >Fındıklı-MSÜ</text>
<text transform="translate(1197.6 896.1) scale(0.825 1)" font-size="10.0" text-anchor="start" fill="#414143" stroke="#414143" stroke-width="0.22" >Tophane</text>
<text transform="translate(1199.6 913.1) scale(0.825 1)" font-size="10.0" text-anchor="start" fill="#414143" stroke="#414143" stroke-width="0.22" >Karaköy</text>
<text transform="translate(1199.6 923.5) scale(0.825 1)" font-size="10.0" text-anchor="start" fill="#414143" stroke="#414143" stroke-width="0.22" >(Galata Tower)</text>
<text transform="translate(1115.3 903.1) scale(0.825 1)" font-size="12.2" text-anchor="end" fill="#4d4d4f" stroke="#4d4d4f" stroke-width="0.22" >Beyoğlu</text>
<text transform="translate(1123.7 917.5) scale(0.825 1)" font-size="13.0" text-anchor="end" fill="#4d4d4f" stroke="#4d4d4f" stroke-width="0.22" >Şişhane</text>
<text transform="translate(1124.3 927.6) scale(0.825 1)" font-size="7.6" text-anchor="end" fill="#46648a" stroke="#46648a" stroke-width="0.22" >Tech İstanbul</text>
<text transform="translate(1138.6 931.0) scale(0.825 1)" font-size="12.2" text-anchor="start" fill="#4d4d4f" stroke="#4d4d4f" stroke-width="0.22" >Beyoğlu</text>
<text transform="translate(975.7 833.4) scale(0.825 1)" font-size="10.0" text-anchor="start" fill="#414143" stroke="#414143" stroke-width="0.22" >Eyüpsultan</text>
<text transform="translate(975.7 843.3) scale(0.825 1)" font-size="10.0" text-anchor="start" fill="#414143" stroke="#414143" stroke-width="0.22" >Teleferik</text>
<text transform="translate(993.7 861.3) scale(0.825 1)" font-size="10.0" text-anchor="start" fill="#414143" stroke="#414143" stroke-width="0.22" >Feshane</text>
<text transform="translate(1024.6 889.6) scale(0.825 1)" font-size="10.0" text-anchor="start" fill="#414143" stroke="#414143" stroke-width="0.22" >Ayvansaray</text>
<text transform="translate(1048.5 912.1) scale(0.825 1)" font-size="10.0" text-anchor="start" fill="#414143" stroke="#414143" stroke-width="0.22" >Balat</text>
<text transform="translate(946.2 875.2) scale(0.825 1)" font-size="10.0" text-anchor="start" fill="#909295" stroke="#909295" stroke-width="0.22" >Eyüpsultan</text>
<text transform="translate(1140.2 949.4) scale(0.825 1)" font-size="12.2" text-anchor="start" fill="#4d4d4f" stroke="#4d4d4f" stroke-width="0.22" >Haliç</text>
<text transform="translate(1083.4 967.8) scale(0.825 1)" font-size="10.0" text-anchor="end" fill="#414143" stroke="#414143" stroke-width="0.22" >Cibali</text>
<text transform="translate(1057.5 943.5) scale(0.825 1)" font-size="10.0" text-anchor="end" fill="#414143" stroke="#414143" stroke-width="0.22" >Fener</text>
<text transform="translate(1125.2 983.7) scale(0.825 1)" font-size="10.0" text-anchor="end" fill="#414143" stroke="#414143" stroke-width="0.22" >Küçükpazar</text>
<text transform="translate(1161.5 984.7) scale(0.825 1)" font-size="10.0" text-anchor="middle" fill="#414143" stroke="#414143" stroke-width="0.22" >Eminönü</text>
<text transform="translate(1198.6 966.8) scale(0.825 1)" font-size="10.0" text-anchor="start" fill="#414143" stroke="#414143" stroke-width="0.22" >Eminönü</text>
<text transform="translate(1198.6 976.7) scale(0.825 1)" font-size="10.0" text-anchor="start" fill="#414143" stroke="#414143" stroke-width="0.22" >(Spice Bazaar)</text>
<text transform="translate(1180.7 998.1) scale(0.825 1)" font-size="12.2" text-anchor="end" fill="#4d4d4f" stroke="#4d4d4f" stroke-width="0.22" >Sirkeci</text>
<text transform="translate(1196.6 1029.6) scale(0.825 1)" font-size="10.0" text-anchor="start" fill="#414143" stroke="#414143" stroke-width="0.22" >Gülhane</text>
<text transform="translate(1215.5 1062.5) scale(0.825 1)" font-size="10.0" text-anchor="start" fill="#909295" stroke="#909295" stroke-width="0.22" >Cankurtaran</text>
<text transform="translate(1201.6 1074.0) scale(0.825 1)" font-size="10.0" text-anchor="middle" fill="#414143" stroke="#414143" stroke-width="0.22" >Sultanahmet</text>
<text transform="translate(1201.6 1084.4) scale(0.825 1)" font-size="10.0" text-anchor="middle" fill="#414143" stroke="#414143" stroke-width="0.22" >(Blue Mosque)</text>
<text transform="translate(1150.2 1043.1) scale(0.825 1)" font-size="10.0" text-anchor="middle" fill="#414143" stroke="#414143" stroke-width="0.22" >Çemberlitaş</text>
<text transform="translate(1150.2 1053.5) scale(0.825 1)" font-size="10.0" text-anchor="middle" fill="#414143" stroke="#414143" stroke-width="0.22" >(Burnt Column)</text>
<text transform="translate(1112.9 1071.8) scale(0.825 1)" font-size="10.0" text-anchor="middle" fill="#414143" stroke="#414143" stroke-width="0.22" >Beyazıt</text>
<text transform="translate(1112.9 1081.3) scale(0.825 1)" font-size="10.0" text-anchor="middle" fill="#414143" stroke="#414143" stroke-width="0.22" >Kapalıçarşı</text>
<text transform="translate(1112.9 1090.8) scale(0.825 1)" font-size="10.0" text-anchor="middle" fill="#414143" stroke="#414143" stroke-width="0.22" >(Grand Bazaar)</text>
<text transform="translate(1095.3 1020.6) scale(0.825 1)" font-size="12.2" text-anchor="middle" fill="#4d4d4f" stroke="#4d4d4f" stroke-width="0.22" >Vezneciler</text>
<text transform="translate(1095.3 1033.0) scale(0.825 1)" font-size="12.2" text-anchor="middle" fill="#4d4d4f" stroke="#4d4d4f" stroke-width="0.22" >İst. Ü.</text>
<text transform="translate(1080.4 1043.1) scale(0.825 1)" font-size="10.0" text-anchor="end" fill="#414143" stroke="#414143" stroke-width="0.22" >Laleli</text>
<text transform="translate(1080.4 1053.9) scale(0.825 1)" font-size="10.0" text-anchor="end" fill="#414143" stroke="#414143" stroke-width="0.22" >İstanbul Ü.</text>
<text transform="translate(1028.6 1074.8) scale(0.825 1)" font-size="10.0" text-anchor="start" fill="#414143" stroke="#414143" stroke-width="0.22" >Aksaray</text>
<text transform="translate(1339.2 684.7) scale(0.825 1)" font-size="10.0" text-anchor="middle" fill="#3d4756" stroke="#3d4756" stroke-width="0.22" >15 Temmuz</text>
<text transform="translate(1339.2 694.3) scale(0.825 1)" font-size="10.0" text-anchor="middle" fill="#3d4756" stroke="#3d4756" stroke-width="0.22" >Şehitler Köprüsü</text>
<text transform="translate(1383.7 769.3) scale(0.825 1)" font-size="10.0" text-anchor="end" fill="#3d4756" stroke="#3d4756" stroke-width="0.22" >Burhaniye</text>
<text transform="translate(1301.1 983.7) scale(0.825 1)" font-size="12.2" text-anchor="end" fill="#4d4d4f" stroke="#4d4d4f" stroke-width="0.22" >Harem</text>
<rect x="1302.7" y="974.6" width="14.0" height="14.0" rx="1.7" fill="#fff" stroke="#1d2c5c" stroke-width="0.77"/>
<g transform="translate(1302.7 974.6) scale(0.972)" fill="#1d2c5c"><path d="M3.4 4.4 Q3.4 2.8 5 2.8 H9.4 Q11 2.8 11 4.4 V10.4 H3.4 Z M4.4 4.4 V7.4 H10 V4.4 Z" fill-rule="evenodd"/><rect x="3.9" y="10.2" width="1.6" height="1.5"/><rect x="8.9" y="10.2" width="1.6" height="1.5"/><circle cx="4.7" cy="8.9" r="0.55" fill="#fff"/><circle cx="9.7" cy="8.9" r="0.55" fill="#fff"/></g>
<text transform="translate(1350.9 1013.6) scale(0.825 1)" font-size="12.2" text-anchor="end" fill="#4d4d4f" stroke="#4d4d4f" stroke-width="0.22" >Ayrılık Çeşmesi</text>
<text transform="translate(1305.6 1055.1) scale(0.825 1)" font-size="12.2" text-anchor="end" fill="#4d4d4f" stroke="#4d4d4f" stroke-width="0.22" >Kadıköy</text>
<text transform="translate(1300.3 1076.0) scale(0.825 1)" font-size="10.0" text-anchor="end" fill="#414143" stroke="#414143" stroke-width="0.22" >İskele</text>
<text transform="translate(1300.3 1086.4) scale(0.825 1)" font-size="10.0" text-anchor="end" fill="#414143" stroke="#414143" stroke-width="0.22" >Camii</text>
<text transform="translate(1343.0 1134.0) scale(0.825 1)" font-size="8.8" text-anchor="start" fill="#36454f" stroke="#36454f" stroke-width="0.22" >Çarşı</text>
<text transform="translate(1343.0 1144.4) scale(0.825 1)" font-size="8.8" text-anchor="start" fill="#36454f" stroke="#36454f" stroke-width="0.22" >Altıyol</text>
<text transform="translate(1343.0 1154.8) scale(0.825 1)" font-size="8.8" text-anchor="start" fill="#36454f" stroke="#36454f" stroke-width="0.22" >Bahariye</text>
<text transform="translate(1343.0 1165.2) scale(0.825 1)" font-size="8.8" text-anchor="start" fill="#36454f" stroke="#36454f" stroke-width="0.22" >Kilise</text>
<text transform="translate(1343.0 1175.6) scale(0.825 1)" font-size="8.8" text-anchor="start" fill="#36454f" stroke="#36454f" stroke-width="0.22" >Moda İlk.</text>
<text transform="translate(1343.0 1186.0) scale(0.825 1)" font-size="8.8" text-anchor="start" fill="#36454f" stroke="#36454f" stroke-width="0.22" >Moda</text>
<text transform="translate(1343.0 1196.4) scale(0.825 1)" font-size="8.8" text-anchor="start" fill="#36454f" stroke="#36454f" stroke-width="0.22" >Rızapaşa</text>
<text transform="translate(1343.0 1206.8) scale(0.825 1)" font-size="8.8" text-anchor="start" fill="#36454f" stroke="#36454f" stroke-width="0.22" >Mühürdar</text>
<text transform="translate(1343.0 1217.2) scale(0.825 1)" font-size="8.8" text-anchor="start" fill="#36454f" stroke="#36454f" stroke-width="0.22" >Damga Sokak</text>
<text transform="translate(1343.0 1227.6) scale(0.825 1)" font-size="8.8" text-anchor="start" fill="#36454f" stroke="#36454f" stroke-width="0.22" >Kadıköy-İDO</text>
<text transform="translate(1456.7 804.6) scale(0.825 1)" font-size="12.2" text-anchor="middle" fill="#4d4d4f" stroke="#4d4d4f" stroke-width="0.22" >Bulgurlu</text>
<text transform="translate(1531.2 803.3) scale(0.825 1)" font-size="12.2" text-anchor="end" fill="#4d4d4f" stroke="#4d4d4f" stroke-width="0.22" >Çarşı</text>
<text transform="translate(1603.5 804.6) scale(0.825 1)" font-size="12.2" text-anchor="middle" fill="#4d4d4f" stroke="#4d4d4f" stroke-width="0.22" >Çakmak</text>
<text transform="translate(1676.0 804.6) scale(0.825 1)" font-size="12.2" text-anchor="middle" fill="#4d4d4f" stroke="#4d4d4f" stroke-width="0.22" >Altınşehir</text>
<text transform="translate(1747.8 804.6) scale(0.825 1)" font-size="12.2" text-anchor="middle" fill="#4d4d4f" stroke="#4d4d4f" stroke-width="0.22" >Dudullu</text>
<text transform="translate(1810.8 806.0) scale(0.825 1)" font-size="12.2" text-anchor="middle" fill="#4d4d4f" stroke="#4d4d4f" stroke-width="0.22" >Çekmeköy</text>
<text transform="translate(1876.7 804.4) scale(0.825 1)" font-size="12.2" text-anchor="middle" fill="#4d4d4f" stroke="#4d4d4f" stroke-width="0.22" >Sarıgazi</text>
<text transform="translate(1417.4 831.2) scale(0.825 1)" font-size="12.2" text-anchor="start" fill="#4d4d4f" stroke="#4d4d4f" stroke-width="0.22" >Kısıklı</text>
<text transform="translate(1497.1 829.9) scale(0.825 1)" font-size="12.2" text-anchor="middle" fill="#4d4d4f" stroke="#4d4d4f" stroke-width="0.22" >Ümraniye</text>
<text transform="translate(1575.0 829.9) scale(0.825 1)" font-size="12.2" text-anchor="middle" fill="#4d4d4f" stroke="#4d4d4f" stroke-width="0.22" >Yamanevler</text>
<text transform="translate(1640.1 830.4) scale(0.825 1)" font-size="12.2" text-anchor="middle" fill="#4d4d4f" stroke="#4d4d4f" stroke-width="0.22" >Ihlamurkuyu</text>
<text transform="translate(1712.7 830.4) scale(0.825 1)" font-size="12.2" text-anchor="middle" fill="#4d4d4f" stroke="#4d4d4f" stroke-width="0.22" >İmam H.</text>
<text transform="translate(1712.7 843.2) scale(0.825 1)" font-size="12.2" text-anchor="middle" fill="#4d4d4f" stroke="#4d4d4f" stroke-width="0.22" >Lisesi</text>
<text transform="translate(1780.2 828.6) scale(0.825 1)" font-size="12.2" text-anchor="middle" fill="#4d4d4f" stroke="#4d4d4f" stroke-width="0.22" >Necip</text>
<text transform="translate(1780.2 841.4) scale(0.825 1)" font-size="12.2" text-anchor="middle" fill="#4d4d4f" stroke="#4d4d4f" stroke-width="0.22" >Fazıl</text>
<text transform="translate(1841.9 828.6) scale(0.825 1)" font-size="12.2" text-anchor="middle" fill="#4d4d4f" stroke="#4d4d4f" stroke-width="0.22" >Meclis</text>
<text transform="translate(1379.1 838.4) scale(0.825 1)" font-size="12.2" text-anchor="end" fill="#4d4d4f" stroke="#4d4d4f" stroke-width="0.22" >Altunizade</text>
<text transform="translate(1396.9 863.1) scale(0.825 1)" font-size="10.0" text-anchor="start" fill="#3d4756" stroke="#3d4756" stroke-width="0.22" >Altunizade</text>
<text transform="translate(1356.3 867.6) scale(0.825 1)" font-size="12.2" text-anchor="end" fill="#4d4d4f" stroke="#4d4d4f" stroke-width="0.22" >Bağlarbaşı</text>
<text transform="translate(1330.5 892.4) scale(0.825 1)" font-size="12.2" text-anchor="end" fill="#4d4d4f" stroke="#4d4d4f" stroke-width="0.22" >Fıstıkağacı</text>
<text transform="translate(1309.2 925.0) scale(0.825 1)" font-size="12.2" text-anchor="end" fill="#4d4d4f" stroke="#4d4d4f" stroke-width="0.22" >Üsküdar</text>
<text transform="translate(1434.2 943.8) scale(0.825 1)" font-size="10.0" text-anchor="end" fill="#3d4756" stroke="#3d4756" stroke-width="0.22" >Acıbadem</text>
<text transform="translate(1467.4 667.8) scale(0.825 1)" font-size="12.2" text-anchor="middle" fill="#909295" stroke="#909295" stroke-width="0.22" >Bosna</text>
<text transform="translate(1467.4 680.6) scale(0.825 1)" font-size="12.2" text-anchor="middle" fill="#909295" stroke="#909295" stroke-width="0.22" >Bulvarı</text>
<text transform="translate(1434.2 718.8) scale(0.825 1)" font-size="12.2" text-anchor="start" fill="#909295" stroke="#909295" stroke-width="0.22" >Çamlıca</text>
<text transform="translate(1434.2 731.6) scale(0.825 1)" font-size="12.2" text-anchor="start" fill="#909295" stroke="#909295" stroke-width="0.22" >Camii</text>
<text transform="translate(1431.5 763.5) scale(0.825 1)" font-size="12.2" text-anchor="start" fill="#909295" stroke="#909295" stroke-width="0.22" >Ferah</text>
<text transform="translate(1431.5 776.3) scale(0.825 1)" font-size="12.2" text-anchor="start" fill="#909295" stroke="#909295" stroke-width="0.22" >Mahallesi</text>
<text transform="translate(1548.4 733.7) scale(0.825 1)" font-size="11.6" text-anchor="start" fill="#909295" stroke="#909295" stroke-width="0.22" >Kazım Karabekir</text>
<text transform="translate(1547.1 770.6) scale(0.825 1)" font-size="11.4" text-anchor="start" fill="#909295" stroke="#909295" stroke-width="0.22" >SBÜ Hastanesi</text>
<text transform="translate(1529.8 848.5) scale(0.825 1)" font-size="12.2" text-anchor="end" fill="#909295" stroke="#909295" stroke-width="0.22" >Atakent</text>
<text transform="translate(1529.8 897.7) scale(0.825 1)" font-size="12.2" text-anchor="end" fill="#909295" stroke="#909295" stroke-width="0.22" >Site</text>
<text transform="translate(1529.8 941.0) scale(0.825 1)" font-size="12.2" text-anchor="end" fill="#909295" stroke="#909295" stroke-width="0.22" >Finans</text>
<text transform="translate(1529.8 954.0) scale(0.825 1)" font-size="12.2" text-anchor="end" fill="#909295" stroke="#909295" stroke-width="0.22" >Merkezi</text>
<text transform="translate(1529.8 996.1) scale(0.825 1)" font-size="12.2" text-anchor="end" fill="#909295" stroke="#909295" stroke-width="0.22" >Ataşehir</text>
<text transform="translate(1806.8 756.8) scale(0.825 1)" font-size="12.2" text-anchor="end" fill="#4d4d4f" stroke="#4d4d4f" stroke-width="0.22" >Parseller</text>
<text transform="translate(1787.1 778.9) scale(0.825 1)" font-size="12.2" text-anchor="end" fill="#4d4d4f" stroke="#4d4d4f" stroke-width="0.22" >Huzur</text>
<text transform="translate(1729.7 863.1) scale(0.825 1)" font-size="12.2" text-anchor="start" fill="#4d4d4f" stroke="#4d4d4f" stroke-width="0.22" >MODOKO</text>
<text transform="translate(1729.7 875.9) scale(0.825 1)" font-size="12.2" text-anchor="start" fill="#4d4d4f" stroke="#4d4d4f" stroke-width="0.22" >KEYAP</text>
<text transform="translate(1695.4 899.0) scale(0.825 1)" font-size="12.2" text-anchor="start" fill="#4d4d4f" stroke="#4d4d4f" stroke-width="0.22" >İMES</text>
<text transform="translate(1665.4 926.9) scale(0.825 1)" font-size="12.2" text-anchor="start" fill="#4d4d4f" stroke="#4d4d4f" stroke-width="0.22" >Mevlana</text>
<text transform="translate(1632.7 960.1) scale(0.825 1)" font-size="12.2" text-anchor="start" fill="#4d4d4f" stroke="#4d4d4f" stroke-width="0.22" >Kayışdağı</text>
<text transform="translate(1610.4 985.8) scale(0.825 1)" font-size="12.2" text-anchor="start" fill="#4d4d4f" stroke="#4d4d4f" stroke-width="0.22" >İçerenköy</text>
<text transform="translate(1610.4 1015.6) scale(0.825 1)" font-size="12.2" text-anchor="start" fill="#4d4d4f" stroke="#4d4d4f" stroke-width="0.22" >K.Bakkalköy</text>
<text transform="translate(1610.4 1098.0) scale(0.825 1)" font-size="12.2" text-anchor="start" fill="#4d4d4f" stroke="#4d4d4f" stroke-width="0.22" >Ayşekadın</text>
<text transform="translate(1612.2 1123.3) scale(0.825 1)" font-size="12.2" text-anchor="start" fill="#4d4d4f" stroke="#4d4d4f" stroke-width="0.22" >Emin Ali Paşa</text>
<text transform="translate(1834.2 865.3) scale(0.825 1)" font-size="12.2" text-anchor="end" fill="#909295" stroke="#909295" stroke-width="0.22" >Emek</text>
<text transform="translate(1985.3 741.4) scale(0.825 1)" font-size="12.2" text-anchor="end" fill="#909295" stroke="#909295" stroke-width="0.22" >Soğukpınar</text>
<text transform="translate(2008.2 752.8) scale(0.825 1)" font-size="12.2" text-anchor="start" fill="#909295" stroke="#909295" stroke-width="0.22" >Yenidoğan</text>
<text transform="translate(1931.5 763.3) scale(0.825 1)" font-size="12.2" text-anchor="end" fill="#909295" stroke="#909295" stroke-width="0.22" >Cumhuriyet</text>
<text transform="translate(1909.2 786.0) scale(0.825 1)" font-size="12.2" text-anchor="end" fill="#909295" stroke="#909295" stroke-width="0.22" >Aydınlar</text>
<text transform="translate(1958.8 803.6) scale(0.825 1)" font-size="12.2" text-anchor="middle" fill="#4d4d4f" stroke="#4d4d4f" stroke-width="0.22" >Sancaktepe</text>
<text transform="translate(1915.0 844.5) scale(0.825 1)" font-size="12.2" text-anchor="middle" fill="#909295" stroke="#909295" stroke-width="0.22" >Sancaktepe</text>
<text transform="translate(1915.0 857.1) scale(0.825 1)" font-size="12.2" text-anchor="middle" fill="#909295" stroke="#909295" stroke-width="0.22" >Şehir Hast.</text>
<text transform="translate(2002.3 829.1) scale(0.825 1)" font-size="12.2" text-anchor="middle" fill="#4d4d4f" stroke="#4d4d4f" stroke-width="0.22" >Samandıra</text>
<text transform="translate(2002.3 841.9) scale(0.825 1)" font-size="12.2" text-anchor="middle" fill="#4d4d4f" stroke="#4d4d4f" stroke-width="0.22" >Merkez</text>
<text transform="translate(2045.7 792.2) scale(0.825 1)" font-size="12.2" text-anchor="middle" fill="#909295" stroke="#909295" stroke-width="0.22" >Veysel</text>
<text transform="translate(2045.7 804.2) scale(0.825 1)" font-size="12.2" text-anchor="middle" fill="#909295" stroke="#909295" stroke-width="0.22" >Karani</text>
<text transform="translate(2089.4 829.1) scale(0.825 1)" font-size="12.2" text-anchor="middle" fill="#909295" stroke="#909295" stroke-width="0.22" >Hasanpaşa</text>
<text transform="translate(2127.4 802.6) scale(0.825 1)" font-size="12.2" text-anchor="middle" fill="#909295" stroke="#909295" stroke-width="0.22" >Sultanbeyli</text>
<path d="M1915.5 806 L1923.6 820 H1907.4 Z" fill="#f7d117" stroke="#222" stroke-width="1.1" stroke-linejoin="round"/>
<circle cx="1913.8" cy="812.8" r="0.9" fill="#222"/><path d="M1913.8 813.8 V817.2 M1913.8 817 L1912.6 819 M1913.8 817 L1915 819 M1915 816.6 H1919.2" stroke="#222" stroke-width="0.8" fill="none"/>
<circle cx="1915.5" cy="829.1" r="5.9" fill="#fff" stroke="#e0202a" stroke-width="1.4"/><rect x="1911.2" y="828.2" width="8.6" height="1.8" fill="#e0202a"/>
<text transform="translate(1422.2 997.0) scale(0.825 1)" font-size="12.2" text-anchor="end" fill="#4d4d4f" stroke="#4d4d4f" stroke-width="0.22" >Acıbadem</text>
<text transform="translate(1424.9 997.0) scale(0.825 1)" font-size="12.2" text-anchor="start" fill="#4d4d4f" stroke="#4d4d4f" stroke-width="0.22" >Ünalan</text>
<text transform="translate(1434.2 1025.4) scale(0.825 1)" font-size="10.0" text-anchor="end" fill="#3d4756" stroke="#3d4756" stroke-width="0.22" >Uzunçayır</text>
<text transform="translate(1393.0 1046.2) scale(0.825 1)" font-size="10.0" text-anchor="middle" fill="#3d4756" stroke="#3d4756" stroke-width="0.22" >Fikirtepe</text>
<rect x="1378.3" y="1052.4" width="14.4" height="14.4" rx="1.7" fill="#fff" stroke="#1d2c5c" stroke-width="0.79"/>
<g transform="translate(1378.3 1052.4) scale(1.000)" fill="#1d2c5c"><path d="M4.2 3.6 Q4.2 3 5 3 H9.4 Q10.2 3 10.2 3.6 V10.2 H4.2 Z M5 4.2 V7.2 H9.4 V4.2 Z" fill-rule="evenodd"/><rect x="4.6" y="10" width="1.3" height="1.5"/><rect x="8.5" y="10" width="1.3" height="1.5"/><rect x="2.4" y="3" width="0.6" height="8.5"/><rect x="11.4" y="3" width="0.6" height="8.5"/></g>
<text transform="translate(1393.0 1099.9) scale(0.825 1)" font-size="12.2" text-anchor="start" fill="#4d4d4f" stroke="#4d4d4f" stroke-width="0.22" >Söğütlüçeşme</text>
<rect x="1365.0" y="1090.0" width="13.9" height="13.9" rx="1.7" fill="#fff" stroke="#1d2c5c" stroke-width="0.76"/>
<g transform="translate(1365.0 1090.0) scale(0.965)" fill="#1d2c5c"><path d="M12.8 5.9 H7.4 Q4.4 6 1.7 9 Q1.3 10.5 2.8 10.5 H12.8 Z"/><path d="M3.7 8.3 L5.7 6.9 H9.6 V8.3 Z" fill="#fff"/><rect x="1.5" y="11.2" width="11.3" height="0.8"/><path d="M4.8 4.1 H8.8 M6.8 4.1 V5.9 M5.6 4.9 H8" stroke="#1d2c5c" stroke-width="0.6" fill="none"/></g>
<text transform="translate(1446.6 1118.5) scale(0.825 1)" font-size="12.2" text-anchor="middle" fill="#4d4d4f" stroke="#4d4d4f" stroke-width="0.22" >Feneryolu</text>
<text transform="translate(1484.6 1027.0) scale(0.825 1)" font-size="12.2" text-anchor="start" fill="#4d4d4f" stroke="#4d4d4f" stroke-width="0.22" >Göztepe</text>
<text transform="translate(1532.5 1062.9) scale(0.825 1)" font-size="12.2" text-anchor="end" fill="#4d4d4f" stroke="#4d4d4f" stroke-width="0.22" >Yenisahra</text>
<text transform="translate(1595.0 1024.1) scale(0.825 1)" font-size="12.2" text-anchor="end" fill="#4d4d4f" stroke="#4d4d4f" stroke-width="0.22" >Pegasus</text>
<text transform="translate(1595.0 1036.1) scale(0.825 1)" font-size="12.2" text-anchor="end" fill="#4d4d4f" stroke="#4d4d4f" stroke-width="0.22" >Kozyatağı</text>
<line x1="1552.5" y1="1039.5" x2="1595" y2="1039.5" stroke="#e5127d" stroke-width="0.7"/>
<line x1="1590" y1="1039.5" x2="1597" y2="1046.5" stroke="#e5127d" stroke-width="0.7"/>
<line x1="1609.6" y1="1063.5" x2="1653.5" y2="1063.5" stroke="#3b79c7" stroke-width="0.7"/>
<text transform="translate(1609.6 1073.6) scale(0.825 1)" font-size="12.2" text-anchor="start" fill="#4d4d4f" stroke="#4d4d4f" stroke-width="0.22" >Kozyatağı</text>
<text transform="translate(1637.5 1039.0) scale(0.825 1)" font-size="12.2" text-anchor="middle" fill="#4d4d4f" stroke="#4d4d4f" stroke-width="0.22" >Bostancı</text>
<text transform="translate(1726.0 1039.0) scale(0.825 1)" font-size="12.2" text-anchor="middle" fill="#4d4d4f" stroke="#4d4d4f" stroke-width="0.22" >Maltepe</text>
<text transform="translate(1814.7 1039.0) scale(0.825 1)" font-size="12.2" text-anchor="middle" fill="#4d4d4f" stroke="#4d4d4f" stroke-width="0.22" >Gülsuyu</text>
<text transform="translate(1901.9 1025.7) scale(0.825 1)" font-size="12.2" text-anchor="middle" fill="#4d4d4f" stroke="#4d4d4f" stroke-width="0.22" >Hastane</text>
<text transform="translate(1901.9 1038.3) scale(0.825 1)" font-size="12.2" text-anchor="middle" fill="#4d4d4f" stroke="#4d4d4f" stroke-width="0.22" >Adliye</text>
<text transform="translate(1681.9 1063.5) scale(0.825 1)" font-size="12.2" text-anchor="middle" fill="#4d4d4f" stroke="#4d4d4f" stroke-width="0.22" >Küçükyalı</text>
<text transform="translate(1769.8 1063.5) scale(0.825 1)" font-size="12.2" text-anchor="middle" fill="#4d4d4f" stroke="#4d4d4f" stroke-width="0.22" >Huzurevi</text>
<text transform="translate(1858.1 1063.5) scale(0.825 1)" font-size="12.2" text-anchor="middle" fill="#4d4d4f" stroke="#4d4d4f" stroke-width="0.22" >Esenkent</text>
<rect x="1642.0" y="1129.1" width="14.4" height="14.4" rx="1.7" fill="#fff" stroke="#1d2c5c" stroke-width="0.79"/>
<g transform="translate(1642.0 1129.1) scale(1.000)" fill="#1d2c5c"><path d="M12.8 5.9 H7.4 Q4.4 6 1.7 9 Q1.3 10.5 2.8 10.5 H12.8 Z"/><path d="M3.7 8.3 L5.7 6.9 H9.6 V8.3 Z" fill="#fff"/><rect x="1.5" y="11.2" width="11.3" height="0.8"/><path d="M4.8 4.1 H8.8 M6.8 4.1 V5.9 M5.6 4.9 H8" stroke="#1d2c5c" stroke-width="0.6" fill="none"/></g>
<text transform="translate(1650.2 1175.6) scale(0.825 1)" font-size="12.2" text-anchor="middle" fill="#4d4d4f" stroke="#4d4d4f" stroke-width="0.22" >Bostancı</text>
<text transform="translate(1543.9 1165.0) scale(0.825 1)" font-size="12.2" text-anchor="middle" fill="#4d4d4f" stroke="#4d4d4f" stroke-width="0.22" >Erenköy</text>
<text transform="translate(1595.0 1165.0) scale(0.825 1)" font-size="12.2" text-anchor="middle" fill="#4d4d4f" stroke="#4d4d4f" stroke-width="0.22" >Suadiye</text>
<text transform="translate(1692.8 1164.5) scale(0.825 1)" font-size="12.2" text-anchor="middle" fill="#4d4d4f" stroke="#4d4d4f" stroke-width="0.22" >Küçükyalı</text>
<text transform="translate(1735.8 1142.4) scale(0.825 1)" font-size="12.2" text-anchor="middle" fill="#4d4d4f" stroke="#4d4d4f" stroke-width="0.22" >İdealtepe</text>
<text transform="translate(1779.1 1165.0) scale(0.825 1)" font-size="12.2" text-anchor="middle" fill="#4d4d4f" stroke="#4d4d4f" stroke-width="0.22" >Süreyya</text>
<text transform="translate(1779.1 1177.8) scale(0.825 1)" font-size="12.2" text-anchor="middle" fill="#4d4d4f" stroke="#4d4d4f" stroke-width="0.22" >Plajı</text>
<text transform="translate(1823.0 1142.4) scale(0.825 1)" font-size="12.2" text-anchor="middle" fill="#4d4d4f" stroke="#4d4d4f" stroke-width="0.22" >Maltepe</text>
<text transform="translate(1866.8 1164.5) scale(0.825 1)" font-size="12.2" text-anchor="middle" fill="#4d4d4f" stroke="#4d4d4f" stroke-width="0.22" >Cevizli</text>
<text transform="translate(1497.9 1140.5) scale(0.825 1)" font-size="12.2" text-anchor="end" fill="#4d4d4f" stroke="#4d4d4f" stroke-width="0.22" >Göztepe</text>
<text transform="translate(1528.5 1090.0) scale(0.825 1)" font-size="12.2" text-anchor="end" fill="#909295" stroke="#909295" stroke-width="0.22" >Sahrayıcedit</text>
<text transform="translate(1515.7 1116.1) scale(0.825 1)" font-size="12.2" text-anchor="start" fill="#909295" stroke="#909295" stroke-width="0.22" >Tütüncü</text>
<text transform="translate(1515.7 1128.7) scale(0.825 1)" font-size="12.2" text-anchor="start" fill="#909295" stroke="#909295" stroke-width="0.22" >Mehmet Efendi</text>
<text transform="translate(1474.0 1172.4) scale(0.825 1)" font-size="12.2" text-anchor="middle" fill="#909295" stroke="#909295" stroke-width="0.22" >60. Yıl</text>
<text transform="translate(1474.0 1185.6) scale(0.825 1)" font-size="12.2" text-anchor="middle" fill="#909295" stroke="#909295" stroke-width="0.22" >Parkı</text>
<text transform="translate(1990.4 1038.1) scale(0.825 1)" font-size="12.2" text-anchor="middle" fill="#4d4d4f" stroke="#4d4d4f" stroke-width="0.22" >Kartal</text>
<text transform="translate(1946.5 1063.4) scale(0.825 1)" font-size="12.2" text-anchor="middle" fill="#4d4d4f" stroke="#4d4d4f" stroke-width="0.22" >Soğanlık</text>
<text transform="translate(2034.2 1063.4) scale(0.825 1)" font-size="12.2" text-anchor="middle" fill="#4d4d4f" stroke="#4d4d4f" stroke-width="0.22" >Yakacık</text>
<text transform="translate(2034.2 1076.2) scale(0.825 1)" font-size="12.2" text-anchor="middle" fill="#4d4d4f" stroke="#4d4d4f" stroke-width="0.22" >Adnan Kahveci</text>
<text transform="translate(2076.2 1046.1) scale(0.825 1)" font-size="12.2" text-anchor="start" fill="#4d4d4f" stroke="#4d4d4f" stroke-width="0.22" >Pendik</text>
<text transform="translate(2103.3 1069.5) scale(0.825 1)" font-size="12.2" text-anchor="start" fill="#4d4d4f" stroke="#4d4d4f" stroke-width="0.22" >Tavşantepe</text>
<text transform="translate(2189.2 1067.4) scale(0.825 1)" font-size="12.2" text-anchor="start" fill="#4d4d4f" stroke="#4d4d4f" stroke-width="0.22" >Fevzi Çakmak-Hastane</text>
<text transform="translate(2211.5 1046.9) scale(0.825 1)" font-size="12.2" text-anchor="start" fill="#4d4d4f" stroke="#4d4d4f" stroke-width="0.22" >Yayalar-Şeyhli</text>
<text transform="translate(2238.1 1019.0) scale(0.825 1)" font-size="12.2" text-anchor="start" fill="#4d4d4f" stroke="#4d4d4f" stroke-width="0.22" >Kurtköy</text>
<text transform="translate(2250.3 959.2) scale(0.825 1)" font-size="12.2" text-anchor="start" fill="#4d4d4f" stroke="#4d4d4f" stroke-width="0.22" >Sabiha Gökçen</text>
<text transform="translate(2250.3 971.8) scale(0.825 1)" font-size="12.2" text-anchor="start" fill="#4d4d4f" stroke="#4d4d4f" stroke-width="0.22" >Havalimanı</text>
<text transform="translate(2250.3 984.4) scale(0.825 1)" font-size="12.2" text-anchor="start" fill="#4d4d4f" stroke="#4d4d4f" stroke-width="0.22" >(Airport)</text>
<rect x="2292.0" y="976.5" width="14.0" height="14.0" rx="1.7" fill="#fff" stroke="#1d2c5c" stroke-width="0.77"/>
<g transform="translate(2292.0 976.5) scale(0.972)" fill="#1d2c5c"><path transform="translate(7.2 7.2) rotate(45) scale(0.95)" d="M0 -5.2 Q0.9 -4.4 0.9 -3 V-1.2 L5.2 1.6 V2.8 L0.9 1.3 V3.6 L2.2 4.6 V5.4 L0 4.8 L-2.2 5.4 V4.6 L-0.9 3.6 V1.3 L-5.2 2.8 V1.6 L-0.9 -1.2 V-3 Q-0.9 -4.4 0 -5.2 Z"/></g>
<text transform="translate(2195.0 1086.5) scale(0.825 1)" font-size="12.2" text-anchor="middle" fill="#909295" stroke="#909295" stroke-width="0.22" >Çamçeşme</text>
<text transform="translate(2250.3 1087.3) scale(0.825 1)" font-size="12.2" text-anchor="middle" fill="#909295" stroke="#909295" stroke-width="0.22" >Kavakpınar</text>
<text transform="translate(2255.6 1105.9) scale(0.825 1)" font-size="12.2" text-anchor="start" fill="#909295" stroke="#909295" stroke-width="0.22" >Esenyalı</text>
<text transform="translate(2145.8 1111.2) scale(0.825 1)" font-size="12.2" text-anchor="start" fill="#909295" stroke="#909295" stroke-width="0.22" >Kaynarca</text>
<text transform="translate(2145.8 1124.0) scale(0.825 1)" font-size="12.2" text-anchor="start" fill="#909295" stroke="#909295" stroke-width="0.22" >Merkez</text>
<text transform="translate(2091.4 1129.8) scale(0.825 1)" font-size="12.2" text-anchor="end" fill="#909295" stroke="#909295" stroke-width="0.22" >Pendik</text>
<text transform="translate(2091.4 1140.6) scale(0.825 1)" font-size="12.2" text-anchor="end" fill="#909295" stroke="#909295" stroke-width="0.22" >Merkez</text>
<text transform="translate(2265.4 1139.9) scale(0.825 1)" font-size="12.2" text-anchor="middle" fill="#909295" stroke="#909295" stroke-width="0.22" >Aydıntepe</text>
<text transform="translate(1912.0 1141.8) scale(0.825 1)" font-size="12.2" text-anchor="middle" fill="#4d4d4f" stroke="#4d4d4f" stroke-width="0.22" >Atalar</text>
<text transform="translate(1995.1 1141.8) scale(0.825 1)" font-size="12.2" text-anchor="middle" fill="#4d4d4f" stroke="#4d4d4f" stroke-width="0.22" >Kartal</text>
<text transform="translate(2118.7 1141.8) scale(0.825 1)" font-size="12.2" text-anchor="start" fill="#4d4d4f" stroke="#4d4d4f" stroke-width="0.22" >Kaynarca</text>
<text transform="translate(1953.2 1164.4) scale(0.825 1)" font-size="12.2" text-anchor="middle" fill="#4d4d4f" stroke="#4d4d4f" stroke-width="0.22" >Başak</text>
<text transform="translate(2048.3 1164.4) scale(0.825 1)" font-size="12.2" text-anchor="middle" fill="#4d4d4f" stroke="#4d4d4f" stroke-width="0.22" >Yunus</text>
<text transform="translate(2099.9 1163.9) scale(0.825 1)" font-size="12.2" text-anchor="middle" fill="#4d4d4f" stroke="#4d4d4f" stroke-width="0.22" >Pendik</text>
<text transform="translate(2185.7 1164.9) scale(0.825 1)" font-size="12.2" text-anchor="middle" fill="#4d4d4f" stroke="#4d4d4f" stroke-width="0.22" >Tersane</text>
<text transform="translate(2232.2 1164.9) scale(0.825 1)" font-size="12.2" text-anchor="middle" fill="#4d4d4f" stroke="#4d4d4f" stroke-width="0.22" >Güzelyalı</text>
<text transform="translate(2284.0 1164.9) scale(0.825 1)" font-size="12.2" text-anchor="middle" fill="#4d4d4f" stroke="#4d4d4f" stroke-width="0.22" >Aydıntepe</text>
<text transform="translate(2319.4 1139.1) scale(0.825 1)" font-size="12.2" text-anchor="start" fill="#4d4d4f" stroke="#4d4d4f" stroke-width="0.22" >İçmeler</text>
<text transform="translate(2342.0 1115.2) scale(0.825 1)" font-size="12.2" text-anchor="start" fill="#4d4d4f" stroke="#4d4d4f" stroke-width="0.22" >Tuzla</text>
<text transform="translate(2369.1 1086.0) scale(0.825 1)" font-size="12.2" text-anchor="start" fill="#4d4d4f" stroke="#4d4d4f" stroke-width="0.22" >Çayırova</text>
<text transform="translate(2397.5 1058.6) scale(0.825 1)" font-size="12.2" text-anchor="start" fill="#4d4d4f" stroke="#4d4d4f" stroke-width="0.22" >Gebze Teknik Ü.-Fatih</text>
<text transform="translate(2424.1 1031.5) scale(0.825 1)" font-size="12.2" text-anchor="start" fill="#4d4d4f" stroke="#4d4d4f" stroke-width="0.22" >Osmangazi</text>
<text transform="translate(2452.3 1004.4) scale(0.825 1)" font-size="12.2" text-anchor="start" fill="#4d4d4f" stroke="#4d4d4f" stroke-width="0.22" >Darıca</text>
<text transform="translate(2485.2 969.0) scale(0.825 1)" font-size="12.2" text-anchor="start" fill="#4d4d4f" stroke="#4d4d4f" stroke-width="0.22" >Gebze</text>
<rect x="2477.6" y="944.6" width="14.3" height="14.3" rx="1.7" fill="#fff" stroke="#1d2c5c" stroke-width="0.79"/>
<g transform="translate(2477.6 944.6) scale(0.993)" fill="#1d2c5c"><path d="M12.8 5.9 H7.4 Q4.4 6 1.7 9 Q1.3 10.5 2.8 10.5 H12.8 Z"/><path d="M3.7 8.3 L5.7 6.9 H9.6 V8.3 Z" fill="#fff"/><rect x="1.5" y="11.2" width="11.3" height="0.8"/><path d="M4.8 4.1 H8.8 M6.8 4.1 V5.9 M5.6 4.9 H8" stroke="#1d2c5c" stroke-width="0.6" fill="none"/></g>
<rect x="2091.9" y="1167.0" width="14.2" height="14.2" rx="1.7" fill="#fff" stroke="#1d2c5c" stroke-width="0.78"/>
<g transform="translate(2091.9 1167.0) scale(0.986)" fill="#1d2c5c"><path d="M12.8 5.9 H7.4 Q4.4 6 1.7 9 Q1.3 10.5 2.8 10.5 H12.8 Z"/><path d="M3.7 8.3 L5.7 6.9 H9.6 V8.3 Z" fill="#fff"/><rect x="1.5" y="11.2" width="11.3" height="0.8"/><path d="M4.8 4.1 H8.8 M6.8 4.1 V5.9 M5.6 4.9 H8" stroke="#1d2c5c" stroke-width="0.6" fill="none"/></g>
<text transform="translate(2115.8 1196.3) scale(0.845 1)" font-size="10.4" text-anchor="start" fill="#1c3564" stroke="#1c3564" stroke-width="0.22" font-weight="bold" >© Metro İstanbul 2025 - Tüm Hakları Saklıdır. - All Rights Reserved.</text>
<text transform="translate(2115.8 1209.6) scale(0.845 1)" font-size="10.4" text-anchor="start" fill="#1c3564" stroke="#1c3564" stroke-width="0.22" font-weight="bold" >v.3 rev.18.2 (Ekim 2025)</text>
<path d="M32 90.5 H311.5 V507 Q311.5 529.4 289 529.4 H32 Z" fill="#fff" stroke="#8c8e91" stroke-width="1.4"/>
<rect x="30" y="89" width="2" height="445" fill="#1f2a5e"/>
<rect x="32" y="86" width="282" height="4.6" fill="#08428c"/>
<g fill="none" stroke="#939598" stroke-width="10.6" stroke-linejoin="round" stroke-linecap="butt"><path d="M92.3 270 V111 Q92.3 104.8 98.5 104.8 H243 Q249.2 104.8 249.2 111 V168"/><path d="M118.4 318 V358.6 H243 Q249.2 358.6 249.2 352 V338"/><path d="M92.3 140.7 H249.2"/><path d="M121.7 311.3 H227.2" stroke-width="9.6"/><rect x="-31" y="-12.2" width="62" height="24.4" rx="12.2" stroke-width="11.6" transform="translate(265.3 167.4) rotate(-33)"/><rect x="-31" y="-12.2" width="62" height="24.4" rx="12.2" stroke-width="11.6" transform="translate(266.4 211.1) rotate(-33)"/><rect x="-31" y="-12.2" width="62" height="24.4" rx="12.2" stroke-width="11.6" transform="translate(266.4 254.9) rotate(-33)"/><rect x="-31" y="-12.2" width="62" height="24.4" rx="12.2" stroke-width="11.6" transform="translate(265.3 299.7) rotate(-33)"/><path d="M85.6 288 V226 Q85.6 209.8 68.3 209.8 Q51 209.8 51 226 V312 L76 337.5 L43.5 377.5"/><path d="M85.6 280 Q86 296 100 300 Q116 306 118.4 322"/><path d="M121.5 420 L150 388 Q180 398 200 390 Q218 384 229 374"/></g>
<circle cx="170.4" cy="335.2" r="11.2" fill="#939598"/>
<rect x="156.5" y="119.8" width="7.2" height="6.6" fill="#939598"/>
<rect x="166.7" y="119.8" width="7.2" height="6.6" fill="#939598"/>
<rect x="176.9" y="119.8" width="7.2" height="6.6" fill="#939598"/>
<path d="M106.7 165.1 h23.1 v3.36 h-23.1 zM133.1 165.1 h16.5 v3.36 h-16.5 zM153.0 165.1 h6.6 v3.36 h-6.6 zM169.5 165.1 h3.3 v3.36 h-3.3 zM176.1 165.1 h3.3 v3.36 h-3.3 zM182.7 165.1 h13.2 v3.36 h-13.2 zM199.3 165.1 h3.3 v3.36 h-3.3 zM205.9 165.1 h23.1 v3.36 h-23.1 zM106.7 168.4 h3.3 v3.36 h-3.3 zM126.5 168.4 h3.3 v3.36 h-3.3 zM146.4 168.4 h3.3 v3.36 h-3.3 zM153.0 168.4 h6.6 v3.36 h-6.6 zM162.9 168.4 h9.9 v3.36 h-9.9 zM186.0 168.4 h3.3 v3.36 h-3.3 zM199.3 168.4 h3.3 v3.36 h-3.3 zM205.9 168.4 h3.3 v3.36 h-3.3 zM225.7 168.4 h3.3 v3.36 h-3.3 zM106.7 171.7 h3.3 v3.36 h-3.3 zM113.3 171.7 h9.9 v3.36 h-9.9 zM126.5 171.7 h3.3 v3.36 h-3.3 zM133.1 171.7 h3.3 v3.36 h-3.3 zM139.8 171.7 h9.9 v3.36 h-9.9 zM153.0 171.7 h6.6 v3.36 h-6.6 zM172.8 171.7 h9.9 v3.36 h-9.9 zM189.3 171.7 h13.2 v3.36 h-13.2 zM205.9 171.7 h3.3 v3.36 h-3.3 zM212.5 171.7 h9.9 v3.36 h-9.9 zM225.7 171.7 h3.3 v3.36 h-3.3 zM106.7 175.0 h3.3 v3.36 h-3.3 zM113.3 175.0 h9.9 v3.36 h-9.9 zM126.5 175.0 h3.3 v3.36 h-3.3 zM136.4 175.0 h9.9 v3.36 h-9.9 zM149.7 175.0 h36.4 v3.36 h-36.4 zM192.6 175.0 h9.9 v3.36 h-9.9 zM205.9 175.0 h3.3 v3.36 h-3.3 zM212.5 175.0 h9.9 v3.36 h-9.9 zM225.7 175.0 h3.3 v3.36 h-3.3 zM106.7 178.3 h3.3 v3.36 h-3.3 zM113.3 178.3 h9.9 v3.36 h-9.9 zM126.5 178.3 h3.3 v3.36 h-3.3 zM136.4 178.3 h3.3 v3.36 h-3.3 zM153.0 178.3 h9.9 v3.36 h-9.9 zM172.8 178.3 h6.6 v3.36 h-6.6 zM199.3 178.3 h3.3 v3.36 h-3.3 zM205.9 178.3 h3.3 v3.36 h-3.3 zM212.5 178.3 h9.9 v3.36 h-9.9 zM225.7 178.3 h3.3 v3.36 h-3.3 zM106.7 181.6 h3.3 v3.36 h-3.3 zM126.5 181.6 h3.3 v3.36 h-3.3 zM133.1 181.6 h3.3 v3.36 h-3.3 zM146.4 181.6 h3.3 v3.36 h-3.3 zM156.3 181.6 h3.3 v3.36 h-3.3 zM172.8 181.6 h6.6 v3.36 h-6.6 zM182.7 181.6 h3.3 v3.36 h-3.3 zM192.6 181.6 h6.6 v3.36 h-6.6 zM205.9 181.6 h3.3 v3.36 h-3.3 zM225.7 181.6 h3.3 v3.36 h-3.3 zM106.7 184.9 h23.1 v3.36 h-23.1 zM139.8 184.9 h3.3 v3.36 h-3.3 zM149.7 184.9 h13.2 v3.36 h-13.2 zM166.2 184.9 h9.9 v3.36 h-9.9 zM179.4 184.9 h6.6 v3.36 h-6.6 zM192.6 184.9 h3.3 v3.36 h-3.3 zM199.3 184.9 h3.3 v3.36 h-3.3 zM205.9 184.9 h23.1 v3.36 h-23.1 zM136.4 188.2 h6.6 v3.36 h-6.6 zM146.4 188.2 h3.3 v3.36 h-3.3 zM159.6 188.2 h3.3 v3.36 h-3.3 zM166.2 188.2 h6.6 v3.36 h-6.6 zM176.1 188.2 h3.3 v3.36 h-3.3 zM182.7 188.2 h3.3 v3.36 h-3.3 zM199.3 188.2 h3.3 v3.36 h-3.3 zM106.7 191.5 h3.3 v3.36 h-3.3 zM119.9 191.5 h3.3 v3.36 h-3.3 zM129.8 191.5 h3.3 v3.36 h-3.3 zM139.8 191.5 h3.3 v3.36 h-3.3 zM146.4 191.5 h6.6 v3.36 h-6.6 zM159.6 191.5 h19.8 v3.36 h-19.8 zM182.7 191.5 h3.3 v3.36 h-3.3 zM189.3 191.5 h9.9 v3.36 h-9.9 zM202.6 191.5 h6.6 v3.36 h-6.6 zM219.1 191.5 h9.9 v3.36 h-9.9 zM110.0 194.8 h9.9 v3.36 h-9.9 zM126.5 194.8 h6.6 v3.36 h-6.6 zM143.1 194.8 h6.6 v3.36 h-6.6 zM153.0 194.8 h6.6 v3.36 h-6.6 zM169.5 194.8 h3.3 v3.36 h-3.3 zM176.1 194.8 h3.3 v3.36 h-3.3 zM182.7 194.8 h6.6 v3.36 h-6.6 zM195.9 194.8 h6.6 v3.36 h-6.6 zM205.9 194.8 h23.1 v3.36 h-23.1 zM110.0 198.2 h23.1 v3.36 h-23.1 zM139.8 198.2 h6.6 v3.36 h-6.6 zM149.7 198.2 h3.3 v3.36 h-3.3 zM156.3 198.2 h6.6 v3.36 h-6.6 zM166.2 198.2 h6.6 v3.36 h-6.6 zM179.4 198.2 h3.3 v3.36 h-3.3 zM192.6 198.2 h16.5 v3.36 h-16.5 zM212.5 198.2 h9.9 v3.36 h-9.9 zM110.0 201.5 h23.1 v3.36 h-23.1 zM143.1 201.5 h3.3 v3.36 h-3.3 zM149.7 201.5 h52.9 v3.36 h-52.9 zM222.4 201.5 h6.6 v3.36 h-6.6 zM110.0 204.8 h3.3 v3.36 h-3.3 zM119.9 204.8 h3.3 v3.36 h-3.3 zM139.8 204.8 h3.3 v3.36 h-3.3 zM146.4 204.8 h3.3 v3.36 h-3.3 zM172.8 204.8 h16.5 v3.36 h-16.5 zM205.9 204.8 h6.6 v3.36 h-6.6 zM219.1 204.8 h3.3 v3.36 h-3.3 zM106.7 208.1 h3.3 v3.36 h-3.3 zM113.3 208.1 h9.9 v3.36 h-9.9 zM126.5 208.1 h3.3 v3.36 h-3.3 zM136.4 208.1 h9.9 v3.36 h-9.9 zM159.6 208.1 h9.9 v3.36 h-9.9 zM172.8 208.1 h3.3 v3.36 h-3.3 zM179.4 208.1 h9.9 v3.36 h-9.9 zM199.3 208.1 h16.5 v3.36 h-16.5 zM219.1 208.1 h3.3 v3.36 h-3.3 zM106.7 211.4 h6.6 v3.36 h-6.6 zM119.9 211.4 h9.9 v3.36 h-9.9 zM133.1 211.4 h3.3 v3.36 h-3.3 zM139.8 211.4 h3.3 v3.36 h-3.3 zM149.7 211.4 h3.3 v3.36 h-3.3 zM156.3 211.4 h3.3 v3.36 h-3.3 zM166.2 211.4 h3.3 v3.36 h-3.3 zM172.8 211.4 h29.7 v3.36 h-29.7 zM205.9 211.4 h3.3 v3.36 h-3.3 zM215.8 211.4 h3.3 v3.36 h-3.3 zM106.7 214.7 h9.9 v3.36 h-9.9 zM123.2 214.7 h16.5 v3.36 h-16.5 zM143.1 214.7 h3.3 v3.36 h-3.3 zM149.7 214.7 h16.5 v3.36 h-16.5 zM192.6 214.7 h3.3 v3.36 h-3.3 zM199.3 214.7 h3.3 v3.36 h-3.3 zM209.2 214.7 h6.6 v3.36 h-6.6 zM219.1 214.7 h9.9 v3.36 h-9.9 zM106.7 218.0 h3.3 v3.36 h-3.3 zM116.6 218.0 h3.3 v3.36 h-3.3 zM123.2 218.0 h3.3 v3.36 h-3.3 zM129.8 218.0 h13.2 v3.36 h-13.2 zM146.4 218.0 h6.6 v3.36 h-6.6 zM159.6 218.0 h26.4 v3.36 h-26.4 zM195.9 218.0 h6.6 v3.36 h-6.6 zM205.9 218.0 h13.2 v3.36 h-13.2 zM222.4 218.0 h6.6 v3.36 h-6.6 zM113.3 221.3 h16.5 v3.36 h-16.5 zM139.8 221.3 h6.6 v3.36 h-6.6 zM153.0 221.3 h3.3 v3.36 h-3.3 zM159.6 221.3 h6.6 v3.36 h-6.6 zM179.4 221.3 h9.9 v3.36 h-9.9 zM209.2 221.3 h3.3 v3.36 h-3.3 zM215.8 221.3 h3.3 v3.36 h-3.3 zM222.4 221.3 h3.3 v3.36 h-3.3 zM110.0 224.6 h9.9 v3.36 h-9.9 zM126.5 224.6 h6.6 v3.36 h-6.6 zM139.8 224.6 h6.6 v3.36 h-6.6 zM149.7 224.6 h9.9 v3.36 h-9.9 zM169.5 224.6 h9.9 v3.36 h-9.9 zM186.0 224.6 h9.9 v3.36 h-9.9 zM199.3 224.6 h6.6 v3.36 h-6.6 zM212.5 224.6 h13.2 v3.36 h-13.2 zM106.7 227.9 h3.3 v3.36 h-3.3 zM116.6 227.9 h6.6 v3.36 h-6.6 zM126.5 227.9 h3.3 v3.36 h-3.3 zM133.1 227.9 h6.6 v3.36 h-6.6 zM143.1 227.9 h3.3 v3.36 h-3.3 zM149.7 227.9 h13.2 v3.36 h-13.2 zM169.5 227.9 h9.9 v3.36 h-9.9 zM182.7 227.9 h13.2 v3.36 h-13.2 zM212.5 227.9 h6.6 v3.36 h-6.6 zM225.7 227.9 h3.3 v3.36 h-3.3 zM110.0 231.2 h23.1 v3.36 h-23.1 zM136.4 231.2 h3.3 v3.36 h-3.3 zM143.1 231.2 h6.6 v3.36 h-6.6 zM156.3 231.2 h13.2 v3.36 h-13.2 zM172.8 231.2 h6.6 v3.36 h-6.6 zM182.7 231.2 h6.6 v3.36 h-6.6 zM195.9 231.2 h9.9 v3.36 h-9.9 zM209.2 231.2 h3.3 v3.36 h-3.3 zM219.1 231.2 h6.6 v3.36 h-6.6 zM110.0 234.5 h3.3 v3.36 h-3.3 zM116.6 234.5 h9.9 v3.36 h-9.9 zM139.8 234.5 h9.9 v3.36 h-9.9 zM156.3 234.5 h13.2 v3.36 h-13.2 zM172.8 234.5 h3.3 v3.36 h-3.3 zM192.6 234.5 h9.9 v3.36 h-9.9 zM205.9 234.5 h6.6 v3.36 h-6.6 zM215.8 234.5 h9.9 v3.36 h-9.9 zM106.7 237.8 h3.3 v3.36 h-3.3 zM119.9 237.8 h13.2 v3.36 h-13.2 zM136.4 237.8 h9.9 v3.36 h-9.9 zM162.9 237.8 h3.3 v3.36 h-3.3 zM169.5 237.8 h3.3 v3.36 h-3.3 zM176.1 237.8 h3.3 v3.36 h-3.3 zM182.7 237.8 h13.2 v3.36 h-13.2 zM202.6 237.8 h6.6 v3.36 h-6.6 zM212.5 237.8 h6.6 v3.36 h-6.6 zM106.7 241.1 h6.6 v3.36 h-6.6 zM123.2 241.1 h13.2 v3.36 h-13.2 zM146.4 241.1 h3.3 v3.36 h-3.3 zM153.0 241.1 h6.6 v3.36 h-6.6 zM166.2 241.1 h3.3 v3.36 h-3.3 zM176.1 241.1 h16.5 v3.36 h-16.5 zM199.3 241.1 h9.9 v3.36 h-9.9 zM212.5 241.1 h9.9 v3.36 h-9.9 zM106.7 244.4 h9.9 v3.36 h-9.9 zM123.2 244.4 h6.6 v3.36 h-6.6 zM133.1 244.4 h9.9 v3.36 h-9.9 zM146.4 244.4 h3.3 v3.36 h-3.3 zM153.0 244.4 h6.6 v3.36 h-6.6 zM166.2 244.4 h6.6 v3.36 h-6.6 zM176.1 244.4 h6.6 v3.36 h-6.6 zM186.0 244.4 h3.3 v3.36 h-3.3 zM192.6 244.4 h3.3 v3.36 h-3.3 zM199.3 244.4 h9.9 v3.36 h-9.9 zM219.1 244.4 h3.3 v3.36 h-3.3 zM225.7 244.4 h3.3 v3.36 h-3.3 zM106.7 247.7 h9.9 v3.36 h-9.9 zM123.2 247.7 h6.6 v3.36 h-6.6 zM136.4 247.7 h6.6 v3.36 h-6.6 zM149.7 247.7 h6.6 v3.36 h-6.6 zM159.6 247.7 h3.3 v3.36 h-3.3 zM172.8 247.7 h3.3 v3.36 h-3.3 zM179.4 247.7 h6.6 v3.36 h-6.6 zM192.6 247.7 h23.1 v3.36 h-23.1 zM222.4 247.7 h3.3 v3.36 h-3.3 zM110.0 251.0 h3.3 v3.36 h-3.3 zM116.6 251.0 h3.3 v3.36 h-3.3 zM129.8 251.0 h6.6 v3.36 h-6.6 zM139.8 251.0 h3.3 v3.36 h-3.3 zM146.4 251.0 h9.9 v3.36 h-9.9 zM159.6 251.0 h6.6 v3.36 h-6.6 zM172.8 251.0 h33.1 v3.36 h-33.1 zM209.2 251.0 h3.3 v3.36 h-3.3 zM219.1 251.0 h9.9 v3.36 h-9.9 zM106.7 254.3 h3.3 v3.36 h-3.3 zM113.3 254.3 h3.3 v3.36 h-3.3 zM129.8 254.3 h3.3 v3.36 h-3.3 zM136.4 254.3 h3.3 v3.36 h-3.3 zM146.4 254.3 h3.3 v3.36 h-3.3 zM156.3 254.3 h6.6 v3.36 h-6.6 zM166.2 254.3 h3.3 v3.36 h-3.3 zM172.8 254.3 h3.3 v3.36 h-3.3 zM179.4 254.3 h6.6 v3.36 h-6.6 zM189.3 254.3 h23.1 v3.36 h-23.1 zM222.4 254.3 h3.3 v3.36 h-3.3 zM106.7 257.7 h3.3 v3.36 h-3.3 zM116.6 257.7 h3.3 v3.36 h-3.3 zM133.1 257.7 h3.3 v3.36 h-3.3 zM143.1 257.7 h3.3 v3.36 h-3.3 zM149.7 257.7 h3.3 v3.36 h-3.3 zM159.6 257.7 h3.3 v3.36 h-3.3 zM166.2 257.7 h6.6 v3.36 h-6.6 zM176.1 257.7 h3.3 v3.36 h-3.3 zM182.7 257.7 h3.3 v3.36 h-3.3 zM199.3 257.7 h13.2 v3.36 h-13.2 zM215.8 257.7 h6.6 v3.36 h-6.6 zM225.7 257.7 h3.3 v3.36 h-3.3 zM139.8 261.0 h3.3 v3.36 h-3.3 zM146.4 261.0 h6.6 v3.36 h-6.6 zM156.3 261.0 h9.9 v3.36 h-9.9 zM176.1 261.0 h9.9 v3.36 h-9.9 zM192.6 261.0 h3.3 v3.36 h-3.3 zM199.3 261.0 h3.3 v3.36 h-3.3 zM209.2 261.0 h3.3 v3.36 h-3.3 zM215.8 261.0 h3.3 v3.36 h-3.3 zM222.4 261.0 h6.6 v3.36 h-6.6 zM106.7 264.3 h23.1 v3.36 h-23.1 zM133.1 264.3 h3.3 v3.36 h-3.3 zM143.1 264.3 h13.2 v3.36 h-13.2 zM166.2 264.3 h3.3 v3.36 h-3.3 zM176.1 264.3 h3.3 v3.36 h-3.3 zM182.7 264.3 h19.8 v3.36 h-19.8 zM215.8 264.3 h3.3 v3.36 h-3.3 zM222.4 264.3 h3.3 v3.36 h-3.3 zM106.7 267.6 h3.3 v3.36 h-3.3 zM126.5 267.6 h3.3 v3.36 h-3.3 zM133.1 267.6 h3.3 v3.36 h-3.3 zM146.4 267.6 h3.3 v3.36 h-3.3 zM153.0 267.6 h6.6 v3.36 h-6.6 zM176.1 267.6 h3.3 v3.36 h-3.3 zM189.3 267.6 h3.3 v3.36 h-3.3 zM199.3 267.6 h6.6 v3.36 h-6.6 zM209.2 267.6 h3.3 v3.36 h-3.3 zM215.8 267.6 h9.9 v3.36 h-9.9 zM106.7 270.9 h3.3 v3.36 h-3.3 zM113.3 270.9 h9.9 v3.36 h-9.9 zM126.5 270.9 h3.3 v3.36 h-3.3 zM133.1 270.9 h3.3 v3.36 h-3.3 zM139.8 270.9 h3.3 v3.36 h-3.3 zM153.0 270.9 h3.3 v3.36 h-3.3 zM166.2 270.9 h13.2 v3.36 h-13.2 zM195.9 270.9 h9.9 v3.36 h-9.9 zM209.2 270.9 h19.8 v3.36 h-19.8 zM106.7 274.2 h3.3 v3.36 h-3.3 zM113.3 274.2 h9.9 v3.36 h-9.9 zM126.5 274.2 h3.3 v3.36 h-3.3 zM133.1 274.2 h6.6 v3.36 h-6.6 zM143.1 274.2 h3.3 v3.36 h-3.3 zM153.0 274.2 h3.3 v3.36 h-3.3 zM159.6 274.2 h3.3 v3.36 h-3.3 zM166.2 274.2 h9.9 v3.36 h-9.9 zM182.7 274.2 h9.9 v3.36 h-9.9 zM195.9 274.2 h9.9 v3.36 h-9.9 zM209.2 274.2 h3.3 v3.36 h-3.3 zM215.8 274.2 h6.6 v3.36 h-6.6 zM225.7 274.2 h3.3 v3.36 h-3.3 zM106.7 277.5 h3.3 v3.36 h-3.3 zM113.3 277.5 h9.9 v3.36 h-9.9 zM126.5 277.5 h3.3 v3.36 h-3.3 zM133.1 277.5 h6.6 v3.36 h-6.6 zM143.1 277.5 h3.3 v3.36 h-3.3 zM149.7 277.5 h9.9 v3.36 h-9.9 zM162.9 277.5 h6.6 v3.36 h-6.6 zM172.8 277.5 h6.6 v3.36 h-6.6 zM192.6 277.5 h9.9 v3.36 h-9.9 zM212.5 277.5 h6.6 v3.36 h-6.6 zM225.7 277.5 h3.3 v3.36 h-3.3 zM106.7 280.8 h3.3 v3.36 h-3.3 zM126.5 280.8 h3.3 v3.36 h-3.3 zM133.1 280.8 h9.9 v3.36 h-9.9 zM146.4 280.8 h9.9 v3.36 h-9.9 zM162.9 280.8 h3.3 v3.36 h-3.3 zM169.5 280.8 h6.6 v3.36 h-6.6 zM186.0 280.8 h6.6 v3.36 h-6.6 zM195.9 280.8 h16.5 v3.36 h-16.5 zM219.1 280.8 h3.3 v3.36 h-3.3 zM225.7 280.8 h3.3 v3.36 h-3.3 zM106.7 284.1 h23.1 v3.36 h-23.1 zM133.1 284.1 h6.6 v3.36 h-6.6 zM162.9 284.1 h6.6 v3.36 h-6.6 zM172.8 284.1 h6.6 v3.36 h-6.6 zM189.3 284.1 h9.9 v3.36 h-9.9 zM202.6 284.1 h3.3 v3.36 h-3.3 zM212.5 284.1 h3.3 v3.36 h-3.3 zM222.4 284.1 h6.6 v3.36 h-6.6 z" fill="#000"/>
<circle cx="168.5" cy="225.5" r="15.5" fill="#fff"/>
<path d="M159 214.5 L168.5 221 L178 214.5 V226.5 L168.5 233 L159 226.5 Z M163 221.5 V224.5 L168.5 228.3 L174 224.5 V221.5 L168.5 225.5 Z" fill="#939598" fill-rule="evenodd"/>
<path d="M159 230 L168.5 236.5 L178 230 V234.5 L168.5 241 L159 234.5 Z" fill="#939598"/>
<text transform="translate(171.5 451.0) scale(0.855 1)" font-size="17.4" text-anchor="middle" fill="#4d4d4f" stroke="#4d4d4f" stroke-width="0.22" font-weight="bold" >Ağ Haritası QR Kod ile cebinizde!</text>
<text transform="translate(171.5 470.4) scale(0.827 1)" font-size="15.5" text-anchor="middle" fill="#4d4d4f" stroke="#4d4d4f" stroke-width="0.22" font-weight="bold" font-style="italic" >Network Map in your pocket with QR code!</text>
<text transform="translate(39.4 495.1) scale(0.827 1)" font-size="13.5" text-anchor="start" fill="#4d4d4f" stroke="#4d4d4f" stroke-width="0.22" >Cep Haritasını Görevlilerden Temin Edebilirsiniz.</text>
<text transform="translate(39.4 511.6) scale(0.859 1)" font-size="12.4" text-anchor="start" fill="#4d4d4f" stroke="#4d4d4f" stroke-width="0.22" >You Can Obtain the Network Map from the Station Staff.</text>
<text x="712" y="67.6" font-size="35" font-weight="bold" fill="#fff" textLength="647" lengthAdjust="spacingAndGlyphs">İstanbul Raylı Sistemler Ağ Haritası</text>
<text x="1369" y="67.6" font-size="33" fill="#fff">/</text>
<text x="1397.4" y="67.6" font-size="30" font-weight="bold" font-style="italic" fill="#fff" textLength="451" lengthAdjust="spacingAndGlyphs">Istanbul Railway Network Map</text>
<g fill="#fff"><path d="M2060.0 47.0 L2061.1 60 V74 H2058.9 V60 Z"/><path d="M2065.2 38.0 L2066.3 60 V74 H2064.1 V60 Z"/><path d="M2071.2 38.0 L2072.3 60 V74 H2070.1 V60 Z"/><path d="M2076.4 47.0 L2077.5 60 V74 H2075.3 V60 Z"/><path d="M2061.2 66 Q2068.2 58 2075.2 66 V74 H2061.2 Z"/><path d="M2045.7 72 Q2049.2 64.5 2056.2 66 Q2057.7 67 2058.2 72 Z"/><path d="M2090.7 72 Q2087.2 64.5 2080.2 66 Q2078.7 67 2078.2 72 Z"/><path d="M2044.7 76.5 Q2050.2 72 2056.2 73 V76.5 Z"/><path d="M2091.7 76.5 Q2086.2 72 2080.2 73 V76.5 Z"/><path d="M2046.2 78 H2090.2 Q2088.2 98 2068.2 100.3 Q2048.2 98 2046.2 78 Z"/></g>
<circle cx="2068.2" cy="80" r="10.2" fill="#1f2a5e"/>
<path d="M2068.2 72.5 l3 5 h-6 z M2065.0 78.3 l3 5 h-6 z M2071.4 78.3 l3 5 h-6 z M2061.8 84 l3 5 h-6 z M2068.2 84 l3 5 h-6 z M2074.6 84 l3 5 h-6 z" fill="#fff" transform="translate(0 -1)"/>
<rect x="2067.4" y="89" width="1.6" height="12" fill="#1f2a5e"/>
<text x="2068.2" y="115" font-size="8.6" font-weight="bold" fill="#fff" text-anchor="middle" textLength="75" lengthAdjust="spacing">İSTANBUL</text>
<text x="2068.3" y="132.4" font-size="15.4" font-weight="bold" fill="#fff" text-anchor="middle" textLength="109.5" lengthAdjust="spacingAndGlyphs">BÜYÜKŞEHİR</text>
<text x="2068.6" y="145" font-size="8.6" font-weight="bold" fill="#fff" text-anchor="middle" textLength="75.5" lengthAdjust="spacing">BELEDİYESİ</text>
<rect x="2158.6" y="36" width="2" height="109.5" fill="#fff"/>
<path d="M2195.9 69 L2214.6 80.5 L2233.3 68 V92 L2224.5 97.5 V84.5 L2214.6 91 L2204.5 84.5 V97.5 L2195.9 92 Z" fill="#fff"/>
<path d="M2195.9 97 L2214.6 108.5 L2233.3 96.5 V103 L2214.6 114.4 L2195.9 103.5 Z" fill="#fff"/>
<text x="2241.4" y="85.9" font-size="25.5" fill="#fff" textLength="97.8" lengthAdjust="spacingAndGlyphs">METRO</text>
<text x="2241.4" y="113.6" font-size="23.4" font-weight="bold" fill="#fff" textLength="137" lengthAdjust="spacingAndGlyphs">İSTANBUL</text>
<defs><filter id="sh" x="-5%" y="-5%" width="110%" height="115%"><feGaussianBlur stdDeviation="3.2"/></filter></defs>
<rect x="1728" y="200" width="692" height="497" rx="14" fill="#000" opacity="0.42" filter="url(#sh)"/>
<path d="M2158.7 688 V726 Q2158.7 737 2170 737 H2391 Q2402 737 2402 726 V688 Z" fill="#fff" stroke="#8c8e91" stroke-width="1.3"/>
<rect x="1725" y="195.4" width="692" height="495.4" rx="13" fill="#fff" stroke="#8c8e91" stroke-width="1.4"/>
<rect x="1725.7" y="240.6" width="690.6" height="1.5" fill="#8c8e91"/>
<text transform="translate(1748.3 228) scale(0.876 1)" font-size="26" fill="#173a6e">Mevcut Hatlar</text>
<text transform="translate(1895.4 228) scale(0.837 1)" font-size="21.6" fill="#173a6e">/ Lines In Operation</text>
<line x1="1743.0" y1="260.2" x2="1771.0" y2="260.2" stroke="#e21f26" stroke-width="8.2" stroke-linecap="round"/>
<circle cx="1796.7" cy="261.6" r="12.9" fill="#e21f26"/>
<text transform="translate(1796.7 265.4) scale(0.86 1)" font-size="10.6" font-weight="bold" fill="#fff" text-anchor="middle">M1<tspan font-size="6.4">A</tspan></text>
<text transform="translate(1818.0 258.2) scale(0.9 1)" font-size="12.5" fill="#58595b">Yenikapı-Atatürk Havalimanı Metro Hattı</text>
<text transform="translate(1818.0 271.4) scale(0.956 1)" font-size="10.2" fill="#808285">Metro Line</text>
<line x1="1743.0" y1="293.8" x2="1771.0" y2="293.8" stroke="#e21f26" stroke-width="8.2" stroke-linecap="round"/>
<circle cx="1796.7" cy="295.2" r="12.9" fill="#e21f26"/>
<text transform="translate(1796.7 299.0) scale(0.86 1)" font-size="10.6" font-weight="bold" fill="#fff" text-anchor="middle">M1<tspan font-size="6.4">B</tspan></text>
<text transform="translate(1818.0 291.8) scale(0.9 1)" font-size="12.5" fill="#58595b">Yenikapı-Kirazlı Metro Hattı</text>
<text transform="translate(1818.0 305.0) scale(0.956 1)" font-size="10.2" fill="#808285">Metro Line</text>
<line x1="1743.0" y1="327.3" x2="1771.0" y2="327.3" stroke="#009a4e" stroke-width="8.2" stroke-linecap="round"/>
<circle cx="1796.7" cy="328.7" r="12.9" fill="#009a4e"/>
<text transform="translate(1796.7 332.7) scale(0.86 1)" font-size="11.0" font-weight="bold" fill="#fff" text-anchor="middle">M2</text>
<text transform="translate(1818.0 325.3) scale(0.9 1)" font-size="12.5" fill="#58595b">Yenikapı-Seyrantepe-Hacıosman Metro Hattı</text>
<text transform="translate(1818.0 338.5) scale(0.956 1)" font-size="10.2" fill="#808285">Metro Line</text>
<line x1="1743.0" y1="360.9" x2="1771.0" y2="360.9" stroke="#00a4e0" stroke-width="8.2" stroke-linecap="round"/>
<circle cx="1796.7" cy="362.2" r="12.9" fill="#00a4e0"/>
<text transform="translate(1796.7 366.2) scale(0.86 1)" font-size="11.0" font-weight="bold" fill="#fff" text-anchor="middle">M3</text>
<text transform="translate(1818.0 358.9) scale(0.9 1)" font-size="12.5" fill="#58595b">Bakırköy-Kayaşehir Metro Hattı</text>
<text transform="translate(1818.0 372.1) scale(0.956 1)" font-size="10.2" fill="#808285">Metro Line</text>
<line x1="1743.0" y1="394.4" x2="1771.0" y2="394.4" stroke="#e5127d" stroke-width="8.2" stroke-linecap="round"/>
<circle cx="1796.7" cy="395.8" r="12.9" fill="#e5127d"/>
<text transform="translate(1796.7 399.8) scale(0.86 1)" font-size="11.0" font-weight="bold" fill="#fff" text-anchor="middle">M4</text>
<text transform="translate(1818.0 392.4) scale(0.9 1)" font-size="12.5" fill="#58595b">Kadıköy-Sabiha Gökçen Havalimanı Metro Hattı</text>
<text transform="translate(1818.0 405.6) scale(0.956 1)" font-size="10.2" fill="#808285">Metro Line</text>
<line x1="1743.0" y1="428.0" x2="1771.0" y2="428.0" stroke="#6b2c7b" stroke-width="8.2" stroke-linecap="round"/>
<circle cx="1796.7" cy="429.4" r="12.9" fill="#6b2c7b"/>
<text transform="translate(1796.7 433.3) scale(0.86 1)" font-size="11.0" font-weight="bold" fill="#fff" text-anchor="middle">M5</text>
<text transform="translate(1818.0 426.0) scale(0.9 1)" font-size="12.5" fill="#58595b">Üsküdar-Samandıra Metro Hattı</text>
<text transform="translate(1818.0 439.2) scale(0.956 1)" font-size="10.2" fill="#808285">Metro Line</text>
<line x1="1743.0" y1="461.5" x2="1771.0" y2="461.5" stroke="#c7a571" stroke-width="8.2" stroke-linecap="round"/>
<circle cx="1796.7" cy="462.9" r="12.9" fill="#c7a571"/>
<text transform="translate(1796.7 466.9) scale(0.86 1)" font-size="11.0" font-weight="bold" fill="#fff" text-anchor="middle">M6</text>
<text transform="translate(1818.0 459.5) scale(0.9 1)" font-size="12.5" fill="#58595b">Levent-Boğaziçi Ü./Hisarüstü Metro Hattı</text>
<text transform="translate(1818.0 472.7) scale(0.956 1)" font-size="10.2" fill="#808285">Metro Line</text>
<line x1="1743.0" y1="495.1" x2="1771.0" y2="495.1" stroke="#f294c0" stroke-width="8.2" stroke-linecap="round"/>
<circle cx="1796.7" cy="496.4" r="12.9" fill="#f294c0"/>
<text transform="translate(1796.7 500.4) scale(0.86 1)" font-size="11.0" font-weight="bold" fill="#fff" text-anchor="middle">M7</text>
<text transform="translate(1818.0 493.1) scale(0.9 1)" font-size="12.5" fill="#58595b">Yıldız-Mahmutbey Metro Hattı</text>
<text transform="translate(1818.0 506.2) scale(0.956 1)" font-size="10.2" fill="#808285">Metro Line</text>
<line x1="1743.0" y1="528.6" x2="1771.0" y2="528.6" stroke="#3b79c7" stroke-width="8.2" stroke-linecap="round"/>
<circle cx="1796.7" cy="530.0" r="12.9" fill="#3b79c7"/>
<text transform="translate(1796.7 534.0) scale(0.86 1)" font-size="11.0" font-weight="bold" fill="#fff" text-anchor="middle">M8</text>
<text transform="translate(1818.0 526.6) scale(0.9 1)" font-size="12.5" fill="#58595b">Bostancı-Parseller Metro Hattı</text>
<text transform="translate(1818.0 539.8) scale(0.956 1)" font-size="10.2" fill="#808285">Metro Line</text>
<line x1="1743.0" y1="562.1" x2="1771.0" y2="562.1" stroke="#ffd100" stroke-width="8.2" stroke-linecap="round"/>
<circle cx="1796.7" cy="563.5" r="12.9" fill="#ffd100"/>
<text transform="translate(1796.7 567.5) scale(0.86 1)" font-size="11.0" font-weight="bold" fill="#111" text-anchor="middle">M9</text>
<text transform="translate(1818.0 560.1) scale(0.9 1)" font-size="12.5" fill="#58595b">Ataköy-Olimpiyat Metro Hattı</text>
<text transform="translate(1818.0 573.3) scale(0.956 1)" font-size="10.2" fill="#808285">Metro Line</text>
<line x1="1743.0" y1="595.7" x2="1771.0" y2="595.7" stroke="#a0549c" stroke-width="8.2" stroke-linecap="round"/>
<circle cx="1796.7" cy="597.1" r="12.9" fill="#a0549c"/>
<text transform="translate(1796.7 600.5) scale(0.86 1)" font-size="9.4" font-weight="bold" fill="#fff" text-anchor="middle">M11</text>
<text transform="translate(1818.0 593.7) scale(0.9 1)" font-size="12.5" fill="#58595b">Gayrettepe-İstanbul Hvl.-Arnavutköy Metro Hattı</text>
<text transform="translate(1818.0 606.9) scale(0.9 1)" font-size="12.5" fill="#58595b">(TCDD) <tspan font-size="10.4" fill="#808285">Metro Line</tspan></text>
<line x1="1743.0" y1="629.2" x2="1771.0" y2="629.2" stroke="#5cbfab" stroke-width="8.2" stroke-linecap="round"/>
<circle cx="1796.7" cy="630.6" r="12.9" fill="#5cbfab"/>
<text transform="translate(1796.7 634.0) scale(0.86 1)" font-size="9.4" font-weight="bold" fill="#fff" text-anchor="middle">TF1</text>
<text transform="translate(1818.0 627.2) scale(0.9 1)" font-size="12.5" fill="#58595b">Maçka-Taşkışla Teleferik Hattı</text>
<text transform="translate(1818.0 640.4) scale(0.956 1)" font-size="10.2" fill="#808285">Cable Car</text>
<line x1="1743.0" y1="662.8" x2="1771.0" y2="662.8" stroke="#5cbfab" stroke-width="8.2" stroke-linecap="round"/>
<circle cx="1796.7" cy="664.2" r="12.9" fill="#5cbfab"/>
<text transform="translate(1796.7 667.6) scale(0.86 1)" font-size="9.4" font-weight="bold" fill="#fff" text-anchor="middle">TF2</text>
<text transform="translate(1818.0 660.8) scale(0.9 1)" font-size="12.5" fill="#58595b">Eyüp-Piyer Loti Teleferik Hattı</text>
<text transform="translate(1818.0 674.0) scale(0.956 1)" font-size="10.2" fill="#808285">Cable Car</text>
<line x1="2106.3" y1="259.8" x2="2134.3" y2="259.8" stroke="#00507f" stroke-width="8.2" stroke-linecap="round"/>
<circle cx="2158.6" cy="260.4" r="12.9" fill="#00507f"/>
<text transform="translate(2158.6 264.4) scale(0.86 1)" font-size="11.0" font-weight="bold" fill="#fff" text-anchor="middle">T1</text>
<text transform="translate(2179.5 258.6) scale(0.9 1)" font-size="12.5" fill="#58595b">Kabataş-Bağcılar Tramvay Hattı</text>
<text transform="translate(2179.5 271.8) scale(0.956 1)" font-size="10.2" fill="#808285">Tram Line</text>
<line x1="2106.3" y1="293.1" x2="2134.3" y2="293.1" stroke="#8eaca0" stroke-width="8.2" stroke-linecap="round"/>
<circle cx="2158.6" cy="293.7" r="12.9" fill="#8eaca0"/>
<text transform="translate(2158.6 297.7) scale(0.86 1)" font-size="11.0" font-weight="bold" fill="#fff" text-anchor="middle">T2</text>
<text transform="translate(2179.5 291.9) scale(0.9 1)" font-size="12.5" fill="#58595b">Taksim-Tünel Nostaljik Tramvay (İETT)</text>
<text transform="translate(2179.5 305.1) scale(0.956 1)" font-size="10.2" fill="#808285">Heritage Tram</text>
<line x1="2106.3" y1="326.4" x2="2134.3" y2="326.4" stroke="#a0562a" stroke-width="8.2" stroke-linecap="round"/>
<circle cx="2158.6" cy="327.0" r="12.9" fill="#a0562a"/>
<text transform="translate(2158.6 331.0) scale(0.86 1)" font-size="11.0" font-weight="bold" fill="#fff" text-anchor="middle">T3</text>
<text transform="translate(2179.5 325.2) scale(0.9 1)" font-size="12.5" fill="#58595b">Kadıköy-Moda Tramvay Hattı</text>
<text transform="translate(2179.5 338.4) scale(0.956 1)" font-size="10.2" fill="#808285">Tram Line</text>
<line x1="2106.3" y1="359.7" x2="2134.3" y2="359.7" stroke="#f47b3f" stroke-width="8.2" stroke-linecap="round"/>
<circle cx="2158.6" cy="360.3" r="12.9" fill="#f47b3f"/>
<text transform="translate(2158.6 364.3) scale(0.86 1)" font-size="11.0" font-weight="bold" fill="#fff" text-anchor="middle">T4</text>
<text transform="translate(2179.5 358.5) scale(0.9 1)" font-size="12.5" fill="#58595b">Topkapı-Mescid-i Selam Tramvay Hattı</text>
<text transform="translate(2179.5 371.7) scale(0.956 1)" font-size="10.2" fill="#808285">Tram Line</text>
<line x1="2106.3" y1="393.0" x2="2134.3" y2="393.0" stroke="#776fb7" stroke-width="8.2" stroke-linecap="round"/>
<circle cx="2158.6" cy="393.6" r="12.9" fill="#776fb7"/>
<text transform="translate(2158.6 397.6) scale(0.86 1)" font-size="11.0" font-weight="bold" fill="#fff" text-anchor="middle">T5</text>
<text transform="translate(2179.5 391.8) scale(0.9 1)" font-size="12.5" fill="#58595b">Eminönü-Alibeyköy Tramvay Hattı</text>
<text transform="translate(2179.5 405.0) scale(0.956 1)" font-size="10.2" fill="#808285">Tram Line</text>
<line x1="2106.3" y1="426.3" x2="2134.3" y2="426.3" stroke="#e8777c" stroke-width="8.2" stroke-linecap="round"/>
<circle cx="2158.6" cy="426.9" r="12.9" fill="#e8777c"/>
<text transform="translate(2158.6 430.9) scale(0.86 1)" font-size="11.0" font-weight="bold" fill="#fff" text-anchor="middle">T6</text>
<text transform="translate(2181.0 425.1) scale(0.9 1)" font-size="12.5" fill="#58595b">Sirkeci-Kazlıçeşme Tramvay Hattı (TCDD)</text>
<text transform="translate(2181.0 438.3) scale(0.956 1)" font-size="10.2" fill="#808285">Tram Line (Shuttle Line)</text>
<line x1="2106.3" y1="459.6" x2="2134.3" y2="459.6" stroke="#7a7052" stroke-width="8.2" stroke-linecap="round"/>
<circle cx="2158.6" cy="460.2" r="12.9" fill="#7a7052"/>
<text transform="translate(2158.6 464.2) scale(0.86 1)" font-size="11.0" font-weight="bold" fill="#fff" text-anchor="middle">F1</text>
<text transform="translate(2181.0 458.4) scale(0.9 1)" font-size="12.5" fill="#58595b">Taksim-Kabataş Füniküler Hattı</text>
<text transform="translate(2181.0 471.6) scale(0.956 1)" font-size="10.2" fill="#808285">Funicular Line</text>
<line x1="2106.3" y1="492.9" x2="2134.3" y2="492.9" stroke="#7a7052" stroke-width="8.2" stroke-linecap="round"/>
<circle cx="2158.6" cy="493.5" r="12.9" fill="#7a7052"/>
<text transform="translate(2158.6 497.5) scale(0.86 1)" font-size="11.0" font-weight="bold" fill="#fff" text-anchor="middle">F2</text>
<text transform="translate(2181.0 491.7) scale(0.9 1)" font-size="12.5" fill="#58595b">Karaköy-Beyoğlu Tarihi Tünel (İETT)</text>
<text transform="translate(2181.0 504.9) scale(0.956 1)" font-size="10.2" fill="#808285">Tunnel (Heritage Funicular)</text>
<line x1="2106.3" y1="526.2" x2="2134.3" y2="526.2" stroke="#7a7052" stroke-width="8.2" stroke-linecap="round"/>
<circle cx="2158.6" cy="526.8" r="12.9" fill="#7a7052"/>
<text transform="translate(2158.6 530.8) scale(0.86 1)" font-size="11.0" font-weight="bold" fill="#fff" text-anchor="middle">F3</text>
<text transform="translate(2181.0 525.0) scale(0.9 1)" font-size="12.5" fill="#58595b">Seyrantepe-Vadistanbul Füniküler Hattı</text>
<text transform="translate(2181.0 538.2) scale(0.956 1)" font-size="10.2" fill="#808285">Funicular Line</text>
<line x1="2106.3" y1="559.5" x2="2134.3" y2="559.5" stroke="#7a7052" stroke-width="8.2" stroke-linecap="round"/>
<circle cx="2158.6" cy="560.1" r="12.9" fill="#7a7052"/>
<text transform="translate(2158.6 564.1) scale(0.86 1)" font-size="11.0" font-weight="bold" fill="#fff" text-anchor="middle">F4</text>
<text transform="translate(2181.0 558.3) scale(0.9 1)" font-size="12.5" fill="#58595b">Boğaziçi Ü./Hisarüstü-Aşiyan Füniküler Hattı</text>
<text transform="translate(2181.0 571.5) scale(0.956 1)" font-size="10.2" fill="#808285">Funicular Line</text>
<line x1="2106.3" y1="592.8" x2="2134.3" y2="592.8" stroke="#5e6062" stroke-width="8.2" stroke-linecap="round"/>
<circle cx="2158.6" cy="593.4" r="12.9" fill="#5e6062"/>
<text transform="translate(2158.6 597.4) scale(0.86 1)" font-size="11.0" font-weight="bold" fill="#fff" text-anchor="middle">B1</text>
<text transform="translate(2179.5 591.6) scale(0.9 1)" font-size="12.5" fill="#58595b">Halkalı-Gebze Banliyö Hattı (Marmaray-TCDD)</text>
<text transform="translate(2179.5 604.8) scale(0.956 1)" font-size="10.2" fill="#808285">Suburban Line</text>
<line x1="2106.3" y1="626.1" x2="2134.3" y2="626.1" stroke="#727376" stroke-width="8.2" stroke-linecap="round"/>
<circle cx="2158.6" cy="626.7" r="12.9" fill="#727376"/>
<text transform="translate(2158.6 630.7) scale(0.86 1)" font-size="11.0" font-weight="bold" fill="#fff" text-anchor="middle">B2</text>
<text transform="translate(2179.5 624.9) scale(0.9 1)" font-size="12.5" fill="#58595b">Halkalı-Bahçeşehir Banliyö Hattı (TCDD)</text>
<text transform="translate(2179.5 638.1) scale(0.956 1)" font-size="10.2" fill="#808285">Suburban Line</text>
<line x1="2105.3" y1="666.5" x2="2133.3" y2="666.5" stroke="#d8d49c" stroke-width="8.2" stroke-linecap="round"/>
<rect x="2145.0" y="653.5" width="25.0" height="25.0" rx="3.0" fill="#fff" stroke="#1d2c5c" stroke-width="1.38"/>
<g transform="translate(2145.0 653.5) scale(1.736)" fill="#1d2c5c"><path d="M4.2 3.6 Q4.2 3 5 3 H9.4 Q10.2 3 10.2 3.6 V10.2 H4.2 Z M5 4.2 V7.2 H9.4 V4.2 Z" fill-rule="evenodd"/><rect x="4.6" y="10" width="1.3" height="1.5"/><rect x="8.5" y="10" width="1.3" height="1.5"/><rect x="2.4" y="3" width="0.6" height="8.5"/><rect x="11.4" y="3" width="0.6" height="8.5"/></g>
<text transform="translate(2178.5 665.7) scale(0.9 1)" font-size="12.5" fill="#58595b">Metrobüs Hattı (İETT)</text>
<text transform="translate(2178.5 678.9) scale(0.956 1)" font-size="10.2" fill="#808285">Bus Rapid Transit</text>
<path d="M2186 701.5 L2200 726 H2172 Z" fill="#f7d117" stroke="#222" stroke-width="1.8" stroke-linejoin="round"/>
<circle cx="2183" cy="713" r="1.5" fill="#222"/><path d="M2183 714.8 V720.5 M2183 720 L2181 723.6 M2183 720 L2185 723.6 M2184.6 718 H2192.5 M2189 718 L2188.2 721 M2192 718 L2192.6 721" stroke="#222" stroke-width="1.3" fill="none"/>
<circle cx="2221.4" cy="714.8" r="10.6" fill="#fff" stroke="#e0202a" stroke-width="2.2"/><rect x="2213.6" y="713.2" width="15.6" height="3.2" fill="#e0202a"/>
<text transform="translate(2243.5 712.6) scale(0.9 1)" font-size="12.5" fill="#58595b">İnşaatı Devam Eden İstasyon</text>
<text transform="translate(2243.5 726.2) scale(0.956 1)" font-size="10.2" fill="#808285">Station Under Construction</text>
<rect x="44" y="1270" width="2472" height="307" rx="11" fill="#fff" stroke="#8c8e91" stroke-width="1.5"/>
<path d="M56.0 1577 V1290 Q56.0 1276.6 70.0 1276.6 H1021.2 Q1035.2 1276.6 1035.2 1290 V1577" fill="#fff" stroke="#8c8e91" stroke-width="1.5"/>
<line x1="56.0" y1="1317" x2="1035.2" y2="1317" stroke="#8c8e91" stroke-width="1.5"/>
<path d="M1035.2 1577 V1290 Q1035.2 1276.6 1049.2 1276.6 H1553.0 Q1567.0 1276.6 1567.0 1290 V1577" fill="#fff" stroke="#8c8e91" stroke-width="1.5"/>
<line x1="1035.2" y1="1317" x2="1567.0" y2="1317" stroke="#8c8e91" stroke-width="1.5"/>
<path d="M1567.0 1577 V1290 Q1567.0 1276.6 1581.0 1276.6 H2086.0 Q2100.0 1276.6 2100.0 1290 V1577" fill="#fff" stroke="#8c8e91" stroke-width="1.5"/>
<line x1="1567.0" y1="1317" x2="2100.0" y2="1317" stroke="#8c8e91" stroke-width="1.5"/>
<path d="M2100.0 1577 V1290 Q2100.0 1276.6 2114.0 1276.6 H2492.0 Q2506.0 1276.6 2506.0 1290 V1577" fill="#fff" stroke="#8c8e91" stroke-width="1.5"/>
<line x1="2100.0" y1="1317" x2="2506.0" y2="1317" stroke="#8c8e91" stroke-width="1.5"/>
<rect x="46" y="1576.2" width="2468" height="3" fill="#fff"/>
<line x1="50" y1="1577" x2="2510" y2="1577" stroke="#8c8e91" stroke-width="1.5"/>
<text transform="translate(74.5 1305.2) scale(0.839 1)" font-size="24.3" fill="#173a6e">Yapımı Devam Eden Hatlar<tspan font-size="19" font-style="italic"> / Lines Under Construction</tspan></text>
<text transform="translate(1054.6 1305.2) scale(0.839 1)" font-size="24.3" fill="#173a6e">İşaretler<tspan font-size="19" font-style="italic"> / Signs</tspan></text>
<text transform="translate(1584.5 1305.2) scale(0.839 1)" font-size="24.3" fill="#173a6e">Bilgilendirme<tspan font-size="19" font-style="italic"> / Information</tspan></text>
<text transform="translate(2119.7 1305.2) scale(0.839 1)" font-size="24.3" fill="#173a6e">İletişim<tspan font-size="19" font-style="italic"> / Contact</tspan></text>
<circle cx="93.7" cy="1351.0" r="18.1" fill="#fff" stroke="#e21f26" stroke-width="3.7"/>
<text transform="translate(93.7 1356.4) scale(0.95 1)" font-size="15" font-weight="bold" fill="#e21f26" text-anchor="middle">M1<tspan font-size="9.4">B</tspan></text>
<text transform="translate(133.0 1344.4) scale(0.868 1)" font-size="20" fill="#4d4d4f">Kirazlı Bağcılar-Halkalı Uzatması</text>
<text transform="translate(133.0 1367.0) scale(0.918 1)" font-size="16.8" fill="#4d4d4f">Metro Line Extension</text>
<circle cx="93.7" cy="1399.5" r="18.1" fill="#fff" stroke="#e5127d" stroke-width="3.7"/>
<text transform="translate(93.7 1405.0) scale(0.93 1)" font-size="15.4" font-weight="bold" fill="#e5127d" text-anchor="middle">M4</text>
<text transform="translate(133.0 1393.4) scale(0.868 1)" font-size="20" fill="#4d4d4f">Tavşantepe-İçmeler Uzatması</text>
<text transform="translate(133.0 1416.0) scale(0.918 1)" font-size="16.8" fill="#4d4d4f">Metro Line Extension</text>
<circle cx="93.7" cy="1448.0" r="18.1" fill="#fff" stroke="#6b2c7b" stroke-width="3.7"/>
<text transform="translate(93.7 1453.5) scale(0.93 1)" font-size="15.4" font-weight="bold" fill="#6b2c7b" text-anchor="middle">M5</text>
<text transform="translate(133.0 1442.4) scale(0.868 1)" font-size="20" fill="#4d4d4f">Samandıra-Sultanbeyli Uzatması</text>
<text transform="translate(133.0 1465.0) scale(0.918 1)" font-size="16.8" fill="#4d4d4f">Metro Line Extension</text>
<circle cx="93.7" cy="1496.5" r="18.1" fill="#fff" stroke="#f294c0" stroke-width="3.7"/>
<text transform="translate(93.7 1502.0) scale(0.93 1)" font-size="15.4" font-weight="bold" fill="#f294c0" text-anchor="middle">M7</text>
<text transform="translate(133.0 1491.4) scale(0.868 1)" font-size="20" fill="#4d4d4f">Esenyurt Meydan ve Kabataş Uzatmaları</text>
<text transform="translate(133.0 1514.0) scale(0.918 1)" font-size="16.8" fill="#4d4d4f">Metro Line Extensions</text>
<circle cx="93.7" cy="1545.0" r="18.1" fill="#fff" stroke="#3fae49" stroke-width="3.7"/>
<text transform="translate(93.7 1550.3) scale(0.93 1)" font-size="14.6" font-weight="bold" fill="#3fae49" text-anchor="middle">M10</text>
<text transform="translate(133.0 1540.4) scale(0.868 1)" font-size="20" fill="#4d4d4f">Pendik Merkez-Fevzi Çakmak Uzatması</text>
<text transform="translate(133.0 1563.0) scale(0.918 1)" font-size="16.8" fill="#4d4d4f">Metro Line Extension</text>
<circle cx="549.0" cy="1351.0" r="18.1" fill="#fff" stroke="#a0549c" stroke-width="3.7"/>
<text transform="translate(549.0 1356.3) scale(0.93 1)" font-size="14.6" font-weight="bold" fill="#a0549c" text-anchor="middle">M11</text>
<text transform="translate(588.0 1344.4) scale(0.868 1)" font-size="20" fill="#4d4d4f">Arnavutköy Hastane-Halkalı Uzatması</text>
<text transform="translate(588.0 1367.0) scale(0.918 1)" font-size="16.8" fill="#4d4d4f">Metro Line Extension</text>
<circle cx="549.0" cy="1399.5" r="18.1" fill="#fff" stroke="#c8d42a" stroke-width="3.7"/>
<text transform="translate(549.0 1404.8) scale(0.93 1)" font-size="14.6" font-weight="bold" fill="#c8d42a" text-anchor="middle">M12</text>
<text transform="translate(588.0 1393.4) scale(0.868 1)" font-size="20" fill="#4d4d4f">Göztepe-Ümraniye-Kazım Karabekir Metro Hattı</text>
<text transform="translate(588.0 1416.0) scale(0.918 1)" font-size="16.8" fill="#4d4d4f">Metro Line</text>
<circle cx="549.0" cy="1448.0" r="18.1" fill="#fff" stroke="#e5344c" stroke-width="3.7"/>
<text transform="translate(549.0 1453.3) scale(0.93 1)" font-size="14.6" font-weight="bold" fill="#e5344c" text-anchor="middle">M13</text>
<text transform="translate(588.0 1442.4) scale(0.868 1)" font-size="20" fill="#4d4d4f">Emek-Yenidoğan Metro Hattı</text>
<text transform="translate(588.0 1465.0) scale(0.918 1)" font-size="16.8" fill="#4d4d4f">Metro Line</text>
<circle cx="549.0" cy="1496.5" r="18.1" fill="#fff" stroke="#a85a1c" stroke-width="3.7"/>
<text transform="translate(549.0 1501.8) scale(0.93 1)" font-size="14.6" font-weight="bold" fill="#a85a1c" text-anchor="middle">M14</text>
<text transform="translate(588.0 1491.4) scale(0.868 1)" font-size="20" fill="#4d4d4f">Altunizade-Bosna Bulvarı Metro Hattı</text>
<text transform="translate(588.0 1514.0) scale(0.918 1)" font-size="16.8" fill="#4d4d4f">Metro Line</text>
<circle cx="549.0" cy="1545.0" r="18.1" fill="#fff" stroke="#c9d4b6" stroke-width="3.7"/>
<text transform="translate(549.0 1550.5) scale(0.93 1)" font-size="15.4" font-weight="bold" fill="#c9d4b6" text-anchor="middle">T7</text>
<text transform="translate(588.0 1540.4) scale(0.868 1)" font-size="20" fill="#4d4d4f">Eyüpsultan-Bayrampaşa Tramvay Hattı</text>
<text transform="translate(588.0 1563.0) scale(0.918 1)" font-size="16.8" fill="#4d4d4f">Tram Line</text>
<circle cx="1063" cy="1349.2" r="6.9" fill="#fff" stroke="#000" stroke-width="2"/>
<text transform="translate(1080.6 1354.5) scale(0.833 1)" font-size="18.2" fill="#4d4d4f">İstasyon-Durak<tspan font-size="15.2"> / Station-Stop</tspan></text>
<circle cx="1063" cy="1401.5" r="14.2" fill="#000"/>
<text transform="translate(1080.6 1407.4) scale(0.833 1)" font-size="18.2" fill="#4d4d4f">Hat Başı-Sonu<tspan font-size="15.2"> / Terminus</tspan></text>
<text transform="translate(1053.2 1453.4) scale(0.833 1)" font-size="18.2" fill="#4d4d4f">Aktarma İşaretleri<tspan font-size="15.2"> / Transfer Signs</tspan></text>
<circle cx="1063.0" cy="1472.5" r="8.4" fill="#fff" stroke="#000" stroke-width="2.2"/>
<circle cx="1087.8" cy="1472.5" r="9.5" fill="#000"/>
<circle cx="1102.4" cy="1472.5" r="9.5" fill="#000"/>
<line x1="1087.8" y1="1472.5" x2="1102.4" y2="1472.5" stroke="#000" stroke-width="9.8"/>
<circle cx="1087.8" cy="1472.5" r="7.3" fill="#fff"/>
<circle cx="1102.4" cy="1472.5" r="7.3" fill="#fff"/>
<line x1="1087.8" y1="1472.5" x2="1102.4" y2="1472.5" stroke="#fff" stroke-width="5.4"/>
<circle cx="1125.2" cy="1472.5" r="9.3" fill="#000"/>
<circle cx="1142.3" cy="1472.5" r="9.3" fill="#000"/>
<line x1="1125.2" y1="1472.5" x2="1142.3" y2="1472.5" stroke="#000" stroke-width="11.7"/>
<circle cx="1125.2" cy="1472.5" r="7.1" fill="#fff"/>
<circle cx="1142.3" cy="1472.5" r="7.1" fill="#fff"/>
<line x1="1125.2" y1="1472.5" x2="1142.3" y2="1472.5" stroke="#fff" stroke-width="7.3"/>
<circle cx="1165.6" cy="1472.5" r="9.5" fill="#000"/>
<circle cx="1178.7" cy="1472.5" r="9.5" fill="#000"/>
<circle cx="1191.4" cy="1472.5" r="9.5" fill="#000"/>
<line x1="1165.6" y1="1472.5" x2="1178.7" y2="1472.5" stroke="#000" stroke-width="9.8"/>
<line x1="1178.7" y1="1472.5" x2="1191.4" y2="1472.5" stroke="#000" stroke-width="9.8"/>
<circle cx="1165.6" cy="1472.5" r="7.3" fill="#fff"/>
<circle cx="1178.7" cy="1472.5" r="7.3" fill="#fff"/>
<circle cx="1191.4" cy="1472.5" r="7.3" fill="#fff"/>
<line x1="1165.6" y1="1472.5" x2="1178.7" y2="1472.5" stroke="#fff" stroke-width="5.4"/>
<line x1="1178.7" y1="1472.5" x2="1191.4" y2="1472.5" stroke="#fff" stroke-width="5.4"/>
<circle cx="1228.6" cy="1471.7" r="7.8" fill="#fff" stroke="#c6c8ca" stroke-width="1.6"/>
<circle cx="1215.9" cy="1472.5" r="8.4" fill="#fff" stroke="#000" stroke-width="2.2"/>
<circle cx="1283.1" cy="1471.7" r="7.8" fill="#fff" stroke="#c6c8ca" stroke-width="1.6"/>
<circle cx="1256.5" cy="1472.5" r="9.5" fill="#000"/>
<circle cx="1269.8" cy="1472.5" r="9.5" fill="#000"/>
<line x1="1256.5" y1="1472.5" x2="1269.8" y2="1472.5" stroke="#000" stroke-width="9.8"/>
<circle cx="1256.5" cy="1472.5" r="7.3" fill="#fff"/>
<circle cx="1269.8" cy="1472.5" r="7.3" fill="#fff"/>
<line x1="1256.5" y1="1472.5" x2="1269.8" y2="1472.5" stroke="#fff" stroke-width="5.4"/>
<g stroke="#cdd0d4" stroke-width="0.5" fill="#eef0f1" fill-opacity="0.75">
<rect x="1055.8" y="1510.8" width="3.8" height="35.7"/>
<rect x="1060.0" y="1503.0" width="3.8" height="30.4"/>
<rect x="1132.2" y="1510.8" width="3.8" height="35.7"/>
<rect x="1128.0" y="1503.0" width="3.8" height="30.4"/>
<rect x="1057.5" y="1530.0" width="76.5" height="6.5"/>
</g>
<path d="M1060.0 1505.2 Q1095.7 1548.7 1131.4 1505.2" fill="none" stroke="#c4c6c9" stroke-width="0.8"/>
<path d="M1060.0 1511.7 Q1095.7 1546.5 1131.4 1511.7" fill="none" stroke="#c4c6c9" stroke-width="0.8"/>
<path d="M1064.0 1509.7 V1530.0 M1067.9 1513.8 V1530.0 M1071.9 1517.3 V1530.0 M1075.9 1520.2 V1530.0 M1079.8 1522.6 V1530.0 M1083.8 1524.5 V1530.0 M1087.8 1525.9 V1530.0 M1091.7 1526.7 V1530.0 M1095.7 1526.9 V1530.0 M1099.7 1526.7 V1530.0 M1103.6 1525.9 V1530.0 M1107.6 1524.5 V1530.0 M1111.6 1522.6 V1530.0 M1115.5 1520.2 V1530.0 M1119.5 1517.3 V1530.0 M1123.5 1513.8 V1530.0 M1127.4 1509.7 V1530.0" stroke="#c9cbce" stroke-width="0.5" fill="none"/>
<text transform="translate(1095.7 1543.5) scale(0.850 1)" font-size="3.6" text-anchor="middle" fill="#6d7b8f" stroke="#6d7b8f" stroke-width="0.22" >Fatih Sultan Mehmet Köprüsü</text>
<text transform="translate(1148.9 1523.2) scale(0.833 1)" font-size="18.4" fill="#4d4d4f">Boğaz Köprüleri</text>
<text transform="translate(1148.9 1543.2) scale(0.833 1)" font-size="15.2" fill="#4d4d4f">Bosphorus Bridges</text>
<rect x="1320.3" y="1329.8" width="37.2" height="37.2" rx="4.5" fill="#fff" stroke="#1d2c5c" stroke-width="2.05"/>
<g transform="translate(1320.3 1329.8) scale(2.583)" fill="#1d2c5c"><path transform="translate(7.2 7.2) rotate(45) scale(0.95)" d="M0 -5.2 Q0.9 -4.4 0.9 -3 V-1.2 L5.2 1.6 V2.8 L0.9 1.3 V3.6 L2.2 4.6 V5.4 L0 4.8 L-2.2 5.4 V4.6 L-0.9 3.6 V1.3 L-5.2 2.8 V1.6 L-0.9 -1.2 V-3 Q-0.9 -4.4 0 -5.2 Z"/></g>
<rect x="1320.3" y="1384.3" width="37.2" height="37.2" rx="4.5" fill="#fff" stroke="#1d2c5c" stroke-width="2.05"/>
<g transform="translate(1320.3 1384.3) scale(2.583)" fill="#1d2c5c"><path d="M3.4 4.4 Q3.4 2.8 5 2.8 H9.4 Q11 2.8 11 4.4 V10.4 H3.4 Z M4.4 4.4 V7.4 H10 V4.4 Z" fill-rule="evenodd"/><rect x="3.9" y="10.2" width="1.6" height="1.5"/><rect x="8.9" y="10.2" width="1.6" height="1.5"/><circle cx="4.7" cy="8.9" r="0.55" fill="#fff"/><circle cx="9.7" cy="8.9" r="0.55" fill="#fff"/></g>
<rect x="1320.3" y="1439.3" width="37.2" height="37.2" rx="4.5" fill="#fff" stroke="#1d2c5c" stroke-width="2.05"/>
<g transform="translate(1320.3 1439.3) scale(2.583)" fill="#1d2c5c"><path d="M12.8 5.9 H7.4 Q4.4 6 1.7 9 Q1.3 10.5 2.8 10.5 H12.8 Z"/><path d="M3.7 8.3 L5.7 6.9 H9.6 V8.3 Z" fill="#fff"/><rect x="1.5" y="11.2" width="11.3" height="0.8"/><path d="M4.8 4.1 H8.8 M6.8 4.1 V5.9 M5.6 4.9 H8" stroke="#1d2c5c" stroke-width="0.6" fill="none"/></g>
<text transform="translate(1365.0 1354.5) scale(0.833 1)" font-size="18.2" fill="#4d4d4f">Havalimanı<tspan font-size="15.2"> / Airport</tspan></text>
<text transform="translate(1365.0 1407.6) scale(0.833 1)" font-size="18.2" fill="#4d4d4f">Otogar<tspan font-size="15.2"> / Coach Station</tspan></text>
<text transform="translate(1365.0 1455.4) scale(0.833 1)" font-size="18.2" fill="#4d4d4f">YHT-Hızlı Tren Garı</text>
<text transform="translate(1365.0 1474.8) scale(0.833 1)" font-size="15.0" fill="#4d4d4f">High Speed Train Station</text>
<path d="M1293.8 1517.4 H1400 Q1405.6 1527.7 1400 1538.2 H1293.8 Q1299 1527.7 1293.8 1517.4 Z" fill="#ddeefa" stroke="#b9c5ce" stroke-width="0.9"/>
<text transform="translate(1350 1531) scale(0.8 1)" font-size="9.4" fill="#5a6b80" text-anchor="middle">Marmaray Tüp Geçit</text>
<text transform="translate(1416.8 1523.2) scale(0.833 1)" font-size="18.4" fill="#4d4d4f">Boğaz Su Altı Geçişi</text>
<text transform="translate(1416.8 1543.2) scale(0.833 1)" font-size="15.2" fill="#4d4d4f">Underwater Tunnel</text>
<line x1="1567" y1="1445.4" x2="2100" y2="1445.4" stroke="#8c8e91" stroke-width="1.5"/>
<circle cx="1598" cy="1343.6" r="16.6" fill="#fff" stroke="#1d2c5c" stroke-width="2"/>
<path d="M1590.5 1338.5 L1598 1345 L1609 1334.5" fill="none" stroke="#1d2c5c" stroke-width="1.8"/>
<path d="M1598 1329.5 v3 M1598 1354.5 v3 M1584 1343.6 h3 M1609 1343.6 h3" stroke="#1d2c5c" stroke-width="1.6"/>
<rect x="1582.3" y="1460.6" width="31.6" height="31.6" fill="#fff" stroke="#1d2c5c" stroke-width="2.2"/>
<circle cx="1600" cy="1468.2" r="2.4" fill="#1d2c5c"/>
<path d="M1599 1472 V1480 H1605.5 L1608.5 1486.5 M1599 1475.5 H1604.5" fill="none" stroke="#1d2c5c" stroke-width="2"/>
<path d="M1596 1477 A6.2 6.2 0 1 0 1604.5 1484.6" fill="none" stroke="#1d2c5c" stroke-width="1.9"/>
<text transform="translate(1624.6 1337.7) scale(0.861 1)" font-size="16" fill="#4d4d4f">İşletme saatleri ve yoğun saat sefer aralıklarını Metro İstanbul cep</text>
<text transform="translate(1624.6 1356.9) scale(0.861 1)" font-size="16" fill="#4d4d4f">haritalarından, sefer tarifelerini istasyonlarda yer alan bilgilendirme</text>
<text transform="translate(1624.6 1375.7) scale(0.861 1)" font-size="16" fill="#4d4d4f">panolarından ve web sitemizden öğrenebilirsiniz.</text>
<text transform="translate(1624.6 1470.6) scale(0.861 1)" font-size="16" fill="#4d4d4f">T2 Taksim-Tünel ve T3 Kadıköy-Moda tramvay hatları ile T4 tramvay hattı</text>
<text transform="translate(1624.6 1489.8) scale(0.861 1)" font-size="16" fill="#4d4d4f">Cumhuriyet Mahallesi istasyonu haricindeki tüm raylı sistem istasyonları</text>
<text transform="translate(1624.6 1508.6) scale(0.861 1)" font-size="16" fill="#4d4d4f">engelli erişimine uygundur.</text>
<text transform="translate(1624.6 1394.9) scale(0.851 1)" font-size="13.5" fill="#4d4d4f">You can find about the operating hour and rush hour headways from Metro Istanbul</text>
<text transform="translate(1624.6 1414.3) scale(0.851 1)" font-size="13.5" fill="#4d4d4f">pocket maps and find more information about timetables from our website and</text>
<text transform="translate(1624.6 1432.9) scale(0.851 1)" font-size="13.5" fill="#4d4d4f">information boards at the stations.</text>
<text transform="translate(1624.6 1527.8) scale(0.851 1)" font-size="13.5" fill="#4d4d4f">All rail lines except for T2 Taksim-Tünel and T3 Kadıköy-Moda line, and all stations except</text>
<text transform="translate(1624.6 1546.9) scale(0.851 1)" font-size="13.5" fill="#4d4d4f">for Cumhuriyet Mahallesi station of T4 Topkapı-Mescid-i Selam tram line are accessible for</text>
<text transform="translate(1624.6 1565.8) scale(0.851 1)" font-size="13.5" fill="#4d4d4f">disabled passengers.</text>
<rect x="2115.5" y="1338.6" width="35" height="35" rx="5" fill="#000"/>
<path d="M2122.5 1345 L2143.5 1367 M2143.5 1345 L2122.5 1367" stroke="#fff" stroke-width="3.2" fill="none"/><path d="M2124.8 1346.2 L2141.2 1365.8" stroke="#000" stroke-width="1.2"/>
<text transform="translate(2157.2 1363.2) scale(0.852 1)" font-size="23.5" fill="#173a6e">metroistanbul</text>
<defs><linearGradient id="ig" x1="0" y1="1" x2="1" y2="0"><stop offset="0" stop-color="#fdb33c"/><stop offset="0.35" stop-color="#f0433f"/><stop offset="0.65" stop-color="#c72c97"/><stop offset="1" stop-color="#6a4fc9"/></linearGradient></defs>
<rect x="2115.5" y="1398.6" width="35" height="35" rx="8" fill="url(#ig)"/>
<rect x="2121.5" y="1404.6" width="23" height="23" rx="6" fill="none" stroke="#fff" stroke-width="2.4"/><circle cx="2133" cy="1416.1" r="5.6" fill="none" stroke="#fff" stroke-width="2.4"/><circle cx="2140" cy="1409.2" r="1.5" fill="#fff"/>
<text transform="translate(2157.2 1423.0) scale(0.852 1)" font-size="23.5" fill="#173a6e">metroistanbul_</text>
<rect x="2115.5" y="1458.5" width="35" height="35" rx="5" fill="#d8282a"/>
<text transform="translate(2133 1472.5) scale(0.7 1)" font-size="13" font-weight="bold" fill="#fff" text-anchor="middle">You</text>
<rect x="2120" y="1474.5" width="26" height="14.5" rx="4" fill="#fff"/>
<text transform="translate(2133 1486.4) scale(0.66 1)" font-size="13" font-weight="bold" fill="#111" text-anchor="middle">Tube</text>
<text transform="translate(2157.2 1483.0) scale(0.852 1)" font-size="23.5" fill="#173a6e">metroistanbul</text>
<rect x="2115.5" y="1518.3" width="35" height="35" rx="5" fill="#3a5fa8"/>
<text x="2133.6" y="1549" font-size="29" font-weight="bold" fill="#fff" text-anchor="middle">f</text>
<text transform="translate(2157.2 1542.6) scale(0.852 1)" font-size="23.5" fill="#173a6e">metroistanbulas</text>
<path d="M2316.5 1373 L2319.5 1363.5 A17 17 0 1 1 2325 1369.8 Z" fill="#fff" stroke="#7d8b86" stroke-width="1"/>
<circle cx="2332.2" cy="1355.4" r="14.6" fill="#3cb64a"/>
<path d="M2325.5 1349 Q2327.2 1346.8 2328.8 1349 L2330 1352 Q2329.6 1353.6 2328.6 1354 Q2330.6 1358.6 2335 1360.6 Q2335.8 1359.2 2337 1359 L2340 1360.6 Q2341 1362 2339 1363.6 Q2335.5 1365.4 2330.2 1361 Q2324.2 1355.4 2325.5 1349 Z" fill="#fff"/>
<text transform="translate(2354.3 1363.2) scale(0.852 1)" font-size="23.5" fill="#173a6e">0552 153 00 34</text>
<circle cx="2331.5" cy="1416" r="16" fill="#fff" stroke="#232f63" stroke-width="2.6"/>
<ellipse cx="2331.5" cy="1416" rx="7.4" ry="16" fill="none" stroke="#232f63" stroke-width="2"/>
<path d="M2315.5 1416 H2347.5 M2318.5 1407 H2344.5 M2318.5 1425 H2344.5 M2331.5 1400 V1432" stroke="#232f63" stroke-width="2" fill="none"/>
<path d="M2322 1431 L2340 1414 L2337 1426 L2343 1430 Z" fill="#232f63" stroke="#fff" stroke-width="1"/>
<text transform="translate(2354.3 1423.0) scale(0.852 1)" font-size="23.5" fill="#173a6e">metro.istanbul</text>
<path d="M2364 1474 L2351 1490 L2339 1478 Q2334 1470.5 2341 1465.5 Q2347 1463 2351.5 1469" fill="none" stroke="#1c5bab" stroke-width="7" stroke-linejoin="round"/>
<path d="M2351 1504 L2340 1492" fill="none" stroke="#1c5bab" stroke-width="6"/>
<path d="M2345.5 1474.5 L2353 1483 L2385 1461.5" fill="none" stroke="#e0202a" stroke-width="7" stroke-linejoin="miter"/>
<path d="M2351 1503 L2386 1470" fill="none" stroke="#1c5bab" stroke-width="5.4"/>
<text x="2394" y="1479.3" font-size="12.6" font-weight="bold" fill="#e0202a" textLength="56" lengthAdjust="spacingAndGlyphs">ÇÖZÜM</text>
<text x="2394" y="1495" font-size="12.6" font-weight="bold" fill="#1c5bab" textLength="67" lengthAdjust="spacingAndGlyphs">MERKEZİ</text>
<rect x="2328.4" y="1506.8" width="145" height="44.6" rx="7" fill="#fff" stroke="#e0202a" stroke-width="3"/>
<text x="2400.6" y="1541.6" font-size="33" font-weight="bold" fill="#e0202a" text-anchor="middle" textLength="122" lengthAdjust="spacingAndGlyphs">ALO 153</text>
<g transform="translate(20 1490) scale(0.1578)" fill="#f4914a" stroke="#f4914a" opacity="0.88" stroke-linejoin="round" stroke-linecap="round"><path stroke="none" d="M1620 480 Q1745 330 1790 95 Q2150 90 2245 480 L2280 545 L2170 600 L2105 520 Q2060 335 1890 325 Q1850 425 1745 540 L1690 600 Z"/><g fill="none" stroke-width="88"><path d="M300 330 A95 85 0 1 0 190 425 Q260 425 250 470 Q200 500 110 470"/><path d="M365 205 V400 Q365 450 300 450"/><path d="M600 330 A85 75 0 1 0 500 425 Q600 440 560 470 Q520 500 450 470"/><path d="M640 450 H1180"/><path d="M760 450 Q800 330 900 300"/><path d="M900 440 L1060 210"/><path d="M1285 215 V440"/><path d="M1490 390 A80 75 0 1 0 1400 470 Q1470 470 1490 390 Z"/></g><rect stroke="none" x="555" y="535" width="62" height="55"/><circle stroke="none" cx="1010" cy="215" r="40"/></g>
</svg>
</body></html>
